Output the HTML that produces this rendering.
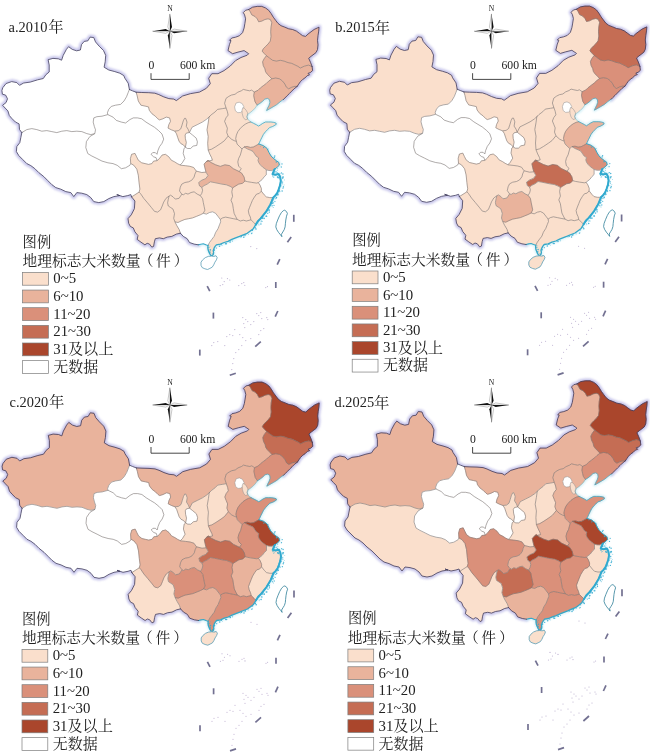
<!DOCTYPE html>
<html><head><meta charset="utf-8"><style>
html,body{margin:0;padding:0;background:#fff}
body{width:650px;height:754px;overflow:hidden}
svg{display:block}
text{font-family:"Liberation Serif","Noto Serif CJK SC",serif}
svg{opacity:0.999}
</style></head><body>
<svg width="650" height="754" viewBox="0 0 650 754">
<rect width="650" height="754" fill="#fff"/>
<defs><filter id="bl" x="-5%" y="-5%" width="110%" height="110%"><feGaussianBlur stdDeviation="0.9"/></filter></defs>
<g transform="translate(-328.2,-374.4)">
<path d="M350.0 507.0L347.7 503.9L347.3 498.3L343.6 496.4L339.9 492.7L337.5 489.9L336.1 485.3L333.4 482.5L330.8 479.7L334.3 476.9L335.7 473.2L333.8 469.5L330.6 468.6L330.1 464.9L331.0 462.1L334.3 457.9L339.9 456.0L345.0 457.0L347.7 459.7L351.9 457.4L358.4 456.5L365.9 454.2L371.5 452.9L374.1 449.1L377.4 446.4L377.4 439.4L376.3 434.1L381.1 432.8L386.5 433.2L389.8 434.6L391.4 429.8L394.6 423.8L396.8 421.1L400.5 423.8L404.8 425.2L408.6 424.4L409.7 419.0L412.4 415.8L416.1 415.2L418.3 411.5L422.0 412.0L423.7 416.3L427.4 420.6L431.7 424.9L433.9 429.8L433.4 436.2L432.3 441.6L437.0 444.4L443.0 446.0L448.0 447.6L452.0 450.0L453.0 452.5L456.4 457.6L457.6 463.9M457.6 463.9L460.6 465.2L464.3 466.6M350.0 507.0L349.0 512.0L348.0 517.0L345.0 521.0L344.6 526.0L347.0 530.0L351.0 534.0L355.0 538.0L359.0 540.0L363.0 543.0L367.0 547.0L372.0 551.0L376.0 555.0L380.0 559.0L384.0 562.0L389.0 563.6L394.0 566.0L399.0 567.0L402.0 571.0L405.0 567.0L410.0 567.6L415.0 569.0L419.0 572.0L422.0 576.0L427.0 577.0L432.0 576.0L437.0 573.0L442.0 571.0L448.0 570.0L445.0 569.0L451.0 571.0L456.0 570.0L459.0 569.0L459.8 571.3M459.8 571.3L463.1 575.4L462.6 583.1L459.5 589.2L456.2 593.1L456.9 597.7L458.5 600.8L461.5 602.3L463.1 606.2L466.2 610.0L465.4 613.8L469.2 616.6L473.1 619.2L475.4 617.7L477.7 618.5L480.0 621.5L481.8 620.8L482.6 616.2L483.5 613.1L487.7 612.3L491.5 613.1L495.4 611.5L500.0 610.8L504.6 608.5L508.6 607.6M508.6 607.6L511.5 610.8L515.4 613.1L517.7 616.9L522.3 618.5L526.5 619.2M611.5 474.0L613.1 472.4L615.4 470.1L617.7 467.8L620.0 465.5L622.3 463.2L625.4 460.8M625.4 460.8L626.9 458.5L628.5 456.2L630.8 453.9L633.1 452.4L635.4 450.1L637.7 449.3L636.2 447.8L638.5 447.0L640.8 445.0L640.3 441.0M576.9 383.9L580.8 381.6L585.4 380.8L590.0 380.8L593.8 382.4L596.9 384.7L599.2 387.8L601.5 391.6L603.8 394.7L606.2 397.8L609.2 400.1L613.1 401.6L616.9 403.2L620.8 403.9L624.6 405.5L627.7 407.8L630.8 410.1L633.8 410.8L636.2 408.5L639.2 406.2L642.3 403.9L645.4 402.4L647.2 401.6L646.9 405.5L646.2 410.1L645.7 414.7L646.2 419.3L645.7 423.9L644.2 427.0L639.3 430.7L636.9 432.7L638.7 436.7L640.3 441.0M464.3 466.6L470.0 466.9L477.0 467.1L483.0 467.6L487.0 469.0L492.0 471.3L497.0 473.0L502.0 473.5L504.5 475.0L507.7 472.7L510.8 470.4L518.5 468.1L527.7 466.5L534.6 462.7L538.5 458.1L536.9 452.7L540.0 448.1L546.2 448.1L552.3 445.0L558.5 440.4L563.8 435.0L569.2 431.9L575.4 429.6L576.9 428.1L572.3 425.0L566.2 426.5L560.8 428.1L556.2 425.0L557.7 418.8L559.2 415.0L557.7 414.7L560.0 412.4L563.8 411.6L567.7 410.1L570.8 407.0L572.3 402.4L573.1 397.8L573.8 393.2L572.8 389.3L571.5 387.0L573.8 384.7L576.9 383.9" fill="none" stroke="#bfbde8" stroke-width="4.6" stroke-linejoin="round" stroke-linecap="round" opacity="0.88" filter="url(#bl)"/>
<path d="M526.5 619.2L529.0 618.6L531.5 618.2L534.0 619.2L536.2 620.0M536.2 620.0L536.0 622.0L536.4 624.5L537.3 626.8L538.2 628.6L539.0 629.8L540.4 630.0L541.5 628.8L541.8 627.0L541.4 625.0L542.2 622.8L543.3 620.8L544.6 619.2L548.5 618.5L552.3 616.9L556.2 615.7L560.0 613.8L563.8 612.3L567.7 610.8L571.5 609.2L575.4 607.7L578.5 605.4L581.5 603.1L584.0 599.0M587.0 518.4L591.7 520.1L595.2 522.8L597.2 527.0L599.3 530.5L602.1 533.2L604.8 535.3L606.9 536.7L607.6 539.5L605.5 541.5L602.8 543.6M602.8 543.6L600.7 548.5L603.5 549.2L606.9 548.5L608.3 551.2L609.0 555.4L608.3 559.5L606.9 563.7L605.5 567.2L603.5 569.9L601.4 572.0M601.4 572.0L600.0 575.5L598.6 578.9L596.5 582.4L594.5 585.8L591.7 589.3L588.9 592.8L586.2 595.5L584.0 599.0M579.2 496.4L581.9 497.8L584.7 499.2L586.8 500.5L588.8 499.2L590.9 497.8L593.7 496.4L596.5 496.4L599.2 496.4L602.0 496.8L604.1 497.4L604.5 498.7L602.3 500.1L600.6 501.0L597.8 501.9L595.8 504.0L593.7 506.1L591.6 508.8L590.2 511.6L588.8 514.4L587.5 517.2L587.0 518.4M585.4 479.5L583.3 482.5L580.5 485.3L577.8 487.4L575.7 488.8L575.0 490.8L575.7 492.9L577.1 495.0L579.2 496.4M585.4 479.5L588.2 477.7L590.9 475.6L593.0 473.5L595.8 472.8L597.8 474.2L598.1 477.0L597.2 479.8L595.8 482.5L594.8 484.9L597.8 483.2L601.3 481.2L604.8 479.1L608.2 476.3L611.0 474.2L611.5 474.0" fill="none" stroke="#bfeaf5" stroke-width="3" stroke-linejoin="round" stroke-linecap="round" opacity="0.7" filter="url(#bl)"/>
<path d="M350.0 507.0L347.7 503.9L347.3 498.3L343.6 496.4L339.9 492.7L337.5 489.9L336.1 485.3L333.4 482.5L330.8 479.7L334.3 476.9L335.7 473.2L333.8 469.5L330.6 468.6L330.1 464.9L331.0 462.1L334.3 457.9L339.9 456.0L345.0 457.0L347.7 459.7L351.9 457.4L358.4 456.5L365.9 454.2L371.5 452.9L374.1 449.1L377.4 446.4L377.4 439.4L376.3 434.1L381.1 432.8L386.5 433.2L389.8 434.6L391.4 429.8L394.6 423.8L396.8 421.1L400.5 423.8L404.8 425.2L408.6 424.4L409.7 419.0L412.4 415.8L416.1 415.2L418.3 411.5L422.0 412.0L423.7 416.3L427.4 420.6L431.7 424.9L433.9 429.8L433.4 436.2L432.3 441.6L437.0 444.4L443.0 446.0L448.0 447.6L452.0 450.0L453.0 452.5L456.4 457.6L457.6 463.9L456.4 466.9L454.7 471.2L452.2 475.4L448.8 478.8L443.7 479.6L439.5 480.8L436.9 483.8L435.6 487.2L436.0 489.0L430.2 490.6L425.1 491.1L422.0 492.3L421.4 496.5L422.5 500.8L423.7 504.2L423.0 508.0L419.0 509.0L415.0 508.0L410.0 506.0L405.0 505.6L400.0 506.0L395.0 505.0L390.0 505.6L385.0 507.0L380.0 506.0L375.0 505.0L370.0 505.6L365.0 504.0L360.0 503.0L355.0 504.0Z" fill="#ffffff" stroke="#ffffff" stroke-width="0.4"/>
<path d="M350.0 507.0L355.0 504.0L360.0 503.0L365.0 504.0L370.0 505.6L375.0 505.0L380.0 506.0L385.0 507.0L390.0 505.6L395.0 505.0L400.0 506.0L405.0 505.6L410.0 506.0L415.0 508.0L419.0 509.0L423.0 508.0L418.0 511.0L414.6 516.0L414.0 522.0L416.0 528.0L420.0 530.4L425.1 532.9L430.2 535.5L436.1 537.2L441.2 538.0L445.4 539.7L449.6 543.1L453.8 542.2L458.1 539.7L458.9 537.9L461.9 539.6L465.0 543.5L466.5 549.6L467.3 557.3L468.1 563.5L467.3 566.5L459.8 571.3L459.0 569.0L456.0 570.0L451.0 571.0L445.0 569.0L448.0 570.0L442.0 571.0L437.0 573.0L432.0 576.0L427.0 577.0L422.0 576.0L419.0 572.0L415.0 569.0L410.0 567.6L405.0 567.0L402.0 571.0L399.0 567.0L394.0 566.0L389.0 563.6L384.0 562.0L380.0 559.0L376.0 555.0L372.0 551.0L367.0 547.0L363.0 543.0L359.0 540.0L355.0 538.0L351.0 534.0L347.0 530.0L344.6 526.0L345.0 521.0L348.0 517.0L349.0 512.0Z" fill="#ffffff" stroke="#ffffff" stroke-width="0.4"/>
<path d="M423.0 508.0L423.7 504.2L422.5 500.8L421.4 496.5L422.0 492.3L425.1 491.1L430.2 490.6L436.0 489.0L441.2 491.5L444.5 494.8L449.6 496.5L453.8 497.4L458.1 494.0L461.5 492.3L465.7 492.3L469.9 493.2L474.2 496.5L478.4 499.1L482.6 501.6L486.8 505.0L490.2 508.4L491.9 513.5L490.2 517.7L487.7 521.1L486.0 525.3L485.2 528.7L483.5 527.0L480.9 527.0L479.2 528.7L481.8 531.2L484.3 532.1L485.2 535.1L481.8 535.5L480.1 538.0L476.7 538.8L473.3 538.0L469.9 537.2L466.5 534.6L464.8 531.2L463.2 527.8L459.8 528.7L458.6 532.9L458.9 537.9L458.1 539.7L453.8 542.2L449.6 543.1L445.4 539.7L441.2 538.0L436.1 537.2L430.2 535.5L425.1 532.9L420.0 530.4L416.0 528.0L414.0 522.0L414.6 516.0L418.0 511.0Z" fill="#ffffff" stroke="#ffffff" stroke-width="0.4"/>
<path d="M436.0 489.0L435.6 487.2L436.9 483.8L439.5 480.8L443.7 479.6L448.8 478.8L452.2 475.4L454.7 471.2L456.4 466.9L457.6 463.9L460.6 465.2L464.3 466.6L465.4 470.3L466.5 475.4L469.1 479.6L473.3 480.5L476.7 481.3L477.5 484.7L480.1 488.1L483.5 490.6L486.0 493.2L487.7 494.3L491.1 493.2L494.5 491.5L497.8 492.3L498.7 495.7L497.0 499.1L496.2 502.5L499.5 504.2L503.0 505.5L504.7 508.2L505.9 511.8L507.2 515.5L509.0 518.0L511.5 519.2L513.6 521.7L512.2 522.8L511.4 527.8L513.1 532.9L510.5 537.2L508.3 539.4L505.5 538.0L502.9 536.3L499.5 534.6L497.0 531.2L493.6 528.7L490.2 529.5L487.7 532.9L485.2 535.1L484.3 532.1L481.8 531.2L479.2 528.7L480.9 527.0L483.5 527.0L485.2 528.7L486.0 525.3L487.7 521.1L490.2 517.7L491.9 513.5L490.2 508.4L486.8 505.0L482.6 501.6L478.4 499.1L474.2 496.5L469.9 493.2L465.7 492.3L461.5 492.3L458.1 494.0L453.8 497.4L449.6 496.5L444.5 494.8L441.2 491.5Z" fill="#ffffff" stroke="#ffffff" stroke-width="0.4"/>
<path d="M517.6 506.9L514.5 507.5L513.3 509.4L513.6 513.1L514.5 516.8L513.6 521.7L515.8 522.9L518.8 522.9L521.3 520.5L525.0 519.8L525.6 516.2L524.4 512.5L520.7 509.4Z" fill="#ffffff" stroke="#ffffff" stroke-width="0.4"/>
<path d="M464.3 466.6L465.4 470.3L466.5 475.4L469.1 479.6L473.3 480.5L476.7 481.3L477.5 484.7L480.1 488.1L483.5 490.6L486.0 493.2L487.7 494.3L491.1 493.2L494.5 491.5L497.8 492.3L498.7 495.7L497.0 499.1L496.2 502.5L499.5 504.2L503.0 505.5L506.5 505.1L509.0 503.2L510.2 499.5L511.5 495.2L512.7 492.8L513.9 492.8L515.2 496.5L514.5 500.8L516.4 503.8L517.6 506.9L520.3 501.6L525.4 499.1L530.5 496.5L534.7 493.7L538.1 490.6L539.3 489.3L543.2 486.4L545.7 483.8L550.8 483.0L554.3 482.4L552.8 477.7L554.2 472.8L557.0 470.8L559.8 469.4L563.2 468.7L566.0 466.6L569.5 465.2L571.5 463.8L574.3 464.5L577.8 465.2L579.8 464.5L582.5 466.4L586.2 464.7L588.5 462.4L591.5 460.1L594.6 457.8L596.9 455.5L600.0 453.2L597.7 450.8L595.4 448.5L593.8 446.2L593.1 443.2L591.5 440.1L590.8 436.2L592.3 433.2L594.6 430.1L592.3 427.8L590.3 425.5L591.5 423.2L593.8 420.8L596.2 418.5L598.5 415.5L599.2 410.8L598.9 406.2L599.2 401.6L600.0 397.0L598.5 393.9L596.2 393.2L593.1 393.9L590.0 395.5L586.9 396.2L585.4 393.2L583.1 390.8L580.0 389.3L578.5 386.2L576.9 383.9L573.8 384.7L571.5 387.0L572.8 389.3L573.8 393.2L573.1 397.8L572.3 402.4L570.8 407.0L567.7 410.1L563.8 411.6L560.0 412.4L557.7 414.7L559.2 415.0L557.7 418.8L556.2 425.0L560.8 428.1L566.2 426.5L572.3 425.0L576.9 428.1L575.4 429.6L569.2 431.9L563.8 435.0L558.5 440.4L552.3 445.0L546.2 448.1L540.0 448.1L536.9 452.7L538.5 458.1L534.6 462.7L527.7 466.5L518.5 468.1L510.8 470.4L507.7 472.7L504.5 475.0L502.0 473.5L497.0 473.0L492.0 471.3L487.0 469.0L483.0 467.6L477.0 467.1L470.0 466.9Z" fill="#FADFCC" stroke="#FADFCC" stroke-width="0.4"/>
<path d="M503.0 505.5L504.7 508.2L505.9 511.8L507.2 515.5L509.0 518.0L511.5 519.2L513.6 521.7L514.5 516.8L513.6 513.1L513.3 509.4L514.5 507.5L517.6 506.9L516.4 503.8L514.5 500.8L515.2 496.5L513.9 492.8L512.7 492.8L511.5 495.2L510.2 499.5L509.0 503.2L506.5 505.1Z" fill="#FADFCC" stroke="#FADFCC" stroke-width="0.4"/>
<path d="M517.6 506.9L520.7 509.4L524.4 512.5L525.6 516.2L525.0 519.8L521.3 520.5L518.8 522.9L515.8 522.9L513.6 521.7L512.2 522.8L511.4 527.8L513.1 532.9L510.5 537.2L508.3 539.4L508.8 539.6L513.5 540.1L518.1 540.7L521.9 541.9L524.5 545.5L530.0 546.9L534.2 546.5L533.1 542.3L532.3 538.5L534.5 536.0L540.6 534.6L539.8 532.1L538.1 528.7L536.4 524.5L535.9 517.7L536.4 510.9L535.2 504.2L536.4 497.4L537.2 491.5L538.1 490.6L534.7 493.7L530.5 496.5L525.4 499.1L520.3 501.6Z" fill="#ffffff" stroke="#ffffff" stroke-width="0.4"/>
<path d="M536.4 524.5L535.9 517.7L536.4 510.9L535.2 504.2L536.4 497.4L537.2 491.5L538.1 490.6L539.3 489.3L543.2 486.4L545.7 483.8L550.8 483.0L554.3 482.4L555.6 486.0L556.3 489.5L554.2 492.2L552.8 495.7L554.2 499.2L555.6 502.6L554.9 506.8L556.3 510.5L552.5 515.2L549.1 517.7L544.0 521.1L539.8 523.6Z" fill="#FADFCC" stroke="#FADFCC" stroke-width="0.4"/>
<path d="M554.3 482.4L555.6 486.0L556.3 489.5L554.2 492.2L552.8 495.7L554.2 499.2L555.6 502.6L554.9 506.8L556.3 510.5L559.8 513.7L562.5 515.1L564.6 515.8L563.9 513.0L564.6 509.5L566.0 506.1L568.1 503.3L570.8 500.5L573.6 498.5L576.4 497.1L579.2 496.4L577.1 495.0L575.7 492.9L575.0 490.8L575.7 488.8L577.8 487.4L580.5 485.3L583.3 482.5L585.4 479.5L584.7 478.4L583.3 476.3L582.6 473.5L581.9 470.1L582.5 466.4L579.8 464.5L577.8 465.2L574.3 464.5L571.5 463.8L569.5 465.2L566.0 466.6L563.2 468.7L559.8 469.4L557.0 470.8L554.2 472.8L552.8 477.7Z" fill="#FADFCC" stroke="#FADFCC" stroke-width="0.4"/>
<path d="M585.4 479.5L588.2 477.7L590.9 475.6L593.0 473.5L595.8 472.8L597.8 474.2L598.1 477.0L597.2 479.8L595.8 482.5L594.8 484.9L597.8 483.2L601.3 481.2L604.8 479.1L608.2 476.3L611.0 474.2L611.5 474.0L613.1 472.4L615.4 470.1L617.7 467.8L620.0 465.5L622.3 463.2L625.4 460.8L623.1 460.8L620.0 461.6L616.9 463.2L614.6 461.6L613.1 458.5L610.8 455.5L607.7 453.2L603.8 452.4L600.0 453.2L596.9 455.5L594.6 457.8L591.5 460.1L588.5 462.4L586.2 464.7L582.5 466.4L581.9 470.1L582.6 473.5L583.3 476.3L584.7 478.4Z" fill="#E9B39C" stroke="#E9B39C" stroke-width="0.4"/>
<path d="M625.4 460.8L626.9 458.5L628.5 456.2L630.8 453.9L633.1 452.4L635.4 450.1L637.7 449.3L636.2 447.8L638.5 447.0L640.8 445.0L640.3 441.0L636.7 439.5L632.7 440.5L628.5 442.4L626.2 440.8L623.1 439.3L620.0 437.8L616.2 437.0L612.3 435.5L608.5 434.7L604.6 435.5L600.8 434.7L597.7 432.4L594.6 430.1L592.3 433.2L590.8 436.2L591.5 440.1L593.1 443.2L593.8 446.2L595.4 448.5L597.7 450.8L600.0 453.2L603.8 452.4L607.7 453.2L610.8 455.5L613.1 458.5L614.6 461.6L616.9 463.2L620.0 461.6L623.1 460.8Z" fill="#E9B39C" stroke="#E9B39C" stroke-width="0.4"/>
<path d="M576.9 383.9L580.8 381.6L585.4 380.8L590.0 380.8L593.8 382.4L596.9 384.7L599.2 387.8L601.5 391.6L603.8 394.7L606.2 397.8L609.2 400.1L613.1 401.6L616.9 403.2L620.8 403.9L624.6 405.5L627.7 407.8L630.8 410.1L633.8 410.8L636.2 408.5L639.2 406.2L642.3 403.9L645.4 402.4L647.2 401.6L646.9 405.5L646.2 410.1L645.7 414.7L646.2 419.3L645.7 423.9L644.2 427.0L639.3 430.7L636.9 432.7L638.7 436.7L640.3 441.0L636.7 439.5L632.7 440.5L628.5 442.4L626.2 440.8L623.1 439.3L620.0 437.8L616.2 437.0L612.3 435.5L608.5 434.7L604.6 435.5L600.8 434.7L597.7 432.4L594.6 430.1L592.3 427.8L590.3 425.5L591.5 423.2L593.8 420.8L596.2 418.5L598.5 415.5L599.2 410.8L598.9 406.2L599.2 401.6L600.0 397.0L598.5 393.9L596.2 393.2L593.1 393.9L590.0 395.5L586.9 396.2L585.4 393.2L583.1 390.8L580.0 389.3L578.5 386.2Z" fill="#E9B39C" stroke="#E9B39C" stroke-width="0.4"/>
<path d="M564.6 515.8L563.9 513.0L564.6 509.5L566.0 506.1L568.1 503.3L570.8 500.5L573.6 498.5L576.4 497.1L579.2 496.4L581.9 497.8L584.7 499.2L586.8 500.5L588.8 499.2L590.9 497.8L593.7 496.4L596.5 496.4L599.2 496.4L602.0 496.8L604.1 497.4L604.5 498.7L602.3 500.1L600.6 501.0L597.8 501.9L595.8 504.0L593.7 506.1L591.6 508.8L590.2 511.6L588.8 514.4L587.5 517.2L587.0 518.4L583.8 520.2L581.5 521.4L578.5 521.8L575.4 520.9L572.2 521.3L570.2 523.4L567.4 520.6L565.3 518.5Z" fill="#FADFCC" stroke="#FADFCC" stroke-width="0.4"/>
<path d="M534.5 536.0L540.6 534.6L539.8 532.1L538.1 528.7L536.4 524.5L539.8 523.6L544.0 521.1L549.1 517.7L552.5 515.2L556.3 510.5L559.8 513.7L562.5 515.1L564.6 515.8L565.3 518.5L567.4 520.6L570.2 523.4L568.5 529.5L566.8 532.9L566.0 536.3L566.8 540.5L569.4 543.1L567.5 546.0L561.5 543.1L557.7 540.0L553.1 539.2L548.5 540.8L543.8 539.2L539.2 536.9L536.2 534.6Z" fill="#FADFCC" stroke="#FADFCC" stroke-width="0.4"/>
<path d="M572.2 521.3L575.4 520.9L578.5 521.8L581.5 521.4L583.8 520.2L587.0 518.4L591.7 520.1L595.2 522.8L597.2 527.0L599.3 530.5L602.1 533.2L604.8 535.3L606.9 536.7L607.6 539.5L605.5 541.5L602.8 543.6L600.0 545.0L597.0 544.9L594.5 544.2L593.1 543.1L590.8 541.5L588.5 539.2L586.9 536.9L586.2 534.6L586.9 532.3L584.6 530.8L582.7 528.1L581.2 525.8L578.5 524.5L575.4 523.2Z" fill="#E9B39C" stroke="#E9B39C" stroke-width="0.4"/>
<path d="M570.2 523.4L572.2 521.3L575.4 523.2L578.5 524.5L581.2 525.8L582.7 528.1L584.6 530.8L586.9 532.3L586.2 534.6L586.9 536.9L588.5 539.2L590.8 541.5L593.1 543.1L594.5 544.2L594.5 549.2L592.4 551.2L590.3 554.0L586.5 557.0L584.8 557.5L579.9 556.8L575.8 556.1L573.1 555.4L572.3 551.5L570.0 547.7L567.5 546.0L569.4 543.1L566.8 540.5L566.0 536.3L566.8 532.9L568.5 529.5Z" fill="#FADFCC" stroke="#FADFCC" stroke-width="0.4"/>
<path d="M589.5 565.5L589.6 563.0L588.2 559.5L586.5 557.0L590.3 554.0L592.4 551.2L594.5 549.2L594.5 544.2L597.0 544.9L600.0 545.0L602.8 543.6L600.7 548.5L603.5 549.2L606.9 548.5L608.3 551.2L609.0 555.4L608.3 559.5L606.9 563.7L605.5 567.2L603.5 569.9L601.4 572.0L597.9 572.0L594.5 571.3L592.4 569.2Z" fill="#ffffff" stroke="#ffffff" stroke-width="0.4"/>
<path d="M579.2 594.2L582.0 597.0L584.0 599.0L586.2 595.5L588.9 592.8L591.7 589.3L594.5 585.8L596.5 582.4L598.6 578.9L600.0 575.5L601.4 572.0L597.9 572.0L594.5 571.3L592.4 569.2L589.5 565.5L587.5 567.8L584.8 568.5L582.7 571.3L580.6 574.8L579.2 578.2L577.8 581.7L576.5 585.2L577.2 588.6L578.5 591.4Z" fill="#FADFCC" stroke="#FADFCC" stroke-width="0.4"/>
<path d="M573.1 555.4L570.8 557.7L566.9 558.5L563.1 560.8L560.8 562.3L560.0 566.2L560.8 570.8L559.2 574.6L560.8 578.5L561.5 583.1L562.3 587.7L563.8 590.8L565.4 593.8L568.5 595.4L571.5 594.6L574.6 595.4L579.2 594.2L578.5 591.4L577.2 588.6L576.5 585.2L577.8 581.7L579.2 578.2L580.6 574.8L582.7 571.3L584.8 568.5L587.5 567.8L589.5 565.5L589.6 563.0L588.2 559.5L586.5 557.0L584.8 557.5L579.9 556.8L575.8 556.1Z" fill="#FADFCC" stroke="#FADFCC" stroke-width="0.4"/>
<path d="M534.2 546.5L536.2 550.0L533.8 553.1L530.0 554.6L526.9 556.9L527.7 560.3L530.0 561.8L532.3 560.0L535.4 558.5L538.5 556.2L542.3 556.9L546.2 557.7L550.0 558.5L554.6 559.2L558.5 560.8L560.8 562.3L563.1 560.8L566.9 558.5L570.8 557.7L573.1 555.4L572.3 551.5L570.0 547.7L567.5 546.0L561.5 543.1L557.7 540.0L553.1 539.2L548.5 540.8L543.8 539.2L539.2 536.9L536.2 534.6L534.5 536.0L532.3 538.5L533.1 542.3Z" fill="#E9B39C" stroke="#E9B39C" stroke-width="0.4"/>
<path d="M528.5 570.0L530.8 573.1L531.5 576.9L532.3 580.8L533.1 584.6L531.5 587.7L534.6 588.5L537.7 586.9L540.8 586.2L543.8 587.7L546.2 590.8L548.5 593.8L550.8 592.3L553.8 591.5L557.7 592.3L561.5 593.1L565.4 593.8L563.8 590.8L562.3 587.7L561.5 583.1L560.8 578.5L559.2 574.6L560.8 570.8L560.0 566.2L560.8 562.3L558.5 560.8L554.6 559.2L550.0 558.5L546.2 557.7L542.3 556.9L538.5 556.2L535.4 558.5L532.3 560.0L530.0 561.8L530.8 564.6L530.0 567.7Z" fill="#FADFCC" stroke="#FADFCC" stroke-width="0.4"/>
<path d="M565.4 593.8L561.5 593.1L557.7 592.3L553.8 591.5L550.8 592.3L548.5 593.8L548.9 596.2L547.7 599.2L546.2 603.1L543.8 606.9L542.3 610.8L540.0 613.8L537.7 616.9L536.2 620.0L536.0 622.0L536.4 624.5L537.3 626.8L538.2 628.6L539.0 629.8L540.4 630.0L541.5 628.8L541.8 627.0L541.4 625.0L542.2 622.8L543.3 620.8L544.6 619.2L548.5 618.5L552.3 616.9L556.2 615.7L560.0 613.8L563.8 612.3L567.7 610.8L571.5 609.2L575.4 607.7L578.5 605.4L581.5 603.1L584.0 599.0L582.0 597.0L579.2 594.2L574.6 595.4L571.5 594.6L568.5 595.4Z" fill="#FADFCC" stroke="#FADFCC" stroke-width="0.4"/>
<path d="M508.6 607.6L511.5 610.8L515.4 613.1L517.7 616.9L522.3 618.5L526.5 619.2L529.0 618.6L531.5 618.2L534.0 619.2L536.2 620.0L537.7 616.9L540.0 613.8L542.3 610.8L543.8 606.9L546.2 603.1L547.7 599.2L548.9 596.2L548.5 593.8L546.2 590.8L543.8 587.7L540.8 586.2L537.7 586.9L534.6 588.5L531.5 587.7L528.5 589.2L524.6 590.8L520.8 592.3L516.9 593.1L513.1 593.8L509.2 595.4L506.2 596.9L503.1 596.2L505.0 600.0L507.4 604.0Z" fill="#ffffff" stroke="#ffffff" stroke-width="0.4"/>
<path d="M510.0 568.6L507.3 572.7L503.5 573.5L501.2 571.2L498.8 569.6L497.3 570.4L496.5 573.5L495.8 577.3L496.5 580.4L498.8 581.9L501.2 583.5L502.7 588.1L501.9 592.7L503.1 596.2L506.2 596.9L509.2 595.4L513.1 593.8L516.9 593.1L520.8 592.3L524.6 590.8L528.5 589.2L531.5 587.7L533.1 584.6L532.3 580.8L531.5 576.9L530.8 573.1L528.5 570.0L525.4 568.5L522.3 566.2L519.2 566.9L516.2 568.5L513.8 567.7L511.5 569.2Z" fill="#FADFCC" stroke="#FADFCC" stroke-width="0.4"/>
<path d="M467.3 566.5L459.8 571.3L463.1 575.4L462.6 583.1L459.5 589.2L456.2 593.1L456.9 597.7L458.5 600.8L461.5 602.3L463.1 606.2L466.2 610.0L465.4 613.8L469.2 616.6L473.1 619.2L475.4 617.7L477.7 618.5L480.0 621.5L481.8 620.8L482.6 616.2L483.5 613.1L487.7 612.3L491.5 613.1L495.4 611.5L500.0 610.8L504.6 608.5L508.6 607.6L507.4 604.0L505.0 600.0L503.1 596.2L501.9 592.7L502.7 588.1L501.2 583.5L498.8 581.9L496.5 580.4L495.8 577.3L496.5 573.5L497.3 570.4L494.2 572.7L491.9 576.5L490.4 580.4L488.8 584.2L485.8 586.5L482.7 585.8L479.6 581.9L475.8 577.3L471.9 572.7L468.8 568.1Z" fill="#FADFCC" stroke="#FADFCC" stroke-width="0.4"/>
<path d="M458.9 537.9L458.6 532.9L459.8 528.7L463.2 527.8L464.8 531.2L466.5 534.6L469.9 537.2L473.3 538.0L476.7 538.8L480.1 538.0L481.8 535.5L485.2 535.1L487.7 532.9L490.2 529.5L493.6 528.7L497.0 531.2L499.5 534.6L502.9 536.3L505.5 538.0L508.3 539.4L508.8 539.6L513.5 540.1L518.1 540.7L521.9 541.9L524.5 545.5L523.1 548.5L522.3 551.5L520.0 554.6L516.9 556.2L513.1 556.9L510.0 558.5L508.5 561.5L507.7 565.4L510.0 568.6L507.3 572.7L503.5 573.5L501.2 571.2L498.8 569.6L497.3 570.4L494.2 572.7L491.9 576.5L490.4 580.4L488.8 584.2L485.8 586.5L482.7 585.8L479.6 581.9L475.8 577.3L471.9 572.7L468.8 568.1L467.3 566.5L468.1 563.5L467.3 557.3L466.5 549.6L465.0 543.5L461.9 539.6Z" fill="#FADFCC" stroke="#FADFCC" stroke-width="0.4"/>
<path d="M524.5 545.5L523.1 548.5L522.3 551.5L520.0 554.6L516.9 556.2L513.1 556.9L510.0 558.5L508.5 561.5L507.7 565.4L510.0 568.6L511.5 569.2L513.8 567.7L516.2 568.5L519.2 566.9L522.3 566.2L525.4 568.5L528.5 570.0L530.0 567.7L530.8 564.6L530.0 561.8L527.7 560.3L526.9 556.9L530.0 554.6L533.8 553.1L536.2 550.0L534.2 546.5L530.0 546.9Z" fill="#FADFCC" stroke="#FADFCC" stroke-width="0.4"/>
<path d="M564.3 477.4L567.4 476.6L570.4 478.0L572.1 481.2L571.3 484.6L569.0 486.8L566.0 487.1L563.6 485.2L562.8 481.3Z" fill="#ffffff" stroke="#8f8f8f" stroke-width="0.5"/>
<path d="M571.0 482.1L572.6 482.7L574.3 484.6L575.7 487.1L576.0 489.5L575.1 491.3L575.8 493.5L573.5 494.2L571.5 491.8L570.4 488.1L570.2 484.6Z" fill="#FADFCC" stroke="#8f8f8f" stroke-width="0.5"/>
<path d="M350.0 507.0L355.0 504.0L360.0 503.0L365.0 504.0L370.0 505.6L375.0 505.0L380.0 506.0L385.0 507.0L390.0 505.6L395.0 505.0L400.0 506.0L405.0 505.6L410.0 506.0L415.0 508.0L419.0 509.0L423.0 508.0M423.0 508.0L423.7 504.2L422.5 500.8L421.4 496.5L422.0 492.3L425.1 491.1L430.2 490.6L436.0 489.0M436.0 489.0L435.6 487.2L436.9 483.8L439.5 480.8L443.7 479.6L448.8 478.8L452.2 475.4L454.7 471.2L456.4 466.9L457.6 463.9M423.0 508.0L418.0 511.0L414.6 516.0L414.0 522.0L416.0 528.0L420.0 530.4L425.1 532.9L430.2 535.5L436.1 537.2L441.2 538.0L445.4 539.7L449.6 543.1L453.8 542.2L458.1 539.7L458.9 537.9M436.0 489.0L441.2 491.5L444.5 494.8L449.6 496.5L453.8 497.4L458.1 494.0L461.5 492.3L465.7 492.3L469.9 493.2L474.2 496.5L478.4 499.1L482.6 501.6L486.8 505.0L490.2 508.4L491.9 513.5L490.2 517.7L487.7 521.1L486.0 525.3L485.2 528.7L483.5 527.0L480.9 527.0L479.2 528.7L481.8 531.2L484.3 532.1L485.2 535.1M458.9 537.9L458.6 532.9L459.8 528.7L463.2 527.8L464.8 531.2L466.5 534.6L469.9 537.2L473.3 538.0L476.7 538.8L480.1 538.0L481.8 535.5L485.2 535.1M458.9 537.9L461.9 539.6L465.0 543.5L466.5 549.6L467.3 557.3L468.1 563.5L467.3 566.5M467.3 566.5L459.8 571.3M464.3 466.6L465.4 470.3L466.5 475.4L469.1 479.6L473.3 480.5L476.7 481.3L477.5 484.7L480.1 488.1L483.5 490.6L486.0 493.2L487.7 494.3L491.1 493.2L494.5 491.5L497.8 492.3L498.7 495.7L497.0 499.1L496.2 502.5L499.5 504.2L503.0 505.5M503.0 505.5L504.7 508.2L505.9 511.8L507.2 515.5L509.0 518.0L511.5 519.2L513.6 521.7M503.0 505.5L506.5 505.1L509.0 503.2L510.2 499.5L511.5 495.2L512.7 492.8L513.9 492.8L515.2 496.5L514.5 500.8L516.4 503.8L517.6 506.9M517.6 506.9L514.5 507.5L513.3 509.4L513.6 513.1L514.5 516.8L513.6 521.7M517.6 506.9L520.7 509.4L524.4 512.5L525.6 516.2L525.0 519.8L521.3 520.5L518.8 522.9L515.8 522.9L513.6 521.7M513.6 521.7L512.2 522.8L511.4 527.8L513.1 532.9L510.5 537.2L508.3 539.4M485.2 535.1L487.7 532.9L490.2 529.5L493.6 528.7L497.0 531.2L499.5 534.6L502.9 536.3L505.5 538.0L508.3 539.4M508.3 539.4L508.8 539.6L513.5 540.1L518.1 540.7L521.9 541.9L524.5 545.5M524.5 545.5L523.1 548.5L522.3 551.5L520.0 554.6L516.9 556.2L513.1 556.9L510.0 558.5L508.5 561.5L507.7 565.4L510.0 568.6M510.0 568.6L507.3 572.7L503.5 573.5L501.2 571.2L498.8 569.6L497.3 570.4M467.3 566.5L468.8 568.1L471.9 572.7L475.8 577.3L479.6 581.9L482.7 585.8L485.8 586.5L488.8 584.2L490.4 580.4L491.9 576.5L494.2 572.7L497.3 570.4M497.3 570.4L496.5 573.5L495.8 577.3L496.5 580.4L498.8 581.9L501.2 583.5L502.7 588.1L501.9 592.7L503.1 596.2M503.1 596.2L505.0 600.0L507.4 604.0L508.6 607.6M503.1 596.2L506.2 596.9L509.2 595.4L513.1 593.8L516.9 593.1L520.8 592.3L524.6 590.8L528.5 589.2L531.5 587.7M528.5 570.0L530.8 573.1L531.5 576.9L532.3 580.8L533.1 584.6L531.5 587.7M510.0 568.6L511.5 569.2L513.8 567.7L516.2 568.5L519.2 566.9L522.3 566.2L525.4 568.5L528.5 570.0M530.0 561.8L530.8 564.6L530.0 567.7L528.5 570.0M534.2 546.5L536.2 550.0L533.8 553.1L530.0 554.6L526.9 556.9L527.7 560.3L530.0 561.8M524.5 545.5L530.0 546.9L534.2 546.5M534.2 546.5L533.1 542.3L532.3 538.5L534.5 536.0M534.5 536.0L540.6 534.6L539.8 532.1L538.1 528.7L536.4 524.5M536.4 524.5L535.9 517.7L536.4 510.9L535.2 504.2L536.4 497.4L537.2 491.5L538.1 490.6M538.1 490.6L534.7 493.7L530.5 496.5L525.4 499.1L520.3 501.6L517.6 506.9M538.1 490.6L539.3 489.3L543.2 486.4L545.7 483.8L550.8 483.0L554.3 482.4M554.3 482.4L555.6 486.0L556.3 489.5L554.2 492.2L552.8 495.7L554.2 499.2L555.6 502.6L554.9 506.8L556.3 510.5M556.3 510.5L552.5 515.2L549.1 517.7L544.0 521.1L539.8 523.6L536.4 524.5M556.3 510.5L559.8 513.7L562.5 515.1L564.6 515.8M564.6 515.8L563.9 513.0L564.6 509.5L566.0 506.1L568.1 503.3L570.8 500.5L573.6 498.5L576.4 497.1L579.2 496.4M564.6 515.8L565.3 518.5L567.4 520.6L570.2 523.4M570.2 523.4L572.2 521.3M572.2 521.3L575.4 520.9L578.5 521.8L581.5 521.4L583.8 520.2L587.0 518.4M570.2 523.4L568.5 529.5L566.8 532.9L566.0 536.3L566.8 540.5L569.4 543.1L567.5 546.0M534.5 536.0L536.2 534.6L539.2 536.9L543.8 539.2L548.5 540.8L553.1 539.2L557.7 540.0L561.5 543.1L567.5 546.0M567.5 546.0L570.0 547.7L572.3 551.5L573.1 555.4M573.1 555.4L570.8 557.7L566.9 558.5L563.1 560.8L560.8 562.3M530.0 561.8L532.3 560.0L535.4 558.5L538.5 556.2L542.3 556.9L546.2 557.7L550.0 558.5L554.6 559.2L558.5 560.8L560.8 562.3M560.8 562.3L560.0 566.2L560.8 570.8L559.2 574.6L560.8 578.5L561.5 583.1L562.3 587.7L563.8 590.8L565.4 593.8M565.4 593.8L561.5 593.1L557.7 592.3L553.8 591.5L550.8 592.3L548.5 593.8M548.5 593.8L546.2 590.8L543.8 587.7L540.8 586.2L537.7 586.9L534.6 588.5L531.5 587.7M548.5 593.8L548.9 596.2L547.7 599.2L546.2 603.1L543.8 606.9L542.3 610.8L540.0 613.8L537.7 616.9L536.2 620.0M565.4 593.8L568.5 595.4L571.5 594.6L574.6 595.4L579.2 594.2M579.2 594.2L582.0 597.0L584.0 599.0M579.2 594.2L578.5 591.4L577.2 588.6L576.5 585.2L577.8 581.7L579.2 578.2L580.6 574.8L582.7 571.3L584.8 568.5L587.5 567.8L589.5 565.5M589.5 565.5L589.6 563.0L588.2 559.5L586.5 557.0M573.1 555.4L575.8 556.1L579.9 556.8L584.8 557.5L586.5 557.0M586.5 557.0L590.3 554.0L592.4 551.2L594.5 549.2L594.5 544.2M572.2 521.3L575.4 523.2L578.5 524.5L581.2 525.8L582.7 528.1L584.6 530.8L586.9 532.3L586.2 534.6L586.9 536.9L588.5 539.2L590.8 541.5L593.1 543.1L594.5 544.2M594.5 544.2L597.0 544.9L600.0 545.0L602.8 543.6M589.5 565.5L592.4 569.2L594.5 571.3L597.9 572.0L601.4 572.0M576.9 383.9L578.5 386.2L580.0 389.3L583.1 390.8L585.4 393.2L586.9 396.2L590.0 395.5L593.1 393.9L596.2 393.2L598.5 393.9L600.0 397.0L599.2 401.6L598.9 406.2L599.2 410.8L598.5 415.5L596.2 418.5L593.8 420.8L591.5 423.2L590.3 425.5L592.3 427.8L594.6 430.1M594.6 430.1L597.7 432.4L600.8 434.7L604.6 435.5L608.5 434.7L612.3 435.5L616.2 437.0L620.0 437.8L623.1 439.3L626.2 440.8L628.5 442.4L632.7 440.5L636.7 439.5L640.3 441.0M594.6 430.1L592.3 433.2L590.8 436.2L591.5 440.1L593.1 443.2L593.8 446.2L595.4 448.5L597.7 450.8L600.0 453.2M600.0 453.2L603.8 452.4L607.7 453.2L610.8 455.5L613.1 458.5L614.6 461.6L616.9 463.2L620.0 461.6L623.1 460.8L625.4 460.8M600.0 453.2L596.9 455.5L594.6 457.8L591.5 460.1L588.5 462.4L586.2 464.7L582.5 466.4M582.5 466.4L581.9 470.1L582.6 473.5L583.3 476.3L584.7 478.4L585.4 479.5M554.3 482.4L552.8 477.7L554.2 472.8L557.0 470.8L559.8 469.4L563.2 468.7L566.0 466.6L569.5 465.2L571.5 463.8L574.3 464.5L577.8 465.2L579.8 464.5L582.5 466.4" fill="none" stroke="#787270" stroke-width="0.6" stroke-linejoin="round"/>
<path d="M526.5 619.2L529.0 618.6L531.5 618.2L534.0 619.2L536.2 620.0" fill="none" stroke="#35a8c8" stroke-width="1.1" opacity="1.00" stroke-linejoin="round" stroke-linecap="round"/>
<path d="M536.2 620.0L536.0 622.0L536.4 624.5L537.3 626.8L538.2 628.6L539.0 629.8L540.4 630.0L541.5 628.8L541.8 627.0L541.4 625.0L542.2 622.8L543.3 620.8L544.6 619.2L548.5 618.5L552.3 616.9L556.2 615.7L560.0 613.8L563.8 612.3L567.7 610.8L571.5 609.2L575.4 607.7L578.5 605.4L581.5 603.1L584.0 599.0" fill="none" stroke="#35a8c8" stroke-width="1.3" opacity="1.00" stroke-linejoin="round" stroke-linecap="round"/>
<path d="M587.0 518.4L591.7 520.1L595.2 522.8L597.2 527.0L599.3 530.5L602.1 533.2L604.8 535.3L606.9 536.7L607.6 539.5L605.5 541.5L602.8 543.6" fill="none" stroke="#35a8c8" stroke-width="1.0" opacity="1.00" stroke-linejoin="round" stroke-linecap="round"/>
<path d="M602.8 543.6L600.7 548.5L603.5 549.2L606.9 548.5L608.3 551.2L609.0 555.4L608.3 559.5L606.9 563.7L605.5 567.2L603.5 569.9L601.4 572.0" fill="none" stroke="#35a8c8" stroke-width="1.4" opacity="1.00" stroke-linejoin="round" stroke-linecap="round"/>
<path d="M601.4 572.0L600.0 575.5L598.6 578.9L596.5 582.4L594.5 585.8L591.7 589.3L588.9 592.8L586.2 595.5L584.0 599.0" fill="none" stroke="#35a8c8" stroke-width="1.4" opacity="1.00" stroke-linejoin="round" stroke-linecap="round"/>
<path d="M579.2 496.4L581.9 497.8L584.7 499.2L586.8 500.5L588.8 499.2L590.9 497.8L593.7 496.4L596.5 496.4L599.2 496.4L602.0 496.8L604.1 497.4L604.5 498.7L602.3 500.1L600.6 501.0L597.8 501.9L595.8 504.0L593.7 506.1L591.6 508.8L590.2 511.6L588.8 514.4L587.5 517.2L587.0 518.4" fill="none" stroke="#35a8c8" stroke-width="0.9" opacity="0.85" stroke-linejoin="round" stroke-linecap="round"/>
<path d="M585.4 479.5L583.3 482.5L580.5 485.3L577.8 487.4L575.7 488.8L575.0 490.8L575.7 492.9L577.1 495.0L579.2 496.4" fill="none" stroke="#35a8c8" stroke-width="0.6" opacity="0.60" stroke-linejoin="round" stroke-linecap="round"/>
<path d="M585.4 479.5L588.2 477.7L590.9 475.6L593.0 473.5L595.8 472.8L597.8 474.2L598.1 477.0L597.2 479.8L595.8 482.5L594.8 484.9L597.8 483.2L601.3 481.2L604.8 479.1L608.2 476.3L611.0 474.2L611.5 474.0" fill="none" stroke="#35a8c8" stroke-width="0.8" opacity="0.80" stroke-linejoin="round" stroke-linecap="round"/>
<path d="M350.0 507.0L347.7 503.9L347.3 498.3L343.6 496.4L339.9 492.7L337.5 489.9L336.1 485.3L333.4 482.5L330.8 479.7L334.3 476.9L335.7 473.2L333.8 469.5L330.6 468.6L330.1 464.9L331.0 462.1L334.3 457.9L339.9 456.0L345.0 457.0L347.7 459.7L351.9 457.4L358.4 456.5L365.9 454.2L371.5 452.9L374.1 449.1L377.4 446.4L377.4 439.4L376.3 434.1L381.1 432.8L386.5 433.2L389.8 434.6L391.4 429.8L394.6 423.8L396.8 421.1L400.5 423.8L404.8 425.2L408.6 424.4L409.7 419.0L412.4 415.8L416.1 415.2L418.3 411.5L422.0 412.0L423.7 416.3L427.4 420.6L431.7 424.9L433.9 429.8L433.4 436.2L432.3 441.6L437.0 444.4L443.0 446.0L448.0 447.6L452.0 450.0L453.0 452.5L456.4 457.6L457.6 463.9M457.6 463.9L460.6 465.2L464.3 466.6M350.0 507.0L349.0 512.0L348.0 517.0L345.0 521.0L344.6 526.0L347.0 530.0L351.0 534.0L355.0 538.0L359.0 540.0L363.0 543.0L367.0 547.0L372.0 551.0L376.0 555.0L380.0 559.0L384.0 562.0L389.0 563.6L394.0 566.0L399.0 567.0L402.0 571.0L405.0 567.0L410.0 567.6L415.0 569.0L419.0 572.0L422.0 576.0L427.0 577.0L432.0 576.0L437.0 573.0L442.0 571.0L448.0 570.0L445.0 569.0L451.0 571.0L456.0 570.0L459.0 569.0L459.8 571.3M459.8 571.3L463.1 575.4L462.6 583.1L459.5 589.2L456.2 593.1L456.9 597.7L458.5 600.8L461.5 602.3L463.1 606.2L466.2 610.0L465.4 613.8L469.2 616.6L473.1 619.2L475.4 617.7L477.7 618.5L480.0 621.5L481.8 620.8L482.6 616.2L483.5 613.1L487.7 612.3L491.5 613.1L495.4 611.5L500.0 610.8L504.6 608.5L508.6 607.6M508.6 607.6L511.5 610.8L515.4 613.1L517.7 616.9L522.3 618.5L526.5 619.2M611.5 474.0L613.1 472.4L615.4 470.1L617.7 467.8L620.0 465.5L622.3 463.2L625.4 460.8M625.4 460.8L626.9 458.5L628.5 456.2L630.8 453.9L633.1 452.4L635.4 450.1L637.7 449.3L636.2 447.8L638.5 447.0L640.8 445.0L640.3 441.0M576.9 383.9L580.8 381.6L585.4 380.8L590.0 380.8L593.8 382.4L596.9 384.7L599.2 387.8L601.5 391.6L603.8 394.7L606.2 397.8L609.2 400.1L613.1 401.6L616.9 403.2L620.8 403.9L624.6 405.5L627.7 407.8L630.8 410.1L633.8 410.8L636.2 408.5L639.2 406.2L642.3 403.9L645.4 402.4L647.2 401.6L646.9 405.5L646.2 410.1L645.7 414.7L646.2 419.3L645.7 423.9L644.2 427.0L639.3 430.7L636.9 432.7L638.7 436.7L640.3 441.0M464.3 466.6L470.0 466.9L477.0 467.1L483.0 467.6L487.0 469.0L492.0 471.3L497.0 473.0L502.0 473.5L504.5 475.0L507.7 472.7L510.8 470.4L518.5 468.1L527.7 466.5L534.6 462.7L538.5 458.1L536.9 452.7L540.0 448.1L546.2 448.1L552.3 445.0L558.5 440.4L563.8 435.0L569.2 431.9L575.4 429.6L576.9 428.1L572.3 425.0L566.2 426.5L560.8 428.1L556.2 425.0L557.7 418.8L559.2 415.0L557.7 414.7L560.0 412.4L563.8 411.6L567.7 410.1L570.8 407.0L572.3 402.4L573.1 397.8L573.8 393.2L572.8 389.3L571.5 387.0L573.8 384.7L576.9 383.9" fill="none" stroke="#3d3a5c" stroke-width="0.8" stroke-linejoin="round" stroke-linecap="round"/>
<path d="M602.8 543.6L600.7 548.5L603.5 549.2L606.9 548.5L608.3 551.2L609.0 555.4L608.3 559.5L606.9 563.7L605.5 567.2L603.5 569.9L601.4 572.0M601.4 572.0L600.0 575.5L598.6 578.9L596.5 582.4L594.5 585.8L591.7 589.3L588.9 592.8L586.2 595.5L584.0 599.0" fill="none" stroke="#2fa9cf" stroke-width="2.0" stroke-linejoin="round" stroke-linecap="round" opacity="0.9"/>
<g fill="#2fa9cf" opacity="0.85"><circle cx="538.2" cy="620.5" r="0.38"/><circle cx="537.8" cy="621.9" r="0.37"/><circle cx="537.0" cy="622.0" r="0.54"/><circle cx="538.5" cy="624.3" r="0.78"/><circle cx="538.1" cy="626.4" r="0.74"/><circle cx="538.4" cy="626.6" r="0.49"/><circle cx="540.4" cy="628.1" r="0.52"/><circle cx="538.9" cy="631.0" r="0.66"/><circle cx="539.2" cy="631.8" r="0.55"/><circle cx="542.9" cy="630.5" r="0.46"/><circle cx="542.4" cy="624.8" r="0.54"/><circle cx="542.6" cy="624.2" r="0.65"/><circle cx="544.7" cy="622.4" r="0.61"/><circle cx="547.7" cy="620.7" r="0.80"/><circle cx="550.7" cy="619.9" r="0.36"/><circle cx="549.3" cy="619.1" r="0.70"/><circle cx="553.7" cy="618.1" r="0.74"/><circle cx="554.6" cy="618.2" r="0.75"/><circle cx="558.4" cy="616.3" r="0.75"/><circle cx="557.4" cy="616.5" r="0.46"/><circle cx="560.6" cy="615.4" r="0.52"/><circle cx="572.0" cy="611.6" r="0.74"/><circle cx="569.6" cy="611.1" r="0.64"/><circle cx="568.4" cy="611.8" r="0.42"/><circle cx="572.0" cy="609.9" r="0.42"/><circle cx="573.3" cy="609.5" r="0.74"/><circle cx="573.1" cy="610.2" r="0.51"/><circle cx="579.7" cy="608.0" r="0.56"/><circle cx="576.6" cy="608.6" r="0.47"/><circle cx="580.2" cy="607.5" r="0.59"/><circle cx="580.6" cy="604.8" r="0.59"/><circle cx="583.4" cy="602.2" r="0.70"/><circle cx="584.2" cy="603.4" r="0.79"/><circle cx="588.9" cy="520.7" r="0.36"/><circle cx="591.8" cy="521.9" r="0.66"/><circle cx="596.7" cy="523.3" r="0.44"/><circle cx="603.0" cy="530.4" r="0.70"/><circle cx="602.5" cy="531.6" r="0.71"/><circle cx="604.5" cy="536.4" r="0.76"/><circle cx="610.2" cy="538.3" r="0.65"/><circle cx="609.5" cy="541.4" r="0.64"/><circle cx="605.7" cy="543.2" r="0.46"/><circle cx="604.2" cy="545.7" r="0.41"/><circle cx="604.1" cy="546.2" r="0.61"/><circle cx="605.3" cy="547.1" r="0.58"/><circle cx="602.5" cy="546.5" r="0.55"/><circle cx="605.9" cy="545.0" r="0.43"/><circle cx="602.1" cy="551.5" r="0.50"/><circle cx="601.4" cy="552.1" r="0.40"/><circle cx="601.0" cy="550.3" r="0.70"/><circle cx="606.0" cy="551.9" r="0.76"/><circle cx="606.1" cy="551.1" r="0.58"/><circle cx="605.5" cy="551.3" r="0.57"/><circle cx="606.6" cy="552.2" r="0.77"/><circle cx="611.1" cy="548.3" r="0.73"/><circle cx="609.1" cy="547.8" r="0.38"/><circle cx="609.7" cy="547.3" r="0.70"/><circle cx="611.5" cy="551.4" r="0.65"/><circle cx="612.8" cy="554.3" r="0.45"/><circle cx="610.9" cy="552.5" r="0.80"/><circle cx="610.6" cy="551.5" r="0.58"/><circle cx="610.7" cy="556.5" r="0.67"/><circle cx="610.8" cy="558.0" r="0.36"/><circle cx="611.0" cy="558.4" r="0.38"/><circle cx="612.3" cy="559.3" r="0.40"/><circle cx="611.4" cy="560.7" r="0.47"/><circle cx="611.2" cy="562.5" r="0.72"/><circle cx="611.7" cy="561.3" r="0.61"/><circle cx="609.1" cy="560.2" r="0.66"/><circle cx="610.4" cy="565.4" r="0.64"/><circle cx="610.1" cy="565.3" r="0.38"/><circle cx="608.0" cy="566.0" r="0.60"/><circle cx="607.7" cy="565.1" r="0.59"/><circle cx="606.4" cy="568.2" r="0.37"/><circle cx="606.3" cy="569.1" r="0.69"/><circle cx="605.6" cy="569.4" r="0.51"/><circle cx="605.7" cy="568.4" r="0.68"/><circle cx="604.7" cy="572.0" r="0.77"/><circle cx="603.3" cy="573.2" r="0.57"/><circle cx="604.4" cy="572.5" r="0.66"/><circle cx="603.1" cy="576.0" r="0.64"/><circle cx="601.8" cy="573.6" r="0.41"/><circle cx="601.9" cy="575.2" r="0.42"/><circle cx="602.2" cy="579.7" r="0.65"/><circle cx="601.3" cy="576.9" r="0.56"/><circle cx="600.9" cy="577.6" r="0.78"/><circle cx="601.4" cy="581.8" r="0.49"/><circle cx="600.3" cy="580.0" r="0.56"/><circle cx="600.3" cy="580.9" r="0.35"/><circle cx="600.2" cy="580.3" r="0.37"/><circle cx="597.2" cy="584.2" r="0.61"/><circle cx="597.5" cy="586.5" r="0.67"/><circle cx="597.3" cy="584.7" r="0.79"/><circle cx="597.5" cy="586.4" r="0.37"/><circle cx="594.2" cy="590.7" r="0.68"/><circle cx="596.0" cy="587.9" r="0.58"/><circle cx="594.9" cy="590.8" r="0.61"/><circle cx="594.9" cy="590.1" r="0.45"/><circle cx="595.6" cy="587.5" r="0.40"/><circle cx="592.3" cy="593.0" r="0.63"/><circle cx="591.0" cy="591.5" r="0.71"/><circle cx="592.3" cy="592.6" r="0.65"/><circle cx="590.9" cy="592.9" r="0.38"/><circle cx="590.8" cy="592.7" r="0.68"/><circle cx="589.5" cy="595.5" r="0.66"/><circle cx="589.2" cy="596.5" r="0.38"/><circle cx="590.5" cy="595.7" r="0.49"/><circle cx="587.0" cy="596.1" r="0.47"/><circle cx="587.2" cy="599.5" r="0.48"/><circle cx="587.1" cy="598.4" r="0.40"/><circle cx="589.1" cy="598.3" r="0.77"/></g>
<path d="M529.2 636.6L530.8 634.3L533.5 632.0L536.5 630.8L539.6 630.5L542.3 630.8L544.2 630.1L545.4 632.0L544.6 634.3L543.1 636.6L541.9 639.3L540.4 641.6L538.1 642.8L535.8 643.9L533.1 643.2L530.4 642.0L529.2 639.7Z" fill="#ffffff" stroke="#5b9db5" stroke-width="0.8"/>
<path d="M612.9 584.6L614.7 586.0L615.6 587.9L614.7 590.6L614.0 594.4L613.6 598.1L613.3 601.3L612.4 604.1L611.0 606.4L609.6 608.7L610.1 611.1L608.7 609.2L606.8 606.9L605.0 604.1L604.0 601.3L604.5 598.1L605.9 594.4L607.7 590.2L609.6 586.9L611.5 585.1Z" fill="#fff" stroke="#2f7f98" stroke-width="0.8"/>
<path d="M622.0 589.2L622.0 596.2" stroke="#5a587e" stroke-width="1.7" opacity="0.85"/>
<path d="M615.6 616.6L619.4 611.5" stroke="#5a587e" stroke-width="1.7" opacity="0.85"/>
<path d="M605.4 639.0L608.0 633.6" stroke="#5a587e" stroke-width="1.7" opacity="0.85"/>
<path d="M604.0 656.4L604.0 662.4" stroke="#5a587e" stroke-width="1.7" opacity="0.85"/>
<path d="M603.4 691.0L606.0 685.4" stroke="#5a587e" stroke-width="1.7" opacity="0.85"/>
<path d="M583.4 721.0L589.0 716.0" stroke="#5a587e" stroke-width="1.7" opacity="0.85"/>
<path d="M558.0 749.6L564.0 747.6" stroke="#5a587e" stroke-width="1.7" opacity="0.85"/>
<path d="M528.0 724.0L528.0 730.0" stroke="#5a587e" stroke-width="1.7" opacity="0.85"/>
<path d="M541.6 687.0L541.6 693.0" stroke="#5a587e" stroke-width="1.7" opacity="0.85"/>
<path d="M535.4 660.6L538.0 665.6" stroke="#5a587e" stroke-width="1.7" opacity="0.85"/>
<g fill="#9a86b8" opacity="0.7"><circle cx="579.0" cy="621.0" r="0.55"/><circle cx="585.0" cy="623.0" r="0.55"/><circle cx="550.0" cy="652.4" r="0.55"/><circle cx="552.4" cy="656.0" r="0.55"/><circle cx="555.6" cy="653.0" r="0.55"/><circle cx="551.0" cy="659.0" r="0.55"/><circle cx="558.0" cy="654.4" r="0.55"/><circle cx="548.4" cy="660.0" r="0.55"/><circle cx="567.0" cy="660.0" r="0.55"/><circle cx="570.0" cy="658.0" r="0.55"/><circle cx="573.0" cy="659.6" r="0.55"/><circle cx="572.0" cy="657.0" r="0.55"/><circle cx="594.0" cy="662.0" r="0.55"/><circle cx="595.6" cy="661.0" r="0.55"/><circle cx="571.0" cy="692.0" r="0.55"/><circle cx="574.0" cy="694.0" r="0.55"/><circle cx="572.0" cy="698.0" r="0.55"/><circle cx="576.0" cy="696.0" r="0.55"/><circle cx="579.0" cy="699.0" r="0.55"/><circle cx="573.0" cy="702.0" r="0.55"/><circle cx="582.0" cy="696.0" r="0.55"/><circle cx="587.0" cy="690.0" r="0.55"/><circle cx="589.0" cy="687.0" r="0.55"/><circle cx="585.0" cy="688.0" r="0.55"/><circle cx="590.0" cy="693.0" r="0.55"/><circle cx="592.0" cy="703.0" r="0.55"/><circle cx="595.0" cy="692.0" r="0.55"/><circle cx="596.0" cy="694.0" r="0.55"/><circle cx="563.0" cy="704.0" r="0.55"/><circle cx="558.0" cy="709.0" r="0.55"/><circle cx="555.0" cy="711.0" r="0.55"/><circle cx="561.0" cy="710.0" r="0.55"/><circle cx="568.0" cy="709.0" r="0.55"/><circle cx="571.0" cy="712.0" r="0.55"/><circle cx="574.0" cy="715.0" r="0.55"/><circle cx="579.0" cy="713.0" r="0.55"/><circle cx="587.0" cy="709.0" r="0.55"/><circle cx="589.0" cy="705.0" r="0.55"/><circle cx="570.0" cy="720.0" r="0.55"/><circle cx="567.0" cy="724.0" r="0.55"/><circle cx="564.0" cy="727.0" r="0.55"/><circle cx="546.0" cy="716.0" r="0.55"/><circle cx="542.0" cy="717.0" r="0.55"/><circle cx="540.0" cy="720.0" r="0.55"/><circle cx="553.0" cy="720.0" r="0.55"/><circle cx="562.0" cy="733.0" r="0.55"/><circle cx="561.0" cy="738.0" r="0.55"/><circle cx="560.0" cy="744.0" r="0.55"/></g>
</g>
<g transform="translate(-0.4,-374.7)">
<path d="M350.0 507.0L347.7 503.9L347.3 498.3L343.6 496.4L339.9 492.7L337.5 489.9L336.1 485.3L333.4 482.5L330.8 479.7L334.3 476.9L335.7 473.2L333.8 469.5L330.6 468.6L330.1 464.9L331.0 462.1L334.3 457.9L339.9 456.0L345.0 457.0L347.7 459.7L351.9 457.4L358.4 456.5L365.9 454.2L371.5 452.9L374.1 449.1L377.4 446.4L377.4 439.4L376.3 434.1L381.1 432.8L386.5 433.2L389.8 434.6L391.4 429.8L394.6 423.8L396.8 421.1L400.5 423.8L404.8 425.2L408.6 424.4L409.7 419.0L412.4 415.8L416.1 415.2L418.3 411.5L422.0 412.0L423.7 416.3L427.4 420.6L431.7 424.9L433.9 429.8L433.4 436.2L432.3 441.6L437.0 444.4L443.0 446.0L448.0 447.6L452.0 450.0L453.0 452.5L456.4 457.6L457.6 463.9M457.6 463.9L460.6 465.2L464.3 466.6M350.0 507.0L349.0 512.0L348.0 517.0L345.0 521.0L344.6 526.0L347.0 530.0L351.0 534.0L355.0 538.0L359.0 540.0L363.0 543.0L367.0 547.0L372.0 551.0L376.0 555.0L380.0 559.0L384.0 562.0L389.0 563.6L394.0 566.0L399.0 567.0L402.0 571.0L405.0 567.0L410.0 567.6L415.0 569.0L419.0 572.0L422.0 576.0L427.0 577.0L432.0 576.0L437.0 573.0L442.0 571.0L448.0 570.0L445.0 569.0L451.0 571.0L456.0 570.0L459.0 569.0L459.8 571.3M459.8 571.3L463.1 575.4L462.6 583.1L459.5 589.2L456.2 593.1L456.9 597.7L458.5 600.8L461.5 602.3L463.1 606.2L466.2 610.0L465.4 613.8L469.2 616.6L473.1 619.2L475.4 617.7L477.7 618.5L480.0 621.5L481.8 620.8L482.6 616.2L483.5 613.1L487.7 612.3L491.5 613.1L495.4 611.5L500.0 610.8L504.6 608.5L508.6 607.6M508.6 607.6L511.5 610.8L515.4 613.1L517.7 616.9L522.3 618.5L526.5 619.2M611.5 474.0L613.1 472.4L615.4 470.1L617.7 467.8L620.0 465.5L622.3 463.2L625.4 460.8M625.4 460.8L626.9 458.5L628.5 456.2L630.8 453.9L633.1 452.4L635.4 450.1L637.7 449.3L636.2 447.8L638.5 447.0L640.8 445.0L640.3 441.0M576.9 383.9L580.8 381.6L585.4 380.8L590.0 380.8L593.8 382.4L596.9 384.7L599.2 387.8L601.5 391.6L603.8 394.7L606.2 397.8L609.2 400.1L613.1 401.6L616.9 403.2L620.8 403.9L624.6 405.5L627.7 407.8L630.8 410.1L633.8 410.8L636.2 408.5L639.2 406.2L642.3 403.9L645.4 402.4L647.2 401.6L646.9 405.5L646.2 410.1L645.7 414.7L646.2 419.3L645.7 423.9L644.2 427.0L639.3 430.7L636.9 432.7L638.7 436.7L640.3 441.0M464.3 466.6L470.0 466.9L477.0 467.1L483.0 467.6L487.0 469.0L492.0 471.3L497.0 473.0L502.0 473.5L504.5 475.0L507.7 472.7L510.8 470.4L518.5 468.1L527.7 466.5L534.6 462.7L538.5 458.1L536.9 452.7L540.0 448.1L546.2 448.1L552.3 445.0L558.5 440.4L563.8 435.0L569.2 431.9L575.4 429.6L576.9 428.1L572.3 425.0L566.2 426.5L560.8 428.1L556.2 425.0L557.7 418.8L559.2 415.0L557.7 414.7L560.0 412.4L563.8 411.6L567.7 410.1L570.8 407.0L572.3 402.4L573.1 397.8L573.8 393.2L572.8 389.3L571.5 387.0L573.8 384.7L576.9 383.9" fill="none" stroke="#bfbde8" stroke-width="4.6" stroke-linejoin="round" stroke-linecap="round" opacity="0.88" filter="url(#bl)"/>
<path d="M526.5 619.2L529.0 618.6L531.5 618.2L534.0 619.2L536.2 620.0M536.2 620.0L536.0 622.0L536.4 624.5L537.3 626.8L538.2 628.6L539.0 629.8L540.4 630.0L541.5 628.8L541.8 627.0L541.4 625.0L542.2 622.8L543.3 620.8L544.6 619.2L548.5 618.5L552.3 616.9L556.2 615.7L560.0 613.8L563.8 612.3L567.7 610.8L571.5 609.2L575.4 607.7L578.5 605.4L581.5 603.1L584.0 599.0M587.0 518.4L591.7 520.1L595.2 522.8L597.2 527.0L599.3 530.5L602.1 533.2L604.8 535.3L606.9 536.7L607.6 539.5L605.5 541.5L602.8 543.6M602.8 543.6L600.7 548.5L603.5 549.2L606.9 548.5L608.3 551.2L609.0 555.4L608.3 559.5L606.9 563.7L605.5 567.2L603.5 569.9L601.4 572.0M601.4 572.0L600.0 575.5L598.6 578.9L596.5 582.4L594.5 585.8L591.7 589.3L588.9 592.8L586.2 595.5L584.0 599.0M579.2 496.4L581.9 497.8L584.7 499.2L586.8 500.5L588.8 499.2L590.9 497.8L593.7 496.4L596.5 496.4L599.2 496.4L602.0 496.8L604.1 497.4L604.5 498.7L602.3 500.1L600.6 501.0L597.8 501.9L595.8 504.0L593.7 506.1L591.6 508.8L590.2 511.6L588.8 514.4L587.5 517.2L587.0 518.4M585.4 479.5L583.3 482.5L580.5 485.3L577.8 487.4L575.7 488.8L575.0 490.8L575.7 492.9L577.1 495.0L579.2 496.4M585.4 479.5L588.2 477.7L590.9 475.6L593.0 473.5L595.8 472.8L597.8 474.2L598.1 477.0L597.2 479.8L595.8 482.5L594.8 484.9L597.8 483.2L601.3 481.2L604.8 479.1L608.2 476.3L611.0 474.2L611.5 474.0" fill="none" stroke="#bfeaf5" stroke-width="3" stroke-linejoin="round" stroke-linecap="round" opacity="0.7" filter="url(#bl)"/>
<path d="M350.0 507.0L347.7 503.9L347.3 498.3L343.6 496.4L339.9 492.7L337.5 489.9L336.1 485.3L333.4 482.5L330.8 479.7L334.3 476.9L335.7 473.2L333.8 469.5L330.6 468.6L330.1 464.9L331.0 462.1L334.3 457.9L339.9 456.0L345.0 457.0L347.7 459.7L351.9 457.4L358.4 456.5L365.9 454.2L371.5 452.9L374.1 449.1L377.4 446.4L377.4 439.4L376.3 434.1L381.1 432.8L386.5 433.2L389.8 434.6L391.4 429.8L394.6 423.8L396.8 421.1L400.5 423.8L404.8 425.2L408.6 424.4L409.7 419.0L412.4 415.8L416.1 415.2L418.3 411.5L422.0 412.0L423.7 416.3L427.4 420.6L431.7 424.9L433.9 429.8L433.4 436.2L432.3 441.6L437.0 444.4L443.0 446.0L448.0 447.6L452.0 450.0L453.0 452.5L456.4 457.6L457.6 463.9L456.4 466.9L454.7 471.2L452.2 475.4L448.8 478.8L443.7 479.6L439.5 480.8L436.9 483.8L435.6 487.2L436.0 489.0L430.2 490.6L425.1 491.1L422.0 492.3L421.4 496.5L422.5 500.8L423.7 504.2L423.0 508.0L419.0 509.0L415.0 508.0L410.0 506.0L405.0 505.6L400.0 506.0L395.0 505.0L390.0 505.6L385.0 507.0L380.0 506.0L375.0 505.0L370.0 505.6L365.0 504.0L360.0 503.0L355.0 504.0Z" fill="#FADFCC" stroke="#FADFCC" stroke-width="0.4"/>
<path d="M350.0 507.0L355.0 504.0L360.0 503.0L365.0 504.0L370.0 505.6L375.0 505.0L380.0 506.0L385.0 507.0L390.0 505.6L395.0 505.0L400.0 506.0L405.0 505.6L410.0 506.0L415.0 508.0L419.0 509.0L423.0 508.0L418.0 511.0L414.6 516.0L414.0 522.0L416.0 528.0L420.0 530.4L425.1 532.9L430.2 535.5L436.1 537.2L441.2 538.0L445.4 539.7L449.6 543.1L453.8 542.2L458.1 539.7L458.9 537.9L461.9 539.6L465.0 543.5L466.5 549.6L467.3 557.3L468.1 563.5L467.3 566.5L459.8 571.3L459.0 569.0L456.0 570.0L451.0 571.0L445.0 569.0L448.0 570.0L442.0 571.0L437.0 573.0L432.0 576.0L427.0 577.0L422.0 576.0L419.0 572.0L415.0 569.0L410.0 567.6L405.0 567.0L402.0 571.0L399.0 567.0L394.0 566.0L389.0 563.6L384.0 562.0L380.0 559.0L376.0 555.0L372.0 551.0L367.0 547.0L363.0 543.0L359.0 540.0L355.0 538.0L351.0 534.0L347.0 530.0L344.6 526.0L345.0 521.0L348.0 517.0L349.0 512.0Z" fill="#ffffff" stroke="#ffffff" stroke-width="0.4"/>
<path d="M423.0 508.0L423.7 504.2L422.5 500.8L421.4 496.5L422.0 492.3L425.1 491.1L430.2 490.6L436.0 489.0L441.2 491.5L444.5 494.8L449.6 496.5L453.8 497.4L458.1 494.0L461.5 492.3L465.7 492.3L469.9 493.2L474.2 496.5L478.4 499.1L482.6 501.6L486.8 505.0L490.2 508.4L491.9 513.5L490.2 517.7L487.7 521.1L486.0 525.3L485.2 528.7L483.5 527.0L480.9 527.0L479.2 528.7L481.8 531.2L484.3 532.1L485.2 535.1L481.8 535.5L480.1 538.0L476.7 538.8L473.3 538.0L469.9 537.2L466.5 534.6L464.8 531.2L463.2 527.8L459.8 528.7L458.6 532.9L458.9 537.9L458.1 539.7L453.8 542.2L449.6 543.1L445.4 539.7L441.2 538.0L436.1 537.2L430.2 535.5L425.1 532.9L420.0 530.4L416.0 528.0L414.0 522.0L414.6 516.0L418.0 511.0Z" fill="#ffffff" stroke="#ffffff" stroke-width="0.4"/>
<path d="M436.0 489.0L435.6 487.2L436.9 483.8L439.5 480.8L443.7 479.6L448.8 478.8L452.2 475.4L454.7 471.2L456.4 466.9L457.6 463.9L460.6 465.2L464.3 466.6L465.4 470.3L466.5 475.4L469.1 479.6L473.3 480.5L476.7 481.3L477.5 484.7L480.1 488.1L483.5 490.6L486.0 493.2L487.7 494.3L491.1 493.2L494.5 491.5L497.8 492.3L498.7 495.7L497.0 499.1L496.2 502.5L499.5 504.2L503.0 505.5L504.7 508.2L505.9 511.8L507.2 515.5L509.0 518.0L511.5 519.2L513.6 521.7L512.2 522.8L511.4 527.8L513.1 532.9L510.5 537.2L508.3 539.4L505.5 538.0L502.9 536.3L499.5 534.6L497.0 531.2L493.6 528.7L490.2 529.5L487.7 532.9L485.2 535.1L484.3 532.1L481.8 531.2L479.2 528.7L480.9 527.0L483.5 527.0L485.2 528.7L486.0 525.3L487.7 521.1L490.2 517.7L491.9 513.5L490.2 508.4L486.8 505.0L482.6 501.6L478.4 499.1L474.2 496.5L469.9 493.2L465.7 492.3L461.5 492.3L458.1 494.0L453.8 497.4L449.6 496.5L444.5 494.8L441.2 491.5Z" fill="#ffffff" stroke="#ffffff" stroke-width="0.4"/>
<path d="M517.6 506.9L514.5 507.5L513.3 509.4L513.6 513.1L514.5 516.8L513.6 521.7L515.8 522.9L518.8 522.9L521.3 520.5L525.0 519.8L525.6 516.2L524.4 512.5L520.7 509.4Z" fill="#ffffff" stroke="#ffffff" stroke-width="0.4"/>
<path d="M464.3 466.6L465.4 470.3L466.5 475.4L469.1 479.6L473.3 480.5L476.7 481.3L477.5 484.7L480.1 488.1L483.5 490.6L486.0 493.2L487.7 494.3L491.1 493.2L494.5 491.5L497.8 492.3L498.7 495.7L497.0 499.1L496.2 502.5L499.5 504.2L503.0 505.5L506.5 505.1L509.0 503.2L510.2 499.5L511.5 495.2L512.7 492.8L513.9 492.8L515.2 496.5L514.5 500.8L516.4 503.8L517.6 506.9L520.3 501.6L525.4 499.1L530.5 496.5L534.7 493.7L538.1 490.6L539.3 489.3L543.2 486.4L545.7 483.8L550.8 483.0L554.3 482.4L552.8 477.7L554.2 472.8L557.0 470.8L559.8 469.4L563.2 468.7L566.0 466.6L569.5 465.2L571.5 463.8L574.3 464.5L577.8 465.2L579.8 464.5L582.5 466.4L586.2 464.7L588.5 462.4L591.5 460.1L594.6 457.8L596.9 455.5L600.0 453.2L597.7 450.8L595.4 448.5L593.8 446.2L593.1 443.2L591.5 440.1L590.8 436.2L592.3 433.2L594.6 430.1L592.3 427.8L590.3 425.5L591.5 423.2L593.8 420.8L596.2 418.5L598.5 415.5L599.2 410.8L598.9 406.2L599.2 401.6L600.0 397.0L598.5 393.9L596.2 393.2L593.1 393.9L590.0 395.5L586.9 396.2L585.4 393.2L583.1 390.8L580.0 389.3L578.5 386.2L576.9 383.9L573.8 384.7L571.5 387.0L572.8 389.3L573.8 393.2L573.1 397.8L572.3 402.4L570.8 407.0L567.7 410.1L563.8 411.6L560.0 412.4L557.7 414.7L559.2 415.0L557.7 418.8L556.2 425.0L560.8 428.1L566.2 426.5L572.3 425.0L576.9 428.1L575.4 429.6L569.2 431.9L563.8 435.0L558.5 440.4L552.3 445.0L546.2 448.1L540.0 448.1L536.9 452.7L538.5 458.1L534.6 462.7L527.7 466.5L518.5 468.1L510.8 470.4L507.7 472.7L504.5 475.0L502.0 473.5L497.0 473.0L492.0 471.3L487.0 469.0L483.0 467.6L477.0 467.1L470.0 466.9Z" fill="#FADFCC" stroke="#FADFCC" stroke-width="0.4"/>
<path d="M503.0 505.5L504.7 508.2L505.9 511.8L507.2 515.5L509.0 518.0L511.5 519.2L513.6 521.7L514.5 516.8L513.6 513.1L513.3 509.4L514.5 507.5L517.6 506.9L516.4 503.8L514.5 500.8L515.2 496.5L513.9 492.8L512.7 492.8L511.5 495.2L510.2 499.5L509.0 503.2L506.5 505.1Z" fill="#FADFCC" stroke="#FADFCC" stroke-width="0.4"/>
<path d="M517.6 506.9L520.7 509.4L524.4 512.5L525.6 516.2L525.0 519.8L521.3 520.5L518.8 522.9L515.8 522.9L513.6 521.7L512.2 522.8L511.4 527.8L513.1 532.9L510.5 537.2L508.3 539.4L508.8 539.6L513.5 540.1L518.1 540.7L521.9 541.9L524.5 545.5L530.0 546.9L534.2 546.5L533.1 542.3L532.3 538.5L534.5 536.0L540.6 534.6L539.8 532.1L538.1 528.7L536.4 524.5L535.9 517.7L536.4 510.9L535.2 504.2L536.4 497.4L537.2 491.5L538.1 490.6L534.7 493.7L530.5 496.5L525.4 499.1L520.3 501.6Z" fill="#FADFCC" stroke="#FADFCC" stroke-width="0.4"/>
<path d="M536.4 524.5L535.9 517.7L536.4 510.9L535.2 504.2L536.4 497.4L537.2 491.5L538.1 490.6L539.3 489.3L543.2 486.4L545.7 483.8L550.8 483.0L554.3 482.4L555.6 486.0L556.3 489.5L554.2 492.2L552.8 495.7L554.2 499.2L555.6 502.6L554.9 506.8L556.3 510.5L552.5 515.2L549.1 517.7L544.0 521.1L539.8 523.6Z" fill="#FADFCC" stroke="#FADFCC" stroke-width="0.4"/>
<path d="M554.3 482.4L555.6 486.0L556.3 489.5L554.2 492.2L552.8 495.7L554.2 499.2L555.6 502.6L554.9 506.8L556.3 510.5L559.8 513.7L562.5 515.1L564.6 515.8L563.9 513.0L564.6 509.5L566.0 506.1L568.1 503.3L570.8 500.5L573.6 498.5L576.4 497.1L579.2 496.4L577.1 495.0L575.7 492.9L575.0 490.8L575.7 488.8L577.8 487.4L580.5 485.3L583.3 482.5L585.4 479.5L584.7 478.4L583.3 476.3L582.6 473.5L581.9 470.1L582.5 466.4L579.8 464.5L577.8 465.2L574.3 464.5L571.5 463.8L569.5 465.2L566.0 466.6L563.2 468.7L559.8 469.4L557.0 470.8L554.2 472.8L552.8 477.7Z" fill="#FADFCC" stroke="#FADFCC" stroke-width="0.4"/>
<path d="M585.4 479.5L588.2 477.7L590.9 475.6L593.0 473.5L595.8 472.8L597.8 474.2L598.1 477.0L597.2 479.8L595.8 482.5L594.8 484.9L597.8 483.2L601.3 481.2L604.8 479.1L608.2 476.3L611.0 474.2L611.5 474.0L613.1 472.4L615.4 470.1L617.7 467.8L620.0 465.5L622.3 463.2L625.4 460.8L623.1 460.8L620.0 461.6L616.9 463.2L614.6 461.6L613.1 458.5L610.8 455.5L607.7 453.2L603.8 452.4L600.0 453.2L596.9 455.5L594.6 457.8L591.5 460.1L588.5 462.4L586.2 464.7L582.5 466.4L581.9 470.1L582.6 473.5L583.3 476.3L584.7 478.4Z" fill="#DA907A" stroke="#DA907A" stroke-width="0.4"/>
<path d="M625.4 460.8L626.9 458.5L628.5 456.2L630.8 453.9L633.1 452.4L635.4 450.1L637.7 449.3L636.2 447.8L638.5 447.0L640.8 445.0L640.3 441.0L636.7 439.5L632.7 440.5L628.5 442.4L626.2 440.8L623.1 439.3L620.0 437.8L616.2 437.0L612.3 435.5L608.5 434.7L604.6 435.5L600.8 434.7L597.7 432.4L594.6 430.1L592.3 433.2L590.8 436.2L591.5 440.1L593.1 443.2L593.8 446.2L595.4 448.5L597.7 450.8L600.0 453.2L603.8 452.4L607.7 453.2L610.8 455.5L613.1 458.5L614.6 461.6L616.9 463.2L620.0 461.6L623.1 460.8Z" fill="#DA907A" stroke="#DA907A" stroke-width="0.4"/>
<path d="M576.9 383.9L580.8 381.6L585.4 380.8L590.0 380.8L593.8 382.4L596.9 384.7L599.2 387.8L601.5 391.6L603.8 394.7L606.2 397.8L609.2 400.1L613.1 401.6L616.9 403.2L620.8 403.9L624.6 405.5L627.7 407.8L630.8 410.1L633.8 410.8L636.2 408.5L639.2 406.2L642.3 403.9L645.4 402.4L647.2 401.6L646.9 405.5L646.2 410.1L645.7 414.7L646.2 419.3L645.7 423.9L644.2 427.0L639.3 430.7L636.9 432.7L638.7 436.7L640.3 441.0L636.7 439.5L632.7 440.5L628.5 442.4L626.2 440.8L623.1 439.3L620.0 437.8L616.2 437.0L612.3 435.5L608.5 434.7L604.6 435.5L600.8 434.7L597.7 432.4L594.6 430.1L592.3 427.8L590.3 425.5L591.5 423.2L593.8 420.8L596.2 418.5L598.5 415.5L599.2 410.8L598.9 406.2L599.2 401.6L600.0 397.0L598.5 393.9L596.2 393.2L593.1 393.9L590.0 395.5L586.9 396.2L585.4 393.2L583.1 390.8L580.0 389.3L578.5 386.2Z" fill="#C56D54" stroke="#C56D54" stroke-width="0.4"/>
<path d="M564.6 515.8L563.9 513.0L564.6 509.5L566.0 506.1L568.1 503.3L570.8 500.5L573.6 498.5L576.4 497.1L579.2 496.4L581.9 497.8L584.7 499.2L586.8 500.5L588.8 499.2L590.9 497.8L593.7 496.4L596.5 496.4L599.2 496.4L602.0 496.8L604.1 497.4L604.5 498.7L602.3 500.1L600.6 501.0L597.8 501.9L595.8 504.0L593.7 506.1L591.6 508.8L590.2 511.6L588.8 514.4L587.5 517.2L587.0 518.4L583.8 520.2L581.5 521.4L578.5 521.8L575.4 520.9L572.2 521.3L570.2 523.4L567.4 520.6L565.3 518.5Z" fill="#E9B39C" stroke="#E9B39C" stroke-width="0.4"/>
<path d="M534.5 536.0L540.6 534.6L539.8 532.1L538.1 528.7L536.4 524.5L539.8 523.6L544.0 521.1L549.1 517.7L552.5 515.2L556.3 510.5L559.8 513.7L562.5 515.1L564.6 515.8L565.3 518.5L567.4 520.6L570.2 523.4L568.5 529.5L566.8 532.9L566.0 536.3L566.8 540.5L569.4 543.1L567.5 546.0L561.5 543.1L557.7 540.0L553.1 539.2L548.5 540.8L543.8 539.2L539.2 536.9L536.2 534.6Z" fill="#FADFCC" stroke="#FADFCC" stroke-width="0.4"/>
<path d="M572.2 521.3L575.4 520.9L578.5 521.8L581.5 521.4L583.8 520.2L587.0 518.4L591.7 520.1L595.2 522.8L597.2 527.0L599.3 530.5L602.1 533.2L604.8 535.3L606.9 536.7L607.6 539.5L605.5 541.5L602.8 543.6L600.0 545.0L597.0 544.9L594.5 544.2L593.1 543.1L590.8 541.5L588.5 539.2L586.9 536.9L586.2 534.6L586.9 532.3L584.6 530.8L582.7 528.1L581.2 525.8L578.5 524.5L575.4 523.2Z" fill="#DA907A" stroke="#DA907A" stroke-width="0.4"/>
<path d="M570.2 523.4L572.2 521.3L575.4 523.2L578.5 524.5L581.2 525.8L582.7 528.1L584.6 530.8L586.9 532.3L586.2 534.6L586.9 536.9L588.5 539.2L590.8 541.5L593.1 543.1L594.5 544.2L594.5 549.2L592.4 551.2L590.3 554.0L586.5 557.0L584.8 557.5L579.9 556.8L575.8 556.1L573.1 555.4L572.3 551.5L570.0 547.7L567.5 546.0L569.4 543.1L566.8 540.5L566.0 536.3L566.8 532.9L568.5 529.5Z" fill="#FADFCC" stroke="#FADFCC" stroke-width="0.4"/>
<path d="M589.5 565.5L589.6 563.0L588.2 559.5L586.5 557.0L590.3 554.0L592.4 551.2L594.5 549.2L594.5 544.2L597.0 544.9L600.0 545.0L602.8 543.6L600.7 548.5L603.5 549.2L606.9 548.5L608.3 551.2L609.0 555.4L608.3 559.5L606.9 563.7L605.5 567.2L603.5 569.9L601.4 572.0L597.9 572.0L594.5 571.3L592.4 569.2Z" fill="#ffffff" stroke="#ffffff" stroke-width="0.4"/>
<path d="M579.2 594.2L582.0 597.0L584.0 599.0L586.2 595.5L588.9 592.8L591.7 589.3L594.5 585.8L596.5 582.4L598.6 578.9L600.0 575.5L601.4 572.0L597.9 572.0L594.5 571.3L592.4 569.2L589.5 565.5L587.5 567.8L584.8 568.5L582.7 571.3L580.6 574.8L579.2 578.2L577.8 581.7L576.5 585.2L577.2 588.6L578.5 591.4Z" fill="#FADFCC" stroke="#FADFCC" stroke-width="0.4"/>
<path d="M573.1 555.4L570.8 557.7L566.9 558.5L563.1 560.8L560.8 562.3L560.0 566.2L560.8 570.8L559.2 574.6L560.8 578.5L561.5 583.1L562.3 587.7L563.8 590.8L565.4 593.8L568.5 595.4L571.5 594.6L574.6 595.4L579.2 594.2L578.5 591.4L577.2 588.6L576.5 585.2L577.8 581.7L579.2 578.2L580.6 574.8L582.7 571.3L584.8 568.5L587.5 567.8L589.5 565.5L589.6 563.0L588.2 559.5L586.5 557.0L584.8 557.5L579.9 556.8L575.8 556.1Z" fill="#FADFCC" stroke="#FADFCC" stroke-width="0.4"/>
<path d="M534.2 546.5L536.2 550.0L533.8 553.1L530.0 554.6L526.9 556.9L527.7 560.3L530.0 561.8L532.3 560.0L535.4 558.5L538.5 556.2L542.3 556.9L546.2 557.7L550.0 558.5L554.6 559.2L558.5 560.8L560.8 562.3L563.1 560.8L566.9 558.5L570.8 557.7L573.1 555.4L572.3 551.5L570.0 547.7L567.5 546.0L561.5 543.1L557.7 540.0L553.1 539.2L548.5 540.8L543.8 539.2L539.2 536.9L536.2 534.6L534.5 536.0L532.3 538.5L533.1 542.3Z" fill="#C56D54" stroke="#C56D54" stroke-width="0.4"/>
<path d="M528.5 570.0L530.8 573.1L531.5 576.9L532.3 580.8L533.1 584.6L531.5 587.7L534.6 588.5L537.7 586.9L540.8 586.2L543.8 587.7L546.2 590.8L548.5 593.8L550.8 592.3L553.8 591.5L557.7 592.3L561.5 593.1L565.4 593.8L563.8 590.8L562.3 587.7L561.5 583.1L560.8 578.5L559.2 574.6L560.8 570.8L560.0 566.2L560.8 562.3L558.5 560.8L554.6 559.2L550.0 558.5L546.2 557.7L542.3 556.9L538.5 556.2L535.4 558.5L532.3 560.0L530.0 561.8L530.8 564.6L530.0 567.7Z" fill="#FADFCC" stroke="#FADFCC" stroke-width="0.4"/>
<path d="M565.4 593.8L561.5 593.1L557.7 592.3L553.8 591.5L550.8 592.3L548.5 593.8L548.9 596.2L547.7 599.2L546.2 603.1L543.8 606.9L542.3 610.8L540.0 613.8L537.7 616.9L536.2 620.0L536.0 622.0L536.4 624.5L537.3 626.8L538.2 628.6L539.0 629.8L540.4 630.0L541.5 628.8L541.8 627.0L541.4 625.0L542.2 622.8L543.3 620.8L544.6 619.2L548.5 618.5L552.3 616.9L556.2 615.7L560.0 613.8L563.8 612.3L567.7 610.8L571.5 609.2L575.4 607.7L578.5 605.4L581.5 603.1L584.0 599.0L582.0 597.0L579.2 594.2L574.6 595.4L571.5 594.6L568.5 595.4Z" fill="#FADFCC" stroke="#FADFCC" stroke-width="0.4"/>
<path d="M508.6 607.6L511.5 610.8L515.4 613.1L517.7 616.9L522.3 618.5L526.5 619.2L529.0 618.6L531.5 618.2L534.0 619.2L536.2 620.0L537.7 616.9L540.0 613.8L542.3 610.8L543.8 606.9L546.2 603.1L547.7 599.2L548.9 596.2L548.5 593.8L546.2 590.8L543.8 587.7L540.8 586.2L537.7 586.9L534.6 588.5L531.5 587.7L528.5 589.2L524.6 590.8L520.8 592.3L516.9 593.1L513.1 593.8L509.2 595.4L506.2 596.9L503.1 596.2L505.0 600.0L507.4 604.0Z" fill="#FADFCC" stroke="#FADFCC" stroke-width="0.4"/>
<path d="M510.0 568.6L507.3 572.7L503.5 573.5L501.2 571.2L498.8 569.6L497.3 570.4L496.5 573.5L495.8 577.3L496.5 580.4L498.8 581.9L501.2 583.5L502.7 588.1L501.9 592.7L503.1 596.2L506.2 596.9L509.2 595.4L513.1 593.8L516.9 593.1L520.8 592.3L524.6 590.8L528.5 589.2L531.5 587.7L533.1 584.6L532.3 580.8L531.5 576.9L530.8 573.1L528.5 570.0L525.4 568.5L522.3 566.2L519.2 566.9L516.2 568.5L513.8 567.7L511.5 569.2Z" fill="#E9B39C" stroke="#E9B39C" stroke-width="0.4"/>
<path d="M467.3 566.5L459.8 571.3L463.1 575.4L462.6 583.1L459.5 589.2L456.2 593.1L456.9 597.7L458.5 600.8L461.5 602.3L463.1 606.2L466.2 610.0L465.4 613.8L469.2 616.6L473.1 619.2L475.4 617.7L477.7 618.5L480.0 621.5L481.8 620.8L482.6 616.2L483.5 613.1L487.7 612.3L491.5 613.1L495.4 611.5L500.0 610.8L504.6 608.5L508.6 607.6L507.4 604.0L505.0 600.0L503.1 596.2L501.9 592.7L502.7 588.1L501.2 583.5L498.8 581.9L496.5 580.4L495.8 577.3L496.5 573.5L497.3 570.4L494.2 572.7L491.9 576.5L490.4 580.4L488.8 584.2L485.8 586.5L482.7 585.8L479.6 581.9L475.8 577.3L471.9 572.7L468.8 568.1Z" fill="#FADFCC" stroke="#FADFCC" stroke-width="0.4"/>
<path d="M458.9 537.9L458.6 532.9L459.8 528.7L463.2 527.8L464.8 531.2L466.5 534.6L469.9 537.2L473.3 538.0L476.7 538.8L480.1 538.0L481.8 535.5L485.2 535.1L487.7 532.9L490.2 529.5L493.6 528.7L497.0 531.2L499.5 534.6L502.9 536.3L505.5 538.0L508.3 539.4L508.8 539.6L513.5 540.1L518.1 540.7L521.9 541.9L524.5 545.5L523.1 548.5L522.3 551.5L520.0 554.6L516.9 556.2L513.1 556.9L510.0 558.5L508.5 561.5L507.7 565.4L510.0 568.6L507.3 572.7L503.5 573.5L501.2 571.2L498.8 569.6L497.3 570.4L494.2 572.7L491.9 576.5L490.4 580.4L488.8 584.2L485.8 586.5L482.7 585.8L479.6 581.9L475.8 577.3L471.9 572.7L468.8 568.1L467.3 566.5L468.1 563.5L467.3 557.3L466.5 549.6L465.0 543.5L461.9 539.6Z" fill="#FADFCC" stroke="#FADFCC" stroke-width="0.4"/>
<path d="M524.5 545.5L523.1 548.5L522.3 551.5L520.0 554.6L516.9 556.2L513.1 556.9L510.0 558.5L508.5 561.5L507.7 565.4L510.0 568.6L511.5 569.2L513.8 567.7L516.2 568.5L519.2 566.9L522.3 566.2L525.4 568.5L528.5 570.0L530.0 567.7L530.8 564.6L530.0 561.8L527.7 560.3L526.9 556.9L530.0 554.6L533.8 553.1L536.2 550.0L534.2 546.5L530.0 546.9Z" fill="#FADFCC" stroke="#FADFCC" stroke-width="0.4"/>
<path d="M564.3 477.4L567.4 476.6L570.4 478.0L572.1 481.2L571.3 484.6L569.0 486.8L566.0 487.1L563.6 485.2L562.8 481.3Z" fill="#ffffff" stroke="#8f8f8f" stroke-width="0.5"/>
<path d="M571.0 482.1L572.6 482.7L574.3 484.6L575.7 487.1L576.0 489.5L575.1 491.3L575.8 493.5L573.5 494.2L571.5 491.8L570.4 488.1L570.2 484.6Z" fill="#FADFCC" stroke="#8f8f8f" stroke-width="0.5"/>
<path d="M350.0 507.0L355.0 504.0L360.0 503.0L365.0 504.0L370.0 505.6L375.0 505.0L380.0 506.0L385.0 507.0L390.0 505.6L395.0 505.0L400.0 506.0L405.0 505.6L410.0 506.0L415.0 508.0L419.0 509.0L423.0 508.0M423.0 508.0L423.7 504.2L422.5 500.8L421.4 496.5L422.0 492.3L425.1 491.1L430.2 490.6L436.0 489.0M436.0 489.0L435.6 487.2L436.9 483.8L439.5 480.8L443.7 479.6L448.8 478.8L452.2 475.4L454.7 471.2L456.4 466.9L457.6 463.9M423.0 508.0L418.0 511.0L414.6 516.0L414.0 522.0L416.0 528.0L420.0 530.4L425.1 532.9L430.2 535.5L436.1 537.2L441.2 538.0L445.4 539.7L449.6 543.1L453.8 542.2L458.1 539.7L458.9 537.9M436.0 489.0L441.2 491.5L444.5 494.8L449.6 496.5L453.8 497.4L458.1 494.0L461.5 492.3L465.7 492.3L469.9 493.2L474.2 496.5L478.4 499.1L482.6 501.6L486.8 505.0L490.2 508.4L491.9 513.5L490.2 517.7L487.7 521.1L486.0 525.3L485.2 528.7L483.5 527.0L480.9 527.0L479.2 528.7L481.8 531.2L484.3 532.1L485.2 535.1M458.9 537.9L458.6 532.9L459.8 528.7L463.2 527.8L464.8 531.2L466.5 534.6L469.9 537.2L473.3 538.0L476.7 538.8L480.1 538.0L481.8 535.5L485.2 535.1M458.9 537.9L461.9 539.6L465.0 543.5L466.5 549.6L467.3 557.3L468.1 563.5L467.3 566.5M467.3 566.5L459.8 571.3M464.3 466.6L465.4 470.3L466.5 475.4L469.1 479.6L473.3 480.5L476.7 481.3L477.5 484.7L480.1 488.1L483.5 490.6L486.0 493.2L487.7 494.3L491.1 493.2L494.5 491.5L497.8 492.3L498.7 495.7L497.0 499.1L496.2 502.5L499.5 504.2L503.0 505.5M503.0 505.5L504.7 508.2L505.9 511.8L507.2 515.5L509.0 518.0L511.5 519.2L513.6 521.7M503.0 505.5L506.5 505.1L509.0 503.2L510.2 499.5L511.5 495.2L512.7 492.8L513.9 492.8L515.2 496.5L514.5 500.8L516.4 503.8L517.6 506.9M517.6 506.9L514.5 507.5L513.3 509.4L513.6 513.1L514.5 516.8L513.6 521.7M517.6 506.9L520.7 509.4L524.4 512.5L525.6 516.2L525.0 519.8L521.3 520.5L518.8 522.9L515.8 522.9L513.6 521.7M513.6 521.7L512.2 522.8L511.4 527.8L513.1 532.9L510.5 537.2L508.3 539.4M485.2 535.1L487.7 532.9L490.2 529.5L493.6 528.7L497.0 531.2L499.5 534.6L502.9 536.3L505.5 538.0L508.3 539.4M508.3 539.4L508.8 539.6L513.5 540.1L518.1 540.7L521.9 541.9L524.5 545.5M524.5 545.5L523.1 548.5L522.3 551.5L520.0 554.6L516.9 556.2L513.1 556.9L510.0 558.5L508.5 561.5L507.7 565.4L510.0 568.6M510.0 568.6L507.3 572.7L503.5 573.5L501.2 571.2L498.8 569.6L497.3 570.4M467.3 566.5L468.8 568.1L471.9 572.7L475.8 577.3L479.6 581.9L482.7 585.8L485.8 586.5L488.8 584.2L490.4 580.4L491.9 576.5L494.2 572.7L497.3 570.4M497.3 570.4L496.5 573.5L495.8 577.3L496.5 580.4L498.8 581.9L501.2 583.5L502.7 588.1L501.9 592.7L503.1 596.2M503.1 596.2L505.0 600.0L507.4 604.0L508.6 607.6M503.1 596.2L506.2 596.9L509.2 595.4L513.1 593.8L516.9 593.1L520.8 592.3L524.6 590.8L528.5 589.2L531.5 587.7M528.5 570.0L530.8 573.1L531.5 576.9L532.3 580.8L533.1 584.6L531.5 587.7M510.0 568.6L511.5 569.2L513.8 567.7L516.2 568.5L519.2 566.9L522.3 566.2L525.4 568.5L528.5 570.0M530.0 561.8L530.8 564.6L530.0 567.7L528.5 570.0M534.2 546.5L536.2 550.0L533.8 553.1L530.0 554.6L526.9 556.9L527.7 560.3L530.0 561.8M524.5 545.5L530.0 546.9L534.2 546.5M534.2 546.5L533.1 542.3L532.3 538.5L534.5 536.0M534.5 536.0L540.6 534.6L539.8 532.1L538.1 528.7L536.4 524.5M536.4 524.5L535.9 517.7L536.4 510.9L535.2 504.2L536.4 497.4L537.2 491.5L538.1 490.6M538.1 490.6L534.7 493.7L530.5 496.5L525.4 499.1L520.3 501.6L517.6 506.9M538.1 490.6L539.3 489.3L543.2 486.4L545.7 483.8L550.8 483.0L554.3 482.4M554.3 482.4L555.6 486.0L556.3 489.5L554.2 492.2L552.8 495.7L554.2 499.2L555.6 502.6L554.9 506.8L556.3 510.5M556.3 510.5L552.5 515.2L549.1 517.7L544.0 521.1L539.8 523.6L536.4 524.5M556.3 510.5L559.8 513.7L562.5 515.1L564.6 515.8M564.6 515.8L563.9 513.0L564.6 509.5L566.0 506.1L568.1 503.3L570.8 500.5L573.6 498.5L576.4 497.1L579.2 496.4M564.6 515.8L565.3 518.5L567.4 520.6L570.2 523.4M570.2 523.4L572.2 521.3M572.2 521.3L575.4 520.9L578.5 521.8L581.5 521.4L583.8 520.2L587.0 518.4M570.2 523.4L568.5 529.5L566.8 532.9L566.0 536.3L566.8 540.5L569.4 543.1L567.5 546.0M534.5 536.0L536.2 534.6L539.2 536.9L543.8 539.2L548.5 540.8L553.1 539.2L557.7 540.0L561.5 543.1L567.5 546.0M567.5 546.0L570.0 547.7L572.3 551.5L573.1 555.4M573.1 555.4L570.8 557.7L566.9 558.5L563.1 560.8L560.8 562.3M530.0 561.8L532.3 560.0L535.4 558.5L538.5 556.2L542.3 556.9L546.2 557.7L550.0 558.5L554.6 559.2L558.5 560.8L560.8 562.3M560.8 562.3L560.0 566.2L560.8 570.8L559.2 574.6L560.8 578.5L561.5 583.1L562.3 587.7L563.8 590.8L565.4 593.8M565.4 593.8L561.5 593.1L557.7 592.3L553.8 591.5L550.8 592.3L548.5 593.8M548.5 593.8L546.2 590.8L543.8 587.7L540.8 586.2L537.7 586.9L534.6 588.5L531.5 587.7M548.5 593.8L548.9 596.2L547.7 599.2L546.2 603.1L543.8 606.9L542.3 610.8L540.0 613.8L537.7 616.9L536.2 620.0M565.4 593.8L568.5 595.4L571.5 594.6L574.6 595.4L579.2 594.2M579.2 594.2L582.0 597.0L584.0 599.0M579.2 594.2L578.5 591.4L577.2 588.6L576.5 585.2L577.8 581.7L579.2 578.2L580.6 574.8L582.7 571.3L584.8 568.5L587.5 567.8L589.5 565.5M589.5 565.5L589.6 563.0L588.2 559.5L586.5 557.0M573.1 555.4L575.8 556.1L579.9 556.8L584.8 557.5L586.5 557.0M586.5 557.0L590.3 554.0L592.4 551.2L594.5 549.2L594.5 544.2M572.2 521.3L575.4 523.2L578.5 524.5L581.2 525.8L582.7 528.1L584.6 530.8L586.9 532.3L586.2 534.6L586.9 536.9L588.5 539.2L590.8 541.5L593.1 543.1L594.5 544.2M594.5 544.2L597.0 544.9L600.0 545.0L602.8 543.6M589.5 565.5L592.4 569.2L594.5 571.3L597.9 572.0L601.4 572.0M576.9 383.9L578.5 386.2L580.0 389.3L583.1 390.8L585.4 393.2L586.9 396.2L590.0 395.5L593.1 393.9L596.2 393.2L598.5 393.9L600.0 397.0L599.2 401.6L598.9 406.2L599.2 410.8L598.5 415.5L596.2 418.5L593.8 420.8L591.5 423.2L590.3 425.5L592.3 427.8L594.6 430.1M594.6 430.1L597.7 432.4L600.8 434.7L604.6 435.5L608.5 434.7L612.3 435.5L616.2 437.0L620.0 437.8L623.1 439.3L626.2 440.8L628.5 442.4L632.7 440.5L636.7 439.5L640.3 441.0M594.6 430.1L592.3 433.2L590.8 436.2L591.5 440.1L593.1 443.2L593.8 446.2L595.4 448.5L597.7 450.8L600.0 453.2M600.0 453.2L603.8 452.4L607.7 453.2L610.8 455.5L613.1 458.5L614.6 461.6L616.9 463.2L620.0 461.6L623.1 460.8L625.4 460.8M600.0 453.2L596.9 455.5L594.6 457.8L591.5 460.1L588.5 462.4L586.2 464.7L582.5 466.4M582.5 466.4L581.9 470.1L582.6 473.5L583.3 476.3L584.7 478.4L585.4 479.5M554.3 482.4L552.8 477.7L554.2 472.8L557.0 470.8L559.8 469.4L563.2 468.7L566.0 466.6L569.5 465.2L571.5 463.8L574.3 464.5L577.8 465.2L579.8 464.5L582.5 466.4" fill="none" stroke="#787270" stroke-width="0.6" stroke-linejoin="round"/>
<path d="M526.5 619.2L529.0 618.6L531.5 618.2L534.0 619.2L536.2 620.0" fill="none" stroke="#35a8c8" stroke-width="1.1" opacity="1.00" stroke-linejoin="round" stroke-linecap="round"/>
<path d="M536.2 620.0L536.0 622.0L536.4 624.5L537.3 626.8L538.2 628.6L539.0 629.8L540.4 630.0L541.5 628.8L541.8 627.0L541.4 625.0L542.2 622.8L543.3 620.8L544.6 619.2L548.5 618.5L552.3 616.9L556.2 615.7L560.0 613.8L563.8 612.3L567.7 610.8L571.5 609.2L575.4 607.7L578.5 605.4L581.5 603.1L584.0 599.0" fill="none" stroke="#35a8c8" stroke-width="1.3" opacity="1.00" stroke-linejoin="round" stroke-linecap="round"/>
<path d="M587.0 518.4L591.7 520.1L595.2 522.8L597.2 527.0L599.3 530.5L602.1 533.2L604.8 535.3L606.9 536.7L607.6 539.5L605.5 541.5L602.8 543.6" fill="none" stroke="#35a8c8" stroke-width="1.0" opacity="1.00" stroke-linejoin="round" stroke-linecap="round"/>
<path d="M602.8 543.6L600.7 548.5L603.5 549.2L606.9 548.5L608.3 551.2L609.0 555.4L608.3 559.5L606.9 563.7L605.5 567.2L603.5 569.9L601.4 572.0" fill="none" stroke="#35a8c8" stroke-width="1.4" opacity="1.00" stroke-linejoin="round" stroke-linecap="round"/>
<path d="M601.4 572.0L600.0 575.5L598.6 578.9L596.5 582.4L594.5 585.8L591.7 589.3L588.9 592.8L586.2 595.5L584.0 599.0" fill="none" stroke="#35a8c8" stroke-width="1.4" opacity="1.00" stroke-linejoin="round" stroke-linecap="round"/>
<path d="M579.2 496.4L581.9 497.8L584.7 499.2L586.8 500.5L588.8 499.2L590.9 497.8L593.7 496.4L596.5 496.4L599.2 496.4L602.0 496.8L604.1 497.4L604.5 498.7L602.3 500.1L600.6 501.0L597.8 501.9L595.8 504.0L593.7 506.1L591.6 508.8L590.2 511.6L588.8 514.4L587.5 517.2L587.0 518.4" fill="none" stroke="#35a8c8" stroke-width="0.9" opacity="0.85" stroke-linejoin="round" stroke-linecap="round"/>
<path d="M585.4 479.5L583.3 482.5L580.5 485.3L577.8 487.4L575.7 488.8L575.0 490.8L575.7 492.9L577.1 495.0L579.2 496.4" fill="none" stroke="#35a8c8" stroke-width="0.6" opacity="0.60" stroke-linejoin="round" stroke-linecap="round"/>
<path d="M585.4 479.5L588.2 477.7L590.9 475.6L593.0 473.5L595.8 472.8L597.8 474.2L598.1 477.0L597.2 479.8L595.8 482.5L594.8 484.9L597.8 483.2L601.3 481.2L604.8 479.1L608.2 476.3L611.0 474.2L611.5 474.0" fill="none" stroke="#35a8c8" stroke-width="0.8" opacity="0.80" stroke-linejoin="round" stroke-linecap="round"/>
<path d="M350.0 507.0L347.7 503.9L347.3 498.3L343.6 496.4L339.9 492.7L337.5 489.9L336.1 485.3L333.4 482.5L330.8 479.7L334.3 476.9L335.7 473.2L333.8 469.5L330.6 468.6L330.1 464.9L331.0 462.1L334.3 457.9L339.9 456.0L345.0 457.0L347.7 459.7L351.9 457.4L358.4 456.5L365.9 454.2L371.5 452.9L374.1 449.1L377.4 446.4L377.4 439.4L376.3 434.1L381.1 432.8L386.5 433.2L389.8 434.6L391.4 429.8L394.6 423.8L396.8 421.1L400.5 423.8L404.8 425.2L408.6 424.4L409.7 419.0L412.4 415.8L416.1 415.2L418.3 411.5L422.0 412.0L423.7 416.3L427.4 420.6L431.7 424.9L433.9 429.8L433.4 436.2L432.3 441.6L437.0 444.4L443.0 446.0L448.0 447.6L452.0 450.0L453.0 452.5L456.4 457.6L457.6 463.9M457.6 463.9L460.6 465.2L464.3 466.6M350.0 507.0L349.0 512.0L348.0 517.0L345.0 521.0L344.6 526.0L347.0 530.0L351.0 534.0L355.0 538.0L359.0 540.0L363.0 543.0L367.0 547.0L372.0 551.0L376.0 555.0L380.0 559.0L384.0 562.0L389.0 563.6L394.0 566.0L399.0 567.0L402.0 571.0L405.0 567.0L410.0 567.6L415.0 569.0L419.0 572.0L422.0 576.0L427.0 577.0L432.0 576.0L437.0 573.0L442.0 571.0L448.0 570.0L445.0 569.0L451.0 571.0L456.0 570.0L459.0 569.0L459.8 571.3M459.8 571.3L463.1 575.4L462.6 583.1L459.5 589.2L456.2 593.1L456.9 597.7L458.5 600.8L461.5 602.3L463.1 606.2L466.2 610.0L465.4 613.8L469.2 616.6L473.1 619.2L475.4 617.7L477.7 618.5L480.0 621.5L481.8 620.8L482.6 616.2L483.5 613.1L487.7 612.3L491.5 613.1L495.4 611.5L500.0 610.8L504.6 608.5L508.6 607.6M508.6 607.6L511.5 610.8L515.4 613.1L517.7 616.9L522.3 618.5L526.5 619.2M611.5 474.0L613.1 472.4L615.4 470.1L617.7 467.8L620.0 465.5L622.3 463.2L625.4 460.8M625.4 460.8L626.9 458.5L628.5 456.2L630.8 453.9L633.1 452.4L635.4 450.1L637.7 449.3L636.2 447.8L638.5 447.0L640.8 445.0L640.3 441.0M576.9 383.9L580.8 381.6L585.4 380.8L590.0 380.8L593.8 382.4L596.9 384.7L599.2 387.8L601.5 391.6L603.8 394.7L606.2 397.8L609.2 400.1L613.1 401.6L616.9 403.2L620.8 403.9L624.6 405.5L627.7 407.8L630.8 410.1L633.8 410.8L636.2 408.5L639.2 406.2L642.3 403.9L645.4 402.4L647.2 401.6L646.9 405.5L646.2 410.1L645.7 414.7L646.2 419.3L645.7 423.9L644.2 427.0L639.3 430.7L636.9 432.7L638.7 436.7L640.3 441.0M464.3 466.6L470.0 466.9L477.0 467.1L483.0 467.6L487.0 469.0L492.0 471.3L497.0 473.0L502.0 473.5L504.5 475.0L507.7 472.7L510.8 470.4L518.5 468.1L527.7 466.5L534.6 462.7L538.5 458.1L536.9 452.7L540.0 448.1L546.2 448.1L552.3 445.0L558.5 440.4L563.8 435.0L569.2 431.9L575.4 429.6L576.9 428.1L572.3 425.0L566.2 426.5L560.8 428.1L556.2 425.0L557.7 418.8L559.2 415.0L557.7 414.7L560.0 412.4L563.8 411.6L567.7 410.1L570.8 407.0L572.3 402.4L573.1 397.8L573.8 393.2L572.8 389.3L571.5 387.0L573.8 384.7L576.9 383.9" fill="none" stroke="#3d3a5c" stroke-width="0.8" stroke-linejoin="round" stroke-linecap="round"/>
<path d="M602.8 543.6L600.7 548.5L603.5 549.2L606.9 548.5L608.3 551.2L609.0 555.4L608.3 559.5L606.9 563.7L605.5 567.2L603.5 569.9L601.4 572.0M601.4 572.0L600.0 575.5L598.6 578.9L596.5 582.4L594.5 585.8L591.7 589.3L588.9 592.8L586.2 595.5L584.0 599.0" fill="none" stroke="#2fa9cf" stroke-width="2.0" stroke-linejoin="round" stroke-linecap="round" opacity="0.9"/>
<g fill="#2fa9cf" opacity="0.85"><circle cx="538.2" cy="620.5" r="0.38"/><circle cx="537.8" cy="621.9" r="0.37"/><circle cx="537.0" cy="622.0" r="0.54"/><circle cx="538.5" cy="624.3" r="0.78"/><circle cx="538.1" cy="626.4" r="0.74"/><circle cx="538.4" cy="626.6" r="0.49"/><circle cx="540.4" cy="628.1" r="0.52"/><circle cx="538.9" cy="631.0" r="0.66"/><circle cx="539.2" cy="631.8" r="0.55"/><circle cx="542.9" cy="630.5" r="0.46"/><circle cx="542.4" cy="624.8" r="0.54"/><circle cx="542.6" cy="624.2" r="0.65"/><circle cx="544.7" cy="622.4" r="0.61"/><circle cx="547.7" cy="620.7" r="0.80"/><circle cx="550.7" cy="619.9" r="0.36"/><circle cx="549.3" cy="619.1" r="0.70"/><circle cx="553.7" cy="618.1" r="0.74"/><circle cx="554.6" cy="618.2" r="0.75"/><circle cx="558.4" cy="616.3" r="0.75"/><circle cx="557.4" cy="616.5" r="0.46"/><circle cx="560.6" cy="615.4" r="0.52"/><circle cx="572.0" cy="611.6" r="0.74"/><circle cx="569.6" cy="611.1" r="0.64"/><circle cx="568.4" cy="611.8" r="0.42"/><circle cx="572.0" cy="609.9" r="0.42"/><circle cx="573.3" cy="609.5" r="0.74"/><circle cx="573.1" cy="610.2" r="0.51"/><circle cx="579.7" cy="608.0" r="0.56"/><circle cx="576.6" cy="608.6" r="0.47"/><circle cx="580.2" cy="607.5" r="0.59"/><circle cx="580.6" cy="604.8" r="0.59"/><circle cx="583.4" cy="602.2" r="0.70"/><circle cx="584.2" cy="603.4" r="0.79"/><circle cx="588.9" cy="520.7" r="0.36"/><circle cx="591.8" cy="521.9" r="0.66"/><circle cx="596.7" cy="523.3" r="0.44"/><circle cx="603.0" cy="530.4" r="0.70"/><circle cx="602.5" cy="531.6" r="0.71"/><circle cx="604.5" cy="536.4" r="0.76"/><circle cx="610.2" cy="538.3" r="0.65"/><circle cx="609.5" cy="541.4" r="0.64"/><circle cx="605.7" cy="543.2" r="0.46"/><circle cx="604.2" cy="545.7" r="0.41"/><circle cx="604.1" cy="546.2" r="0.61"/><circle cx="605.3" cy="547.1" r="0.58"/><circle cx="602.5" cy="546.5" r="0.55"/><circle cx="605.9" cy="545.0" r="0.43"/><circle cx="602.1" cy="551.5" r="0.50"/><circle cx="601.4" cy="552.1" r="0.40"/><circle cx="601.0" cy="550.3" r="0.70"/><circle cx="606.0" cy="551.9" r="0.76"/><circle cx="606.1" cy="551.1" r="0.58"/><circle cx="605.5" cy="551.3" r="0.57"/><circle cx="606.6" cy="552.2" r="0.77"/><circle cx="611.1" cy="548.3" r="0.73"/><circle cx="609.1" cy="547.8" r="0.38"/><circle cx="609.7" cy="547.3" r="0.70"/><circle cx="611.5" cy="551.4" r="0.65"/><circle cx="612.8" cy="554.3" r="0.45"/><circle cx="610.9" cy="552.5" r="0.80"/><circle cx="610.6" cy="551.5" r="0.58"/><circle cx="610.7" cy="556.5" r="0.67"/><circle cx="610.8" cy="558.0" r="0.36"/><circle cx="611.0" cy="558.4" r="0.38"/><circle cx="612.3" cy="559.3" r="0.40"/><circle cx="611.4" cy="560.7" r="0.47"/><circle cx="611.2" cy="562.5" r="0.72"/><circle cx="611.7" cy="561.3" r="0.61"/><circle cx="609.1" cy="560.2" r="0.66"/><circle cx="610.4" cy="565.4" r="0.64"/><circle cx="610.1" cy="565.3" r="0.38"/><circle cx="608.0" cy="566.0" r="0.60"/><circle cx="607.7" cy="565.1" r="0.59"/><circle cx="606.4" cy="568.2" r="0.37"/><circle cx="606.3" cy="569.1" r="0.69"/><circle cx="605.6" cy="569.4" r="0.51"/><circle cx="605.7" cy="568.4" r="0.68"/><circle cx="604.7" cy="572.0" r="0.77"/><circle cx="603.3" cy="573.2" r="0.57"/><circle cx="604.4" cy="572.5" r="0.66"/><circle cx="603.1" cy="576.0" r="0.64"/><circle cx="601.8" cy="573.6" r="0.41"/><circle cx="601.9" cy="575.2" r="0.42"/><circle cx="602.2" cy="579.7" r="0.65"/><circle cx="601.3" cy="576.9" r="0.56"/><circle cx="600.9" cy="577.6" r="0.78"/><circle cx="601.4" cy="581.8" r="0.49"/><circle cx="600.3" cy="580.0" r="0.56"/><circle cx="600.3" cy="580.9" r="0.35"/><circle cx="600.2" cy="580.3" r="0.37"/><circle cx="597.2" cy="584.2" r="0.61"/><circle cx="597.5" cy="586.5" r="0.67"/><circle cx="597.3" cy="584.7" r="0.79"/><circle cx="597.5" cy="586.4" r="0.37"/><circle cx="594.2" cy="590.7" r="0.68"/><circle cx="596.0" cy="587.9" r="0.58"/><circle cx="594.9" cy="590.8" r="0.61"/><circle cx="594.9" cy="590.1" r="0.45"/><circle cx="595.6" cy="587.5" r="0.40"/><circle cx="592.3" cy="593.0" r="0.63"/><circle cx="591.0" cy="591.5" r="0.71"/><circle cx="592.3" cy="592.6" r="0.65"/><circle cx="590.9" cy="592.9" r="0.38"/><circle cx="590.8" cy="592.7" r="0.68"/><circle cx="589.5" cy="595.5" r="0.66"/><circle cx="589.2" cy="596.5" r="0.38"/><circle cx="590.5" cy="595.7" r="0.49"/><circle cx="587.0" cy="596.1" r="0.47"/><circle cx="587.2" cy="599.5" r="0.48"/><circle cx="587.1" cy="598.4" r="0.40"/><circle cx="589.1" cy="598.3" r="0.77"/></g>
<path d="M529.2 636.6L530.8 634.3L533.5 632.0L536.5 630.8L539.6 630.5L542.3 630.8L544.2 630.1L545.4 632.0L544.6 634.3L543.1 636.6L541.9 639.3L540.4 641.6L538.1 642.8L535.8 643.9L533.1 643.2L530.4 642.0L529.2 639.7Z" fill="#FADFCC" stroke="#5b9db5" stroke-width="0.8"/>
<path d="M612.9 584.6L614.7 586.0L615.6 587.9L614.7 590.6L614.0 594.4L613.6 598.1L613.3 601.3L612.4 604.1L611.0 606.4L609.6 608.7L610.1 611.1L608.7 609.2L606.8 606.9L605.0 604.1L604.0 601.3L604.5 598.1L605.9 594.4L607.7 590.2L609.6 586.9L611.5 585.1Z" fill="#fff" stroke="#2f7f98" stroke-width="0.8"/>
<path d="M622.0 589.2L622.0 596.2" stroke="#5a587e" stroke-width="1.7" opacity="0.85"/>
<path d="M615.6 616.6L619.4 611.5" stroke="#5a587e" stroke-width="1.7" opacity="0.85"/>
<path d="M605.4 639.0L608.0 633.6" stroke="#5a587e" stroke-width="1.7" opacity="0.85"/>
<path d="M604.0 656.4L604.0 662.4" stroke="#5a587e" stroke-width="1.7" opacity="0.85"/>
<path d="M603.4 691.0L606.0 685.4" stroke="#5a587e" stroke-width="1.7" opacity="0.85"/>
<path d="M583.4 721.0L589.0 716.0" stroke="#5a587e" stroke-width="1.7" opacity="0.85"/>
<path d="M558.0 749.6L564.0 747.6" stroke="#5a587e" stroke-width="1.7" opacity="0.85"/>
<path d="M528.0 724.0L528.0 730.0" stroke="#5a587e" stroke-width="1.7" opacity="0.85"/>
<path d="M541.6 687.0L541.6 693.0" stroke="#5a587e" stroke-width="1.7" opacity="0.85"/>
<path d="M535.4 660.6L538.0 665.6" stroke="#5a587e" stroke-width="1.7" opacity="0.85"/>
<g fill="#9a86b8" opacity="0.7"><circle cx="579.0" cy="621.0" r="0.55"/><circle cx="585.0" cy="623.0" r="0.55"/><circle cx="550.0" cy="652.4" r="0.55"/><circle cx="552.4" cy="656.0" r="0.55"/><circle cx="555.6" cy="653.0" r="0.55"/><circle cx="551.0" cy="659.0" r="0.55"/><circle cx="558.0" cy="654.4" r="0.55"/><circle cx="548.4" cy="660.0" r="0.55"/><circle cx="567.0" cy="660.0" r="0.55"/><circle cx="570.0" cy="658.0" r="0.55"/><circle cx="573.0" cy="659.6" r="0.55"/><circle cx="572.0" cy="657.0" r="0.55"/><circle cx="594.0" cy="662.0" r="0.55"/><circle cx="595.6" cy="661.0" r="0.55"/><circle cx="571.0" cy="692.0" r="0.55"/><circle cx="574.0" cy="694.0" r="0.55"/><circle cx="572.0" cy="698.0" r="0.55"/><circle cx="576.0" cy="696.0" r="0.55"/><circle cx="579.0" cy="699.0" r="0.55"/><circle cx="573.0" cy="702.0" r="0.55"/><circle cx="582.0" cy="696.0" r="0.55"/><circle cx="587.0" cy="690.0" r="0.55"/><circle cx="589.0" cy="687.0" r="0.55"/><circle cx="585.0" cy="688.0" r="0.55"/><circle cx="590.0" cy="693.0" r="0.55"/><circle cx="592.0" cy="703.0" r="0.55"/><circle cx="595.0" cy="692.0" r="0.55"/><circle cx="596.0" cy="694.0" r="0.55"/><circle cx="563.0" cy="704.0" r="0.55"/><circle cx="558.0" cy="709.0" r="0.55"/><circle cx="555.0" cy="711.0" r="0.55"/><circle cx="561.0" cy="710.0" r="0.55"/><circle cx="568.0" cy="709.0" r="0.55"/><circle cx="571.0" cy="712.0" r="0.55"/><circle cx="574.0" cy="715.0" r="0.55"/><circle cx="579.0" cy="713.0" r="0.55"/><circle cx="587.0" cy="709.0" r="0.55"/><circle cx="589.0" cy="705.0" r="0.55"/><circle cx="570.0" cy="720.0" r="0.55"/><circle cx="567.0" cy="724.0" r="0.55"/><circle cx="564.0" cy="727.0" r="0.55"/><circle cx="546.0" cy="716.0" r="0.55"/><circle cx="542.0" cy="717.0" r="0.55"/><circle cx="540.0" cy="720.0" r="0.55"/><circle cx="553.0" cy="720.0" r="0.55"/><circle cx="562.0" cy="733.0" r="0.55"/><circle cx="561.0" cy="738.0" r="0.55"/><circle cx="560.0" cy="744.0" r="0.55"/></g>
</g>
<g transform="translate(-328.0,1.3)">
<path d="M350.0 507.0L347.7 503.9L347.3 498.3L343.6 496.4L339.9 492.7L337.5 489.9L336.1 485.3L333.4 482.5L330.8 479.7L334.3 476.9L335.7 473.2L333.8 469.5L330.6 468.6L330.1 464.9L331.0 462.1L334.3 457.9L339.9 456.0L345.0 457.0L347.7 459.7L351.9 457.4L358.4 456.5L365.9 454.2L371.5 452.9L374.1 449.1L377.4 446.4L377.4 439.4L376.3 434.1L381.1 432.8L386.5 433.2L389.8 434.6L391.4 429.8L394.6 423.8L396.8 421.1L400.5 423.8L404.8 425.2L408.6 424.4L409.7 419.0L412.4 415.8L416.1 415.2L418.3 411.5L422.0 412.0L423.7 416.3L427.4 420.6L431.7 424.9L433.9 429.8L433.4 436.2L432.3 441.6L437.0 444.4L443.0 446.0L448.0 447.6L452.0 450.0L453.0 452.5L456.4 457.6L457.6 463.9M457.6 463.9L460.6 465.2L464.3 466.6M350.0 507.0L349.0 512.0L348.0 517.0L345.0 521.0L344.6 526.0L347.0 530.0L351.0 534.0L355.0 538.0L359.0 540.0L363.0 543.0L367.0 547.0L372.0 551.0L376.0 555.0L380.0 559.0L384.0 562.0L389.0 563.6L394.0 566.0L399.0 567.0L402.0 571.0L405.0 567.0L410.0 567.6L415.0 569.0L419.0 572.0L422.0 576.0L427.0 577.0L432.0 576.0L437.0 573.0L442.0 571.0L448.0 570.0L445.0 569.0L451.0 571.0L456.0 570.0L459.0 569.0L459.8 571.3M459.8 571.3L463.1 575.4L462.6 583.1L459.5 589.2L456.2 593.1L456.9 597.7L458.5 600.8L461.5 602.3L463.1 606.2L466.2 610.0L465.4 613.8L469.2 616.6L473.1 619.2L475.4 617.7L477.7 618.5L480.0 621.5L481.8 620.8L482.6 616.2L483.5 613.1L487.7 612.3L491.5 613.1L495.4 611.5L500.0 610.8L504.6 608.5L508.6 607.6M508.6 607.6L511.5 610.8L515.4 613.1L517.7 616.9L522.3 618.5L526.5 619.2M611.5 474.0L613.1 472.4L615.4 470.1L617.7 467.8L620.0 465.5L622.3 463.2L625.4 460.8M625.4 460.8L626.9 458.5L628.5 456.2L630.8 453.9L633.1 452.4L635.4 450.1L637.7 449.3L636.2 447.8L638.5 447.0L640.8 445.0L640.3 441.0M576.9 383.9L580.8 381.6L585.4 380.8L590.0 380.8L593.8 382.4L596.9 384.7L599.2 387.8L601.5 391.6L603.8 394.7L606.2 397.8L609.2 400.1L613.1 401.6L616.9 403.2L620.8 403.9L624.6 405.5L627.7 407.8L630.8 410.1L633.8 410.8L636.2 408.5L639.2 406.2L642.3 403.9L645.4 402.4L647.2 401.6L646.9 405.5L646.2 410.1L645.7 414.7L646.2 419.3L645.7 423.9L644.2 427.0L639.3 430.7L636.9 432.7L638.7 436.7L640.3 441.0M464.3 466.6L470.0 466.9L477.0 467.1L483.0 467.6L487.0 469.0L492.0 471.3L497.0 473.0L502.0 473.5L504.5 475.0L507.7 472.7L510.8 470.4L518.5 468.1L527.7 466.5L534.6 462.7L538.5 458.1L536.9 452.7L540.0 448.1L546.2 448.1L552.3 445.0L558.5 440.4L563.8 435.0L569.2 431.9L575.4 429.6L576.9 428.1L572.3 425.0L566.2 426.5L560.8 428.1L556.2 425.0L557.7 418.8L559.2 415.0L557.7 414.7L560.0 412.4L563.8 411.6L567.7 410.1L570.8 407.0L572.3 402.4L573.1 397.8L573.8 393.2L572.8 389.3L571.5 387.0L573.8 384.7L576.9 383.9" fill="none" stroke="#bfbde8" stroke-width="4.6" stroke-linejoin="round" stroke-linecap="round" opacity="0.88" filter="url(#bl)"/>
<path d="M526.5 619.2L529.0 618.6L531.5 618.2L534.0 619.2L536.2 620.0M536.2 620.0L536.0 622.0L536.4 624.5L537.3 626.8L538.2 628.6L539.0 629.8L540.4 630.0L541.5 628.8L541.8 627.0L541.4 625.0L542.2 622.8L543.3 620.8L544.6 619.2L548.5 618.5L552.3 616.9L556.2 615.7L560.0 613.8L563.8 612.3L567.7 610.8L571.5 609.2L575.4 607.7L578.5 605.4L581.5 603.1L584.0 599.0M587.0 518.4L591.7 520.1L595.2 522.8L597.2 527.0L599.3 530.5L602.1 533.2L604.8 535.3L606.9 536.7L607.6 539.5L605.5 541.5L602.8 543.6M602.8 543.6L600.7 548.5L603.5 549.2L606.9 548.5L608.3 551.2L609.0 555.4L608.3 559.5L606.9 563.7L605.5 567.2L603.5 569.9L601.4 572.0M601.4 572.0L600.0 575.5L598.6 578.9L596.5 582.4L594.5 585.8L591.7 589.3L588.9 592.8L586.2 595.5L584.0 599.0M579.2 496.4L581.9 497.8L584.7 499.2L586.8 500.5L588.8 499.2L590.9 497.8L593.7 496.4L596.5 496.4L599.2 496.4L602.0 496.8L604.1 497.4L604.5 498.7L602.3 500.1L600.6 501.0L597.8 501.9L595.8 504.0L593.7 506.1L591.6 508.8L590.2 511.6L588.8 514.4L587.5 517.2L587.0 518.4M585.4 479.5L583.3 482.5L580.5 485.3L577.8 487.4L575.7 488.8L575.0 490.8L575.7 492.9L577.1 495.0L579.2 496.4M585.4 479.5L588.2 477.7L590.9 475.6L593.0 473.5L595.8 472.8L597.8 474.2L598.1 477.0L597.2 479.8L595.8 482.5L594.8 484.9L597.8 483.2L601.3 481.2L604.8 479.1L608.2 476.3L611.0 474.2L611.5 474.0" fill="none" stroke="#bfeaf5" stroke-width="3" stroke-linejoin="round" stroke-linecap="round" opacity="0.7" filter="url(#bl)"/>
<path d="M350.0 507.0L347.7 503.9L347.3 498.3L343.6 496.4L339.9 492.7L337.5 489.9L336.1 485.3L333.4 482.5L330.8 479.7L334.3 476.9L335.7 473.2L333.8 469.5L330.6 468.6L330.1 464.9L331.0 462.1L334.3 457.9L339.9 456.0L345.0 457.0L347.7 459.7L351.9 457.4L358.4 456.5L365.9 454.2L371.5 452.9L374.1 449.1L377.4 446.4L377.4 439.4L376.3 434.1L381.1 432.8L386.5 433.2L389.8 434.6L391.4 429.8L394.6 423.8L396.8 421.1L400.5 423.8L404.8 425.2L408.6 424.4L409.7 419.0L412.4 415.8L416.1 415.2L418.3 411.5L422.0 412.0L423.7 416.3L427.4 420.6L431.7 424.9L433.9 429.8L433.4 436.2L432.3 441.6L437.0 444.4L443.0 446.0L448.0 447.6L452.0 450.0L453.0 452.5L456.4 457.6L457.6 463.9L456.4 466.9L454.7 471.2L452.2 475.4L448.8 478.8L443.7 479.6L439.5 480.8L436.9 483.8L435.6 487.2L436.0 489.0L430.2 490.6L425.1 491.1L422.0 492.3L421.4 496.5L422.5 500.8L423.7 504.2L423.0 508.0L419.0 509.0L415.0 508.0L410.0 506.0L405.0 505.6L400.0 506.0L395.0 505.0L390.0 505.6L385.0 507.0L380.0 506.0L375.0 505.0L370.0 505.6L365.0 504.0L360.0 503.0L355.0 504.0Z" fill="#E9B39C" stroke="#E9B39C" stroke-width="0.4"/>
<path d="M350.0 507.0L355.0 504.0L360.0 503.0L365.0 504.0L370.0 505.6L375.0 505.0L380.0 506.0L385.0 507.0L390.0 505.6L395.0 505.0L400.0 506.0L405.0 505.6L410.0 506.0L415.0 508.0L419.0 509.0L423.0 508.0L418.0 511.0L414.6 516.0L414.0 522.0L416.0 528.0L420.0 530.4L425.1 532.9L430.2 535.5L436.1 537.2L441.2 538.0L445.4 539.7L449.6 543.1L453.8 542.2L458.1 539.7L458.9 537.9L461.9 539.6L465.0 543.5L466.5 549.6L467.3 557.3L468.1 563.5L467.3 566.5L459.8 571.3L459.0 569.0L456.0 570.0L451.0 571.0L445.0 569.0L448.0 570.0L442.0 571.0L437.0 573.0L432.0 576.0L427.0 577.0L422.0 576.0L419.0 572.0L415.0 569.0L410.0 567.6L405.0 567.0L402.0 571.0L399.0 567.0L394.0 566.0L389.0 563.6L384.0 562.0L380.0 559.0L376.0 555.0L372.0 551.0L367.0 547.0L363.0 543.0L359.0 540.0L355.0 538.0L351.0 534.0L347.0 530.0L344.6 526.0L345.0 521.0L348.0 517.0L349.0 512.0Z" fill="#ffffff" stroke="#ffffff" stroke-width="0.4"/>
<path d="M423.0 508.0L423.7 504.2L422.5 500.8L421.4 496.5L422.0 492.3L425.1 491.1L430.2 490.6L436.0 489.0L441.2 491.5L444.5 494.8L449.6 496.5L453.8 497.4L458.1 494.0L461.5 492.3L465.7 492.3L469.9 493.2L474.2 496.5L478.4 499.1L482.6 501.6L486.8 505.0L490.2 508.4L491.9 513.5L490.2 517.7L487.7 521.1L486.0 525.3L485.2 528.7L483.5 527.0L480.9 527.0L479.2 528.7L481.8 531.2L484.3 532.1L485.2 535.1L481.8 535.5L480.1 538.0L476.7 538.8L473.3 538.0L469.9 537.2L466.5 534.6L464.8 531.2L463.2 527.8L459.8 528.7L458.6 532.9L458.9 537.9L458.1 539.7L453.8 542.2L449.6 543.1L445.4 539.7L441.2 538.0L436.1 537.2L430.2 535.5L425.1 532.9L420.0 530.4L416.0 528.0L414.0 522.0L414.6 516.0L418.0 511.0Z" fill="#ffffff" stroke="#ffffff" stroke-width="0.4"/>
<path d="M436.0 489.0L435.6 487.2L436.9 483.8L439.5 480.8L443.7 479.6L448.8 478.8L452.2 475.4L454.7 471.2L456.4 466.9L457.6 463.9L460.6 465.2L464.3 466.6L465.4 470.3L466.5 475.4L469.1 479.6L473.3 480.5L476.7 481.3L477.5 484.7L480.1 488.1L483.5 490.6L486.0 493.2L487.7 494.3L491.1 493.2L494.5 491.5L497.8 492.3L498.7 495.7L497.0 499.1L496.2 502.5L499.5 504.2L503.0 505.5L504.7 508.2L505.9 511.8L507.2 515.5L509.0 518.0L511.5 519.2L513.6 521.7L512.2 522.8L511.4 527.8L513.1 532.9L510.5 537.2L508.3 539.4L505.5 538.0L502.9 536.3L499.5 534.6L497.0 531.2L493.6 528.7L490.2 529.5L487.7 532.9L485.2 535.1L484.3 532.1L481.8 531.2L479.2 528.7L480.9 527.0L483.5 527.0L485.2 528.7L486.0 525.3L487.7 521.1L490.2 517.7L491.9 513.5L490.2 508.4L486.8 505.0L482.6 501.6L478.4 499.1L474.2 496.5L469.9 493.2L465.7 492.3L461.5 492.3L458.1 494.0L453.8 497.4L449.6 496.5L444.5 494.8L441.2 491.5Z" fill="#ffffff" stroke="#ffffff" stroke-width="0.4"/>
<path d="M517.6 506.9L514.5 507.5L513.3 509.4L513.6 513.1L514.5 516.8L513.6 521.7L515.8 522.9L518.8 522.9L521.3 520.5L525.0 519.8L525.6 516.2L524.4 512.5L520.7 509.4Z" fill="#ffffff" stroke="#ffffff" stroke-width="0.4"/>
<path d="M464.3 466.6L465.4 470.3L466.5 475.4L469.1 479.6L473.3 480.5L476.7 481.3L477.5 484.7L480.1 488.1L483.5 490.6L486.0 493.2L487.7 494.3L491.1 493.2L494.5 491.5L497.8 492.3L498.7 495.7L497.0 499.1L496.2 502.5L499.5 504.2L503.0 505.5L506.5 505.1L509.0 503.2L510.2 499.5L511.5 495.2L512.7 492.8L513.9 492.8L515.2 496.5L514.5 500.8L516.4 503.8L517.6 506.9L520.3 501.6L525.4 499.1L530.5 496.5L534.7 493.7L538.1 490.6L539.3 489.3L543.2 486.4L545.7 483.8L550.8 483.0L554.3 482.4L552.8 477.7L554.2 472.8L557.0 470.8L559.8 469.4L563.2 468.7L566.0 466.6L569.5 465.2L571.5 463.8L574.3 464.5L577.8 465.2L579.8 464.5L582.5 466.4L586.2 464.7L588.5 462.4L591.5 460.1L594.6 457.8L596.9 455.5L600.0 453.2L597.7 450.8L595.4 448.5L593.8 446.2L593.1 443.2L591.5 440.1L590.8 436.2L592.3 433.2L594.6 430.1L592.3 427.8L590.3 425.5L591.5 423.2L593.8 420.8L596.2 418.5L598.5 415.5L599.2 410.8L598.9 406.2L599.2 401.6L600.0 397.0L598.5 393.9L596.2 393.2L593.1 393.9L590.0 395.5L586.9 396.2L585.4 393.2L583.1 390.8L580.0 389.3L578.5 386.2L576.9 383.9L573.8 384.7L571.5 387.0L572.8 389.3L573.8 393.2L573.1 397.8L572.3 402.4L570.8 407.0L567.7 410.1L563.8 411.6L560.0 412.4L557.7 414.7L559.2 415.0L557.7 418.8L556.2 425.0L560.8 428.1L566.2 426.5L572.3 425.0L576.9 428.1L575.4 429.6L569.2 431.9L563.8 435.0L558.5 440.4L552.3 445.0L546.2 448.1L540.0 448.1L536.9 452.7L538.5 458.1L534.6 462.7L527.7 466.5L518.5 468.1L510.8 470.4L507.7 472.7L504.5 475.0L502.0 473.5L497.0 473.0L492.0 471.3L487.0 469.0L483.0 467.6L477.0 467.1L470.0 466.9Z" fill="#E9B39C" stroke="#E9B39C" stroke-width="0.4"/>
<path d="M503.0 505.5L504.7 508.2L505.9 511.8L507.2 515.5L509.0 518.0L511.5 519.2L513.6 521.7L514.5 516.8L513.6 513.1L513.3 509.4L514.5 507.5L517.6 506.9L516.4 503.8L514.5 500.8L515.2 496.5L513.9 492.8L512.7 492.8L511.5 495.2L510.2 499.5L509.0 503.2L506.5 505.1Z" fill="#FADFCC" stroke="#FADFCC" stroke-width="0.4"/>
<path d="M517.6 506.9L520.7 509.4L524.4 512.5L525.6 516.2L525.0 519.8L521.3 520.5L518.8 522.9L515.8 522.9L513.6 521.7L512.2 522.8L511.4 527.8L513.1 532.9L510.5 537.2L508.3 539.4L508.8 539.6L513.5 540.1L518.1 540.7L521.9 541.9L524.5 545.5L530.0 546.9L534.2 546.5L533.1 542.3L532.3 538.5L534.5 536.0L540.6 534.6L539.8 532.1L538.1 528.7L536.4 524.5L535.9 517.7L536.4 510.9L535.2 504.2L536.4 497.4L537.2 491.5L538.1 490.6L534.7 493.7L530.5 496.5L525.4 499.1L520.3 501.6Z" fill="#FADFCC" stroke="#FADFCC" stroke-width="0.4"/>
<path d="M536.4 524.5L535.9 517.7L536.4 510.9L535.2 504.2L536.4 497.4L537.2 491.5L538.1 490.6L539.3 489.3L543.2 486.4L545.7 483.8L550.8 483.0L554.3 482.4L555.6 486.0L556.3 489.5L554.2 492.2L552.8 495.7L554.2 499.2L555.6 502.6L554.9 506.8L556.3 510.5L552.5 515.2L549.1 517.7L544.0 521.1L539.8 523.6Z" fill="#FADFCC" stroke="#FADFCC" stroke-width="0.4"/>
<path d="M554.3 482.4L555.6 486.0L556.3 489.5L554.2 492.2L552.8 495.7L554.2 499.2L555.6 502.6L554.9 506.8L556.3 510.5L559.8 513.7L562.5 515.1L564.6 515.8L563.9 513.0L564.6 509.5L566.0 506.1L568.1 503.3L570.8 500.5L573.6 498.5L576.4 497.1L579.2 496.4L577.1 495.0L575.7 492.9L575.0 490.8L575.7 488.8L577.8 487.4L580.5 485.3L583.3 482.5L585.4 479.5L584.7 478.4L583.3 476.3L582.6 473.5L581.9 470.1L582.5 466.4L579.8 464.5L577.8 465.2L574.3 464.5L571.5 463.8L569.5 465.2L566.0 466.6L563.2 468.7L559.8 469.4L557.0 470.8L554.2 472.8L552.8 477.7Z" fill="#E9B39C" stroke="#E9B39C" stroke-width="0.4"/>
<path d="M585.4 479.5L588.2 477.7L590.9 475.6L593.0 473.5L595.8 472.8L597.8 474.2L598.1 477.0L597.2 479.8L595.8 482.5L594.8 484.9L597.8 483.2L601.3 481.2L604.8 479.1L608.2 476.3L611.0 474.2L611.5 474.0L613.1 472.4L615.4 470.1L617.7 467.8L620.0 465.5L622.3 463.2L625.4 460.8L623.1 460.8L620.0 461.6L616.9 463.2L614.6 461.6L613.1 458.5L610.8 455.5L607.7 453.2L603.8 452.4L600.0 453.2L596.9 455.5L594.6 457.8L591.5 460.1L588.5 462.4L586.2 464.7L582.5 466.4L581.9 470.1L582.6 473.5L583.3 476.3L584.7 478.4Z" fill="#DA907A" stroke="#DA907A" stroke-width="0.4"/>
<path d="M625.4 460.8L626.9 458.5L628.5 456.2L630.8 453.9L633.1 452.4L635.4 450.1L637.7 449.3L636.2 447.8L638.5 447.0L640.8 445.0L640.3 441.0L636.7 439.5L632.7 440.5L628.5 442.4L626.2 440.8L623.1 439.3L620.0 437.8L616.2 437.0L612.3 435.5L608.5 434.7L604.6 435.5L600.8 434.7L597.7 432.4L594.6 430.1L592.3 433.2L590.8 436.2L591.5 440.1L593.1 443.2L593.8 446.2L595.4 448.5L597.7 450.8L600.0 453.2L603.8 452.4L607.7 453.2L610.8 455.5L613.1 458.5L614.6 461.6L616.9 463.2L620.0 461.6L623.1 460.8Z" fill="#C56D54" stroke="#C56D54" stroke-width="0.4"/>
<path d="M576.9 383.9L580.8 381.6L585.4 380.8L590.0 380.8L593.8 382.4L596.9 384.7L599.2 387.8L601.5 391.6L603.8 394.7L606.2 397.8L609.2 400.1L613.1 401.6L616.9 403.2L620.8 403.9L624.6 405.5L627.7 407.8L630.8 410.1L633.8 410.8L636.2 408.5L639.2 406.2L642.3 403.9L645.4 402.4L647.2 401.6L646.9 405.5L646.2 410.1L645.7 414.7L646.2 419.3L645.7 423.9L644.2 427.0L639.3 430.7L636.9 432.7L638.7 436.7L640.3 441.0L636.7 439.5L632.7 440.5L628.5 442.4L626.2 440.8L623.1 439.3L620.0 437.8L616.2 437.0L612.3 435.5L608.5 434.7L604.6 435.5L600.8 434.7L597.7 432.4L594.6 430.1L592.3 427.8L590.3 425.5L591.5 423.2L593.8 420.8L596.2 418.5L598.5 415.5L599.2 410.8L598.9 406.2L599.2 401.6L600.0 397.0L598.5 393.9L596.2 393.2L593.1 393.9L590.0 395.5L586.9 396.2L585.4 393.2L583.1 390.8L580.0 389.3L578.5 386.2Z" fill="#AA462C" stroke="#AA462C" stroke-width="0.4"/>
<path d="M564.6 515.8L563.9 513.0L564.6 509.5L566.0 506.1L568.1 503.3L570.8 500.5L573.6 498.5L576.4 497.1L579.2 496.4L581.9 497.8L584.7 499.2L586.8 500.5L588.8 499.2L590.9 497.8L593.7 496.4L596.5 496.4L599.2 496.4L602.0 496.8L604.1 497.4L604.5 498.7L602.3 500.1L600.6 501.0L597.8 501.9L595.8 504.0L593.7 506.1L591.6 508.8L590.2 511.6L588.8 514.4L587.5 517.2L587.0 518.4L583.8 520.2L581.5 521.4L578.5 521.8L575.4 520.9L572.2 521.3L570.2 523.4L567.4 520.6L565.3 518.5Z" fill="#DA907A" stroke="#DA907A" stroke-width="0.4"/>
<path d="M534.5 536.0L540.6 534.6L539.8 532.1L538.1 528.7L536.4 524.5L539.8 523.6L544.0 521.1L549.1 517.7L552.5 515.2L556.3 510.5L559.8 513.7L562.5 515.1L564.6 515.8L565.3 518.5L567.4 520.6L570.2 523.4L568.5 529.5L566.8 532.9L566.0 536.3L566.8 540.5L569.4 543.1L567.5 546.0L561.5 543.1L557.7 540.0L553.1 539.2L548.5 540.8L543.8 539.2L539.2 536.9L536.2 534.6Z" fill="#E9B39C" stroke="#E9B39C" stroke-width="0.4"/>
<path d="M572.2 521.3L575.4 520.9L578.5 521.8L581.5 521.4L583.8 520.2L587.0 518.4L591.7 520.1L595.2 522.8L597.2 527.0L599.3 530.5L602.1 533.2L604.8 535.3L606.9 536.7L607.6 539.5L605.5 541.5L602.8 543.6L600.0 545.0L597.0 544.9L594.5 544.2L593.1 543.1L590.8 541.5L588.5 539.2L586.9 536.9L586.2 534.6L586.9 532.3L584.6 530.8L582.7 528.1L581.2 525.8L578.5 524.5L575.4 523.2Z" fill="#AA462C" stroke="#AA462C" stroke-width="0.4"/>
<path d="M570.2 523.4L572.2 521.3L575.4 523.2L578.5 524.5L581.2 525.8L582.7 528.1L584.6 530.8L586.9 532.3L586.2 534.6L586.9 536.9L588.5 539.2L590.8 541.5L593.1 543.1L594.5 544.2L594.5 549.2L592.4 551.2L590.3 554.0L586.5 557.0L584.8 557.5L579.9 556.8L575.8 556.1L573.1 555.4L572.3 551.5L570.0 547.7L567.5 546.0L569.4 543.1L566.8 540.5L566.0 536.3L566.8 532.9L568.5 529.5Z" fill="#DA907A" stroke="#DA907A" stroke-width="0.4"/>
<path d="M589.5 565.5L589.6 563.0L588.2 559.5L586.5 557.0L590.3 554.0L592.4 551.2L594.5 549.2L594.5 544.2L597.0 544.9L600.0 545.0L602.8 543.6L600.7 548.5L603.5 549.2L606.9 548.5L608.3 551.2L609.0 555.4L608.3 559.5L606.9 563.7L605.5 567.2L603.5 569.9L601.4 572.0L597.9 572.0L594.5 571.3L592.4 569.2Z" fill="#FADFCC" stroke="#FADFCC" stroke-width="0.4"/>
<path d="M579.2 594.2L582.0 597.0L584.0 599.0L586.2 595.5L588.9 592.8L591.7 589.3L594.5 585.8L596.5 582.4L598.6 578.9L600.0 575.5L601.4 572.0L597.9 572.0L594.5 571.3L592.4 569.2L589.5 565.5L587.5 567.8L584.8 568.5L582.7 571.3L580.6 574.8L579.2 578.2L577.8 581.7L576.5 585.2L577.2 588.6L578.5 591.4Z" fill="#FADFCC" stroke="#FADFCC" stroke-width="0.4"/>
<path d="M573.1 555.4L570.8 557.7L566.9 558.5L563.1 560.8L560.8 562.3L560.0 566.2L560.8 570.8L559.2 574.6L560.8 578.5L561.5 583.1L562.3 587.7L563.8 590.8L565.4 593.8L568.5 595.4L571.5 594.6L574.6 595.4L579.2 594.2L578.5 591.4L577.2 588.6L576.5 585.2L577.8 581.7L579.2 578.2L580.6 574.8L582.7 571.3L584.8 568.5L587.5 567.8L589.5 565.5L589.6 563.0L588.2 559.5L586.5 557.0L584.8 557.5L579.9 556.8L575.8 556.1Z" fill="#E9B39C" stroke="#E9B39C" stroke-width="0.4"/>
<path d="M534.2 546.5L536.2 550.0L533.8 553.1L530.0 554.6L526.9 556.9L527.7 560.3L530.0 561.8L532.3 560.0L535.4 558.5L538.5 556.2L542.3 556.9L546.2 557.7L550.0 558.5L554.6 559.2L558.5 560.8L560.8 562.3L563.1 560.8L566.9 558.5L570.8 557.7L573.1 555.4L572.3 551.5L570.0 547.7L567.5 546.0L561.5 543.1L557.7 540.0L553.1 539.2L548.5 540.8L543.8 539.2L539.2 536.9L536.2 534.6L534.5 536.0L532.3 538.5L533.1 542.3Z" fill="#C56D54" stroke="#C56D54" stroke-width="0.4"/>
<path d="M528.5 570.0L530.8 573.1L531.5 576.9L532.3 580.8L533.1 584.6L531.5 587.7L534.6 588.5L537.7 586.9L540.8 586.2L543.8 587.7L546.2 590.8L548.5 593.8L550.8 592.3L553.8 591.5L557.7 592.3L561.5 593.1L565.4 593.8L563.8 590.8L562.3 587.7L561.5 583.1L560.8 578.5L559.2 574.6L560.8 570.8L560.0 566.2L560.8 562.3L558.5 560.8L554.6 559.2L550.0 558.5L546.2 557.7L542.3 556.9L538.5 556.2L535.4 558.5L532.3 560.0L530.0 561.8L530.8 564.6L530.0 567.7Z" fill="#DA907A" stroke="#DA907A" stroke-width="0.4"/>
<path d="M565.4 593.8L561.5 593.1L557.7 592.3L553.8 591.5L550.8 592.3L548.5 593.8L548.9 596.2L547.7 599.2L546.2 603.1L543.8 606.9L542.3 610.8L540.0 613.8L537.7 616.9L536.2 620.0L536.0 622.0L536.4 624.5L537.3 626.8L538.2 628.6L539.0 629.8L540.4 630.0L541.5 628.8L541.8 627.0L541.4 625.0L542.2 622.8L543.3 620.8L544.6 619.2L548.5 618.5L552.3 616.9L556.2 615.7L560.0 613.8L563.8 612.3L567.7 610.8L571.5 609.2L575.4 607.7L578.5 605.4L581.5 603.1L584.0 599.0L582.0 597.0L579.2 594.2L574.6 595.4L571.5 594.6L568.5 595.4Z" fill="#DA907A" stroke="#DA907A" stroke-width="0.4"/>
<path d="M508.6 607.6L511.5 610.8L515.4 613.1L517.7 616.9L522.3 618.5L526.5 619.2L529.0 618.6L531.5 618.2L534.0 619.2L536.2 620.0L537.7 616.9L540.0 613.8L542.3 610.8L543.8 606.9L546.2 603.1L547.7 599.2L548.9 596.2L548.5 593.8L546.2 590.8L543.8 587.7L540.8 586.2L537.7 586.9L534.6 588.5L531.5 587.7L528.5 589.2L524.6 590.8L520.8 592.3L516.9 593.1L513.1 593.8L509.2 595.4L506.2 596.9L503.1 596.2L505.0 600.0L507.4 604.0Z" fill="#E9B39C" stroke="#E9B39C" stroke-width="0.4"/>
<path d="M510.0 568.6L507.3 572.7L503.5 573.5L501.2 571.2L498.8 569.6L497.3 570.4L496.5 573.5L495.8 577.3L496.5 580.4L498.8 581.9L501.2 583.5L502.7 588.1L501.9 592.7L503.1 596.2L506.2 596.9L509.2 595.4L513.1 593.8L516.9 593.1L520.8 592.3L524.6 590.8L528.5 589.2L531.5 587.7L533.1 584.6L532.3 580.8L531.5 576.9L530.8 573.1L528.5 570.0L525.4 568.5L522.3 566.2L519.2 566.9L516.2 568.5L513.8 567.7L511.5 569.2Z" fill="#DA907A" stroke="#DA907A" stroke-width="0.4"/>
<path d="M467.3 566.5L459.8 571.3L463.1 575.4L462.6 583.1L459.5 589.2L456.2 593.1L456.9 597.7L458.5 600.8L461.5 602.3L463.1 606.2L466.2 610.0L465.4 613.8L469.2 616.6L473.1 619.2L475.4 617.7L477.7 618.5L480.0 621.5L481.8 620.8L482.6 616.2L483.5 613.1L487.7 612.3L491.5 613.1L495.4 611.5L500.0 610.8L504.6 608.5L508.6 607.6L507.4 604.0L505.0 600.0L503.1 596.2L501.9 592.7L502.7 588.1L501.2 583.5L498.8 581.9L496.5 580.4L495.8 577.3L496.5 573.5L497.3 570.4L494.2 572.7L491.9 576.5L490.4 580.4L488.8 584.2L485.8 586.5L482.7 585.8L479.6 581.9L475.8 577.3L471.9 572.7L468.8 568.1Z" fill="#FADFCC" stroke="#FADFCC" stroke-width="0.4"/>
<path d="M458.9 537.9L458.6 532.9L459.8 528.7L463.2 527.8L464.8 531.2L466.5 534.6L469.9 537.2L473.3 538.0L476.7 538.8L480.1 538.0L481.8 535.5L485.2 535.1L487.7 532.9L490.2 529.5L493.6 528.7L497.0 531.2L499.5 534.6L502.9 536.3L505.5 538.0L508.3 539.4L508.8 539.6L513.5 540.1L518.1 540.7L521.9 541.9L524.5 545.5L523.1 548.5L522.3 551.5L520.0 554.6L516.9 556.2L513.1 556.9L510.0 558.5L508.5 561.5L507.7 565.4L510.0 568.6L507.3 572.7L503.5 573.5L501.2 571.2L498.8 569.6L497.3 570.4L494.2 572.7L491.9 576.5L490.4 580.4L488.8 584.2L485.8 586.5L482.7 585.8L479.6 581.9L475.8 577.3L471.9 572.7L468.8 568.1L467.3 566.5L468.1 563.5L467.3 557.3L466.5 549.6L465.0 543.5L461.9 539.6Z" fill="#E9B39C" stroke="#E9B39C" stroke-width="0.4"/>
<path d="M524.5 545.5L523.1 548.5L522.3 551.5L520.0 554.6L516.9 556.2L513.1 556.9L510.0 558.5L508.5 561.5L507.7 565.4L510.0 568.6L511.5 569.2L513.8 567.7L516.2 568.5L519.2 566.9L522.3 566.2L525.4 568.5L528.5 570.0L530.0 567.7L530.8 564.6L530.0 561.8L527.7 560.3L526.9 556.9L530.0 554.6L533.8 553.1L536.2 550.0L534.2 546.5L530.0 546.9Z" fill="#E9B39C" stroke="#E9B39C" stroke-width="0.4"/>
<path d="M564.3 477.4L567.4 476.6L570.4 478.0L572.1 481.2L571.3 484.6L569.0 486.8L566.0 487.1L563.6 485.2L562.8 481.3Z" fill="#ffffff" stroke="#8f8f8f" stroke-width="0.5"/>
<path d="M571.0 482.1L572.6 482.7L574.3 484.6L575.7 487.1L576.0 489.5L575.1 491.3L575.8 493.5L573.5 494.2L571.5 491.8L570.4 488.1L570.2 484.6Z" fill="#FADFCC" stroke="#8f8f8f" stroke-width="0.5"/>
<path d="M350.0 507.0L355.0 504.0L360.0 503.0L365.0 504.0L370.0 505.6L375.0 505.0L380.0 506.0L385.0 507.0L390.0 505.6L395.0 505.0L400.0 506.0L405.0 505.6L410.0 506.0L415.0 508.0L419.0 509.0L423.0 508.0M423.0 508.0L423.7 504.2L422.5 500.8L421.4 496.5L422.0 492.3L425.1 491.1L430.2 490.6L436.0 489.0M436.0 489.0L435.6 487.2L436.9 483.8L439.5 480.8L443.7 479.6L448.8 478.8L452.2 475.4L454.7 471.2L456.4 466.9L457.6 463.9M423.0 508.0L418.0 511.0L414.6 516.0L414.0 522.0L416.0 528.0L420.0 530.4L425.1 532.9L430.2 535.5L436.1 537.2L441.2 538.0L445.4 539.7L449.6 543.1L453.8 542.2L458.1 539.7L458.9 537.9M436.0 489.0L441.2 491.5L444.5 494.8L449.6 496.5L453.8 497.4L458.1 494.0L461.5 492.3L465.7 492.3L469.9 493.2L474.2 496.5L478.4 499.1L482.6 501.6L486.8 505.0L490.2 508.4L491.9 513.5L490.2 517.7L487.7 521.1L486.0 525.3L485.2 528.7L483.5 527.0L480.9 527.0L479.2 528.7L481.8 531.2L484.3 532.1L485.2 535.1M458.9 537.9L458.6 532.9L459.8 528.7L463.2 527.8L464.8 531.2L466.5 534.6L469.9 537.2L473.3 538.0L476.7 538.8L480.1 538.0L481.8 535.5L485.2 535.1M458.9 537.9L461.9 539.6L465.0 543.5L466.5 549.6L467.3 557.3L468.1 563.5L467.3 566.5M467.3 566.5L459.8 571.3M464.3 466.6L465.4 470.3L466.5 475.4L469.1 479.6L473.3 480.5L476.7 481.3L477.5 484.7L480.1 488.1L483.5 490.6L486.0 493.2L487.7 494.3L491.1 493.2L494.5 491.5L497.8 492.3L498.7 495.7L497.0 499.1L496.2 502.5L499.5 504.2L503.0 505.5M503.0 505.5L504.7 508.2L505.9 511.8L507.2 515.5L509.0 518.0L511.5 519.2L513.6 521.7M503.0 505.5L506.5 505.1L509.0 503.2L510.2 499.5L511.5 495.2L512.7 492.8L513.9 492.8L515.2 496.5L514.5 500.8L516.4 503.8L517.6 506.9M517.6 506.9L514.5 507.5L513.3 509.4L513.6 513.1L514.5 516.8L513.6 521.7M517.6 506.9L520.7 509.4L524.4 512.5L525.6 516.2L525.0 519.8L521.3 520.5L518.8 522.9L515.8 522.9L513.6 521.7M513.6 521.7L512.2 522.8L511.4 527.8L513.1 532.9L510.5 537.2L508.3 539.4M485.2 535.1L487.7 532.9L490.2 529.5L493.6 528.7L497.0 531.2L499.5 534.6L502.9 536.3L505.5 538.0L508.3 539.4M508.3 539.4L508.8 539.6L513.5 540.1L518.1 540.7L521.9 541.9L524.5 545.5M524.5 545.5L523.1 548.5L522.3 551.5L520.0 554.6L516.9 556.2L513.1 556.9L510.0 558.5L508.5 561.5L507.7 565.4L510.0 568.6M510.0 568.6L507.3 572.7L503.5 573.5L501.2 571.2L498.8 569.6L497.3 570.4M467.3 566.5L468.8 568.1L471.9 572.7L475.8 577.3L479.6 581.9L482.7 585.8L485.8 586.5L488.8 584.2L490.4 580.4L491.9 576.5L494.2 572.7L497.3 570.4M497.3 570.4L496.5 573.5L495.8 577.3L496.5 580.4L498.8 581.9L501.2 583.5L502.7 588.1L501.9 592.7L503.1 596.2M503.1 596.2L505.0 600.0L507.4 604.0L508.6 607.6M503.1 596.2L506.2 596.9L509.2 595.4L513.1 593.8L516.9 593.1L520.8 592.3L524.6 590.8L528.5 589.2L531.5 587.7M528.5 570.0L530.8 573.1L531.5 576.9L532.3 580.8L533.1 584.6L531.5 587.7M510.0 568.6L511.5 569.2L513.8 567.7L516.2 568.5L519.2 566.9L522.3 566.2L525.4 568.5L528.5 570.0M530.0 561.8L530.8 564.6L530.0 567.7L528.5 570.0M534.2 546.5L536.2 550.0L533.8 553.1L530.0 554.6L526.9 556.9L527.7 560.3L530.0 561.8M524.5 545.5L530.0 546.9L534.2 546.5M534.2 546.5L533.1 542.3L532.3 538.5L534.5 536.0M534.5 536.0L540.6 534.6L539.8 532.1L538.1 528.7L536.4 524.5M536.4 524.5L535.9 517.7L536.4 510.9L535.2 504.2L536.4 497.4L537.2 491.5L538.1 490.6M538.1 490.6L534.7 493.7L530.5 496.5L525.4 499.1L520.3 501.6L517.6 506.9M538.1 490.6L539.3 489.3L543.2 486.4L545.7 483.8L550.8 483.0L554.3 482.4M554.3 482.4L555.6 486.0L556.3 489.5L554.2 492.2L552.8 495.7L554.2 499.2L555.6 502.6L554.9 506.8L556.3 510.5M556.3 510.5L552.5 515.2L549.1 517.7L544.0 521.1L539.8 523.6L536.4 524.5M556.3 510.5L559.8 513.7L562.5 515.1L564.6 515.8M564.6 515.8L563.9 513.0L564.6 509.5L566.0 506.1L568.1 503.3L570.8 500.5L573.6 498.5L576.4 497.1L579.2 496.4M564.6 515.8L565.3 518.5L567.4 520.6L570.2 523.4M570.2 523.4L572.2 521.3M572.2 521.3L575.4 520.9L578.5 521.8L581.5 521.4L583.8 520.2L587.0 518.4M570.2 523.4L568.5 529.5L566.8 532.9L566.0 536.3L566.8 540.5L569.4 543.1L567.5 546.0M534.5 536.0L536.2 534.6L539.2 536.9L543.8 539.2L548.5 540.8L553.1 539.2L557.7 540.0L561.5 543.1L567.5 546.0M567.5 546.0L570.0 547.7L572.3 551.5L573.1 555.4M573.1 555.4L570.8 557.7L566.9 558.5L563.1 560.8L560.8 562.3M530.0 561.8L532.3 560.0L535.4 558.5L538.5 556.2L542.3 556.9L546.2 557.7L550.0 558.5L554.6 559.2L558.5 560.8L560.8 562.3M560.8 562.3L560.0 566.2L560.8 570.8L559.2 574.6L560.8 578.5L561.5 583.1L562.3 587.7L563.8 590.8L565.4 593.8M565.4 593.8L561.5 593.1L557.7 592.3L553.8 591.5L550.8 592.3L548.5 593.8M548.5 593.8L546.2 590.8L543.8 587.7L540.8 586.2L537.7 586.9L534.6 588.5L531.5 587.7M548.5 593.8L548.9 596.2L547.7 599.2L546.2 603.1L543.8 606.9L542.3 610.8L540.0 613.8L537.7 616.9L536.2 620.0M565.4 593.8L568.5 595.4L571.5 594.6L574.6 595.4L579.2 594.2M579.2 594.2L582.0 597.0L584.0 599.0M579.2 594.2L578.5 591.4L577.2 588.6L576.5 585.2L577.8 581.7L579.2 578.2L580.6 574.8L582.7 571.3L584.8 568.5L587.5 567.8L589.5 565.5M589.5 565.5L589.6 563.0L588.2 559.5L586.5 557.0M573.1 555.4L575.8 556.1L579.9 556.8L584.8 557.5L586.5 557.0M586.5 557.0L590.3 554.0L592.4 551.2L594.5 549.2L594.5 544.2M572.2 521.3L575.4 523.2L578.5 524.5L581.2 525.8L582.7 528.1L584.6 530.8L586.9 532.3L586.2 534.6L586.9 536.9L588.5 539.2L590.8 541.5L593.1 543.1L594.5 544.2M594.5 544.2L597.0 544.9L600.0 545.0L602.8 543.6M589.5 565.5L592.4 569.2L594.5 571.3L597.9 572.0L601.4 572.0M576.9 383.9L578.5 386.2L580.0 389.3L583.1 390.8L585.4 393.2L586.9 396.2L590.0 395.5L593.1 393.9L596.2 393.2L598.5 393.9L600.0 397.0L599.2 401.6L598.9 406.2L599.2 410.8L598.5 415.5L596.2 418.5L593.8 420.8L591.5 423.2L590.3 425.5L592.3 427.8L594.6 430.1M594.6 430.1L597.7 432.4L600.8 434.7L604.6 435.5L608.5 434.7L612.3 435.5L616.2 437.0L620.0 437.8L623.1 439.3L626.2 440.8L628.5 442.4L632.7 440.5L636.7 439.5L640.3 441.0M594.6 430.1L592.3 433.2L590.8 436.2L591.5 440.1L593.1 443.2L593.8 446.2L595.4 448.5L597.7 450.8L600.0 453.2M600.0 453.2L603.8 452.4L607.7 453.2L610.8 455.5L613.1 458.5L614.6 461.6L616.9 463.2L620.0 461.6L623.1 460.8L625.4 460.8M600.0 453.2L596.9 455.5L594.6 457.8L591.5 460.1L588.5 462.4L586.2 464.7L582.5 466.4M582.5 466.4L581.9 470.1L582.6 473.5L583.3 476.3L584.7 478.4L585.4 479.5M554.3 482.4L552.8 477.7L554.2 472.8L557.0 470.8L559.8 469.4L563.2 468.7L566.0 466.6L569.5 465.2L571.5 463.8L574.3 464.5L577.8 465.2L579.8 464.5L582.5 466.4" fill="none" stroke="#787270" stroke-width="0.6" stroke-linejoin="round"/>
<path d="M526.5 619.2L529.0 618.6L531.5 618.2L534.0 619.2L536.2 620.0" fill="none" stroke="#35a8c8" stroke-width="1.1" opacity="1.00" stroke-linejoin="round" stroke-linecap="round"/>
<path d="M536.2 620.0L536.0 622.0L536.4 624.5L537.3 626.8L538.2 628.6L539.0 629.8L540.4 630.0L541.5 628.8L541.8 627.0L541.4 625.0L542.2 622.8L543.3 620.8L544.6 619.2L548.5 618.5L552.3 616.9L556.2 615.7L560.0 613.8L563.8 612.3L567.7 610.8L571.5 609.2L575.4 607.7L578.5 605.4L581.5 603.1L584.0 599.0" fill="none" stroke="#35a8c8" stroke-width="1.3" opacity="1.00" stroke-linejoin="round" stroke-linecap="round"/>
<path d="M587.0 518.4L591.7 520.1L595.2 522.8L597.2 527.0L599.3 530.5L602.1 533.2L604.8 535.3L606.9 536.7L607.6 539.5L605.5 541.5L602.8 543.6" fill="none" stroke="#35a8c8" stroke-width="1.0" opacity="1.00" stroke-linejoin="round" stroke-linecap="round"/>
<path d="M602.8 543.6L600.7 548.5L603.5 549.2L606.9 548.5L608.3 551.2L609.0 555.4L608.3 559.5L606.9 563.7L605.5 567.2L603.5 569.9L601.4 572.0" fill="none" stroke="#35a8c8" stroke-width="1.4" opacity="1.00" stroke-linejoin="round" stroke-linecap="round"/>
<path d="M601.4 572.0L600.0 575.5L598.6 578.9L596.5 582.4L594.5 585.8L591.7 589.3L588.9 592.8L586.2 595.5L584.0 599.0" fill="none" stroke="#35a8c8" stroke-width="1.4" opacity="1.00" stroke-linejoin="round" stroke-linecap="round"/>
<path d="M579.2 496.4L581.9 497.8L584.7 499.2L586.8 500.5L588.8 499.2L590.9 497.8L593.7 496.4L596.5 496.4L599.2 496.4L602.0 496.8L604.1 497.4L604.5 498.7L602.3 500.1L600.6 501.0L597.8 501.9L595.8 504.0L593.7 506.1L591.6 508.8L590.2 511.6L588.8 514.4L587.5 517.2L587.0 518.4" fill="none" stroke="#35a8c8" stroke-width="0.9" opacity="0.85" stroke-linejoin="round" stroke-linecap="round"/>
<path d="M585.4 479.5L583.3 482.5L580.5 485.3L577.8 487.4L575.7 488.8L575.0 490.8L575.7 492.9L577.1 495.0L579.2 496.4" fill="none" stroke="#35a8c8" stroke-width="0.6" opacity="0.60" stroke-linejoin="round" stroke-linecap="round"/>
<path d="M585.4 479.5L588.2 477.7L590.9 475.6L593.0 473.5L595.8 472.8L597.8 474.2L598.1 477.0L597.2 479.8L595.8 482.5L594.8 484.9L597.8 483.2L601.3 481.2L604.8 479.1L608.2 476.3L611.0 474.2L611.5 474.0" fill="none" stroke="#35a8c8" stroke-width="0.8" opacity="0.80" stroke-linejoin="round" stroke-linecap="round"/>
<path d="M350.0 507.0L347.7 503.9L347.3 498.3L343.6 496.4L339.9 492.7L337.5 489.9L336.1 485.3L333.4 482.5L330.8 479.7L334.3 476.9L335.7 473.2L333.8 469.5L330.6 468.6L330.1 464.9L331.0 462.1L334.3 457.9L339.9 456.0L345.0 457.0L347.7 459.7L351.9 457.4L358.4 456.5L365.9 454.2L371.5 452.9L374.1 449.1L377.4 446.4L377.4 439.4L376.3 434.1L381.1 432.8L386.5 433.2L389.8 434.6L391.4 429.8L394.6 423.8L396.8 421.1L400.5 423.8L404.8 425.2L408.6 424.4L409.7 419.0L412.4 415.8L416.1 415.2L418.3 411.5L422.0 412.0L423.7 416.3L427.4 420.6L431.7 424.9L433.9 429.8L433.4 436.2L432.3 441.6L437.0 444.4L443.0 446.0L448.0 447.6L452.0 450.0L453.0 452.5L456.4 457.6L457.6 463.9M457.6 463.9L460.6 465.2L464.3 466.6M350.0 507.0L349.0 512.0L348.0 517.0L345.0 521.0L344.6 526.0L347.0 530.0L351.0 534.0L355.0 538.0L359.0 540.0L363.0 543.0L367.0 547.0L372.0 551.0L376.0 555.0L380.0 559.0L384.0 562.0L389.0 563.6L394.0 566.0L399.0 567.0L402.0 571.0L405.0 567.0L410.0 567.6L415.0 569.0L419.0 572.0L422.0 576.0L427.0 577.0L432.0 576.0L437.0 573.0L442.0 571.0L448.0 570.0L445.0 569.0L451.0 571.0L456.0 570.0L459.0 569.0L459.8 571.3M459.8 571.3L463.1 575.4L462.6 583.1L459.5 589.2L456.2 593.1L456.9 597.7L458.5 600.8L461.5 602.3L463.1 606.2L466.2 610.0L465.4 613.8L469.2 616.6L473.1 619.2L475.4 617.7L477.7 618.5L480.0 621.5L481.8 620.8L482.6 616.2L483.5 613.1L487.7 612.3L491.5 613.1L495.4 611.5L500.0 610.8L504.6 608.5L508.6 607.6M508.6 607.6L511.5 610.8L515.4 613.1L517.7 616.9L522.3 618.5L526.5 619.2M611.5 474.0L613.1 472.4L615.4 470.1L617.7 467.8L620.0 465.5L622.3 463.2L625.4 460.8M625.4 460.8L626.9 458.5L628.5 456.2L630.8 453.9L633.1 452.4L635.4 450.1L637.7 449.3L636.2 447.8L638.5 447.0L640.8 445.0L640.3 441.0M576.9 383.9L580.8 381.6L585.4 380.8L590.0 380.8L593.8 382.4L596.9 384.7L599.2 387.8L601.5 391.6L603.8 394.7L606.2 397.8L609.2 400.1L613.1 401.6L616.9 403.2L620.8 403.9L624.6 405.5L627.7 407.8L630.8 410.1L633.8 410.8L636.2 408.5L639.2 406.2L642.3 403.9L645.4 402.4L647.2 401.6L646.9 405.5L646.2 410.1L645.7 414.7L646.2 419.3L645.7 423.9L644.2 427.0L639.3 430.7L636.9 432.7L638.7 436.7L640.3 441.0M464.3 466.6L470.0 466.9L477.0 467.1L483.0 467.6L487.0 469.0L492.0 471.3L497.0 473.0L502.0 473.5L504.5 475.0L507.7 472.7L510.8 470.4L518.5 468.1L527.7 466.5L534.6 462.7L538.5 458.1L536.9 452.7L540.0 448.1L546.2 448.1L552.3 445.0L558.5 440.4L563.8 435.0L569.2 431.9L575.4 429.6L576.9 428.1L572.3 425.0L566.2 426.5L560.8 428.1L556.2 425.0L557.7 418.8L559.2 415.0L557.7 414.7L560.0 412.4L563.8 411.6L567.7 410.1L570.8 407.0L572.3 402.4L573.1 397.8L573.8 393.2L572.8 389.3L571.5 387.0L573.8 384.7L576.9 383.9" fill="none" stroke="#3d3a5c" stroke-width="0.8" stroke-linejoin="round" stroke-linecap="round"/>
<path d="M602.8 543.6L600.7 548.5L603.5 549.2L606.9 548.5L608.3 551.2L609.0 555.4L608.3 559.5L606.9 563.7L605.5 567.2L603.5 569.9L601.4 572.0M601.4 572.0L600.0 575.5L598.6 578.9L596.5 582.4L594.5 585.8L591.7 589.3L588.9 592.8L586.2 595.5L584.0 599.0" fill="none" stroke="#2fa9cf" stroke-width="2.0" stroke-linejoin="round" stroke-linecap="round" opacity="0.9"/>
<g fill="#2fa9cf" opacity="0.85"><circle cx="538.2" cy="620.5" r="0.38"/><circle cx="537.8" cy="621.9" r="0.37"/><circle cx="537.0" cy="622.0" r="0.54"/><circle cx="538.5" cy="624.3" r="0.78"/><circle cx="538.1" cy="626.4" r="0.74"/><circle cx="538.4" cy="626.6" r="0.49"/><circle cx="540.4" cy="628.1" r="0.52"/><circle cx="538.9" cy="631.0" r="0.66"/><circle cx="539.2" cy="631.8" r="0.55"/><circle cx="542.9" cy="630.5" r="0.46"/><circle cx="542.4" cy="624.8" r="0.54"/><circle cx="542.6" cy="624.2" r="0.65"/><circle cx="544.7" cy="622.4" r="0.61"/><circle cx="547.7" cy="620.7" r="0.80"/><circle cx="550.7" cy="619.9" r="0.36"/><circle cx="549.3" cy="619.1" r="0.70"/><circle cx="553.7" cy="618.1" r="0.74"/><circle cx="554.6" cy="618.2" r="0.75"/><circle cx="558.4" cy="616.3" r="0.75"/><circle cx="557.4" cy="616.5" r="0.46"/><circle cx="560.6" cy="615.4" r="0.52"/><circle cx="572.0" cy="611.6" r="0.74"/><circle cx="569.6" cy="611.1" r="0.64"/><circle cx="568.4" cy="611.8" r="0.42"/><circle cx="572.0" cy="609.9" r="0.42"/><circle cx="573.3" cy="609.5" r="0.74"/><circle cx="573.1" cy="610.2" r="0.51"/><circle cx="579.7" cy="608.0" r="0.56"/><circle cx="576.6" cy="608.6" r="0.47"/><circle cx="580.2" cy="607.5" r="0.59"/><circle cx="580.6" cy="604.8" r="0.59"/><circle cx="583.4" cy="602.2" r="0.70"/><circle cx="584.2" cy="603.4" r="0.79"/><circle cx="588.9" cy="520.7" r="0.36"/><circle cx="591.8" cy="521.9" r="0.66"/><circle cx="596.7" cy="523.3" r="0.44"/><circle cx="603.0" cy="530.4" r="0.70"/><circle cx="602.5" cy="531.6" r="0.71"/><circle cx="604.5" cy="536.4" r="0.76"/><circle cx="610.2" cy="538.3" r="0.65"/><circle cx="609.5" cy="541.4" r="0.64"/><circle cx="605.7" cy="543.2" r="0.46"/><circle cx="604.2" cy="545.7" r="0.41"/><circle cx="604.1" cy="546.2" r="0.61"/><circle cx="605.3" cy="547.1" r="0.58"/><circle cx="602.5" cy="546.5" r="0.55"/><circle cx="605.9" cy="545.0" r="0.43"/><circle cx="602.1" cy="551.5" r="0.50"/><circle cx="601.4" cy="552.1" r="0.40"/><circle cx="601.0" cy="550.3" r="0.70"/><circle cx="606.0" cy="551.9" r="0.76"/><circle cx="606.1" cy="551.1" r="0.58"/><circle cx="605.5" cy="551.3" r="0.57"/><circle cx="606.6" cy="552.2" r="0.77"/><circle cx="611.1" cy="548.3" r="0.73"/><circle cx="609.1" cy="547.8" r="0.38"/><circle cx="609.7" cy="547.3" r="0.70"/><circle cx="611.5" cy="551.4" r="0.65"/><circle cx="612.8" cy="554.3" r="0.45"/><circle cx="610.9" cy="552.5" r="0.80"/><circle cx="610.6" cy="551.5" r="0.58"/><circle cx="610.7" cy="556.5" r="0.67"/><circle cx="610.8" cy="558.0" r="0.36"/><circle cx="611.0" cy="558.4" r="0.38"/><circle cx="612.3" cy="559.3" r="0.40"/><circle cx="611.4" cy="560.7" r="0.47"/><circle cx="611.2" cy="562.5" r="0.72"/><circle cx="611.7" cy="561.3" r="0.61"/><circle cx="609.1" cy="560.2" r="0.66"/><circle cx="610.4" cy="565.4" r="0.64"/><circle cx="610.1" cy="565.3" r="0.38"/><circle cx="608.0" cy="566.0" r="0.60"/><circle cx="607.7" cy="565.1" r="0.59"/><circle cx="606.4" cy="568.2" r="0.37"/><circle cx="606.3" cy="569.1" r="0.69"/><circle cx="605.6" cy="569.4" r="0.51"/><circle cx="605.7" cy="568.4" r="0.68"/><circle cx="604.7" cy="572.0" r="0.77"/><circle cx="603.3" cy="573.2" r="0.57"/><circle cx="604.4" cy="572.5" r="0.66"/><circle cx="603.1" cy="576.0" r="0.64"/><circle cx="601.8" cy="573.6" r="0.41"/><circle cx="601.9" cy="575.2" r="0.42"/><circle cx="602.2" cy="579.7" r="0.65"/><circle cx="601.3" cy="576.9" r="0.56"/><circle cx="600.9" cy="577.6" r="0.78"/><circle cx="601.4" cy="581.8" r="0.49"/><circle cx="600.3" cy="580.0" r="0.56"/><circle cx="600.3" cy="580.9" r="0.35"/><circle cx="600.2" cy="580.3" r="0.37"/><circle cx="597.2" cy="584.2" r="0.61"/><circle cx="597.5" cy="586.5" r="0.67"/><circle cx="597.3" cy="584.7" r="0.79"/><circle cx="597.5" cy="586.4" r="0.37"/><circle cx="594.2" cy="590.7" r="0.68"/><circle cx="596.0" cy="587.9" r="0.58"/><circle cx="594.9" cy="590.8" r="0.61"/><circle cx="594.9" cy="590.1" r="0.45"/><circle cx="595.6" cy="587.5" r="0.40"/><circle cx="592.3" cy="593.0" r="0.63"/><circle cx="591.0" cy="591.5" r="0.71"/><circle cx="592.3" cy="592.6" r="0.65"/><circle cx="590.9" cy="592.9" r="0.38"/><circle cx="590.8" cy="592.7" r="0.68"/><circle cx="589.5" cy="595.5" r="0.66"/><circle cx="589.2" cy="596.5" r="0.38"/><circle cx="590.5" cy="595.7" r="0.49"/><circle cx="587.0" cy="596.1" r="0.47"/><circle cx="587.2" cy="599.5" r="0.48"/><circle cx="587.1" cy="598.4" r="0.40"/><circle cx="589.1" cy="598.3" r="0.77"/></g>
<path d="M529.2 636.6L530.8 634.3L533.5 632.0L536.5 630.8L539.6 630.5L542.3 630.8L544.2 630.1L545.4 632.0L544.6 634.3L543.1 636.6L541.9 639.3L540.4 641.6L538.1 642.8L535.8 643.9L533.1 643.2L530.4 642.0L529.2 639.7Z" fill="#FADFCC" stroke="#5b9db5" stroke-width="0.8"/>
<path d="M612.9 584.6L614.7 586.0L615.6 587.9L614.7 590.6L614.0 594.4L613.6 598.1L613.3 601.3L612.4 604.1L611.0 606.4L609.6 608.7L610.1 611.1L608.7 609.2L606.8 606.9L605.0 604.1L604.0 601.3L604.5 598.1L605.9 594.4L607.7 590.2L609.6 586.9L611.5 585.1Z" fill="#fff" stroke="#2f7f98" stroke-width="0.8"/>
<path d="M622.0 589.2L622.0 596.2" stroke="#5a587e" stroke-width="1.7" opacity="0.85"/>
<path d="M615.6 616.6L619.4 611.5" stroke="#5a587e" stroke-width="1.7" opacity="0.85"/>
<path d="M605.4 639.0L608.0 633.6" stroke="#5a587e" stroke-width="1.7" opacity="0.85"/>
<path d="M604.0 656.4L604.0 662.4" stroke="#5a587e" stroke-width="1.7" opacity="0.85"/>
<path d="M603.4 691.0L606.0 685.4" stroke="#5a587e" stroke-width="1.7" opacity="0.85"/>
<path d="M583.4 721.0L589.0 716.0" stroke="#5a587e" stroke-width="1.7" opacity="0.85"/>
<path d="M558.0 749.6L564.0 747.6" stroke="#5a587e" stroke-width="1.7" opacity="0.85"/>
<path d="M528.0 724.0L528.0 730.0" stroke="#5a587e" stroke-width="1.7" opacity="0.85"/>
<path d="M541.6 687.0L541.6 693.0" stroke="#5a587e" stroke-width="1.7" opacity="0.85"/>
<path d="M535.4 660.6L538.0 665.6" stroke="#5a587e" stroke-width="1.7" opacity="0.85"/>
<g fill="#9a86b8" opacity="0.7"><circle cx="579.0" cy="621.0" r="0.55"/><circle cx="585.0" cy="623.0" r="0.55"/><circle cx="550.0" cy="652.4" r="0.55"/><circle cx="552.4" cy="656.0" r="0.55"/><circle cx="555.6" cy="653.0" r="0.55"/><circle cx="551.0" cy="659.0" r="0.55"/><circle cx="558.0" cy="654.4" r="0.55"/><circle cx="548.4" cy="660.0" r="0.55"/><circle cx="567.0" cy="660.0" r="0.55"/><circle cx="570.0" cy="658.0" r="0.55"/><circle cx="573.0" cy="659.6" r="0.55"/><circle cx="572.0" cy="657.0" r="0.55"/><circle cx="594.0" cy="662.0" r="0.55"/><circle cx="595.6" cy="661.0" r="0.55"/><circle cx="571.0" cy="692.0" r="0.55"/><circle cx="574.0" cy="694.0" r="0.55"/><circle cx="572.0" cy="698.0" r="0.55"/><circle cx="576.0" cy="696.0" r="0.55"/><circle cx="579.0" cy="699.0" r="0.55"/><circle cx="573.0" cy="702.0" r="0.55"/><circle cx="582.0" cy="696.0" r="0.55"/><circle cx="587.0" cy="690.0" r="0.55"/><circle cx="589.0" cy="687.0" r="0.55"/><circle cx="585.0" cy="688.0" r="0.55"/><circle cx="590.0" cy="693.0" r="0.55"/><circle cx="592.0" cy="703.0" r="0.55"/><circle cx="595.0" cy="692.0" r="0.55"/><circle cx="596.0" cy="694.0" r="0.55"/><circle cx="563.0" cy="704.0" r="0.55"/><circle cx="558.0" cy="709.0" r="0.55"/><circle cx="555.0" cy="711.0" r="0.55"/><circle cx="561.0" cy="710.0" r="0.55"/><circle cx="568.0" cy="709.0" r="0.55"/><circle cx="571.0" cy="712.0" r="0.55"/><circle cx="574.0" cy="715.0" r="0.55"/><circle cx="579.0" cy="713.0" r="0.55"/><circle cx="587.0" cy="709.0" r="0.55"/><circle cx="589.0" cy="705.0" r="0.55"/><circle cx="570.0" cy="720.0" r="0.55"/><circle cx="567.0" cy="724.0" r="0.55"/><circle cx="564.0" cy="727.0" r="0.55"/><circle cx="546.0" cy="716.0" r="0.55"/><circle cx="542.0" cy="717.0" r="0.55"/><circle cx="540.0" cy="720.0" r="0.55"/><circle cx="553.0" cy="720.0" r="0.55"/><circle cx="562.0" cy="733.0" r="0.55"/><circle cx="561.0" cy="738.0" r="0.55"/><circle cx="560.0" cy="744.0" r="0.55"/></g>
</g>
<g transform="translate(0.0,0.0)">
<path d="M350.0 507.0L347.7 503.9L347.3 498.3L343.6 496.4L339.9 492.7L337.5 489.9L336.1 485.3L333.4 482.5L330.8 479.7L334.3 476.9L335.7 473.2L333.8 469.5L330.6 468.6L330.1 464.9L331.0 462.1L334.3 457.9L339.9 456.0L345.0 457.0L347.7 459.7L351.9 457.4L358.4 456.5L365.9 454.2L371.5 452.9L374.1 449.1L377.4 446.4L377.4 439.4L376.3 434.1L381.1 432.8L386.5 433.2L389.8 434.6L391.4 429.8L394.6 423.8L396.8 421.1L400.5 423.8L404.8 425.2L408.6 424.4L409.7 419.0L412.4 415.8L416.1 415.2L418.3 411.5L422.0 412.0L423.7 416.3L427.4 420.6L431.7 424.9L433.9 429.8L433.4 436.2L432.3 441.6L437.0 444.4L443.0 446.0L448.0 447.6L452.0 450.0L453.0 452.5L456.4 457.6L457.6 463.9M457.6 463.9L460.6 465.2L464.3 466.6M350.0 507.0L349.0 512.0L348.0 517.0L345.0 521.0L344.6 526.0L347.0 530.0L351.0 534.0L355.0 538.0L359.0 540.0L363.0 543.0L367.0 547.0L372.0 551.0L376.0 555.0L380.0 559.0L384.0 562.0L389.0 563.6L394.0 566.0L399.0 567.0L402.0 571.0L405.0 567.0L410.0 567.6L415.0 569.0L419.0 572.0L422.0 576.0L427.0 577.0L432.0 576.0L437.0 573.0L442.0 571.0L448.0 570.0L445.0 569.0L451.0 571.0L456.0 570.0L459.0 569.0L459.8 571.3M459.8 571.3L463.1 575.4L462.6 583.1L459.5 589.2L456.2 593.1L456.9 597.7L458.5 600.8L461.5 602.3L463.1 606.2L466.2 610.0L465.4 613.8L469.2 616.6L473.1 619.2L475.4 617.7L477.7 618.5L480.0 621.5L481.8 620.8L482.6 616.2L483.5 613.1L487.7 612.3L491.5 613.1L495.4 611.5L500.0 610.8L504.6 608.5L508.6 607.6M508.6 607.6L511.5 610.8L515.4 613.1L517.7 616.9L522.3 618.5L526.5 619.2M611.5 474.0L613.1 472.4L615.4 470.1L617.7 467.8L620.0 465.5L622.3 463.2L625.4 460.8M625.4 460.8L626.9 458.5L628.5 456.2L630.8 453.9L633.1 452.4L635.4 450.1L637.7 449.3L636.2 447.8L638.5 447.0L640.8 445.0L640.3 441.0M576.9 383.9L580.8 381.6L585.4 380.8L590.0 380.8L593.8 382.4L596.9 384.7L599.2 387.8L601.5 391.6L603.8 394.7L606.2 397.8L609.2 400.1L613.1 401.6L616.9 403.2L620.8 403.9L624.6 405.5L627.7 407.8L630.8 410.1L633.8 410.8L636.2 408.5L639.2 406.2L642.3 403.9L645.4 402.4L647.2 401.6L646.9 405.5L646.2 410.1L645.7 414.7L646.2 419.3L645.7 423.9L644.2 427.0L639.3 430.7L636.9 432.7L638.7 436.7L640.3 441.0M464.3 466.6L470.0 466.9L477.0 467.1L483.0 467.6L487.0 469.0L492.0 471.3L497.0 473.0L502.0 473.5L504.5 475.0L507.7 472.7L510.8 470.4L518.5 468.1L527.7 466.5L534.6 462.7L538.5 458.1L536.9 452.7L540.0 448.1L546.2 448.1L552.3 445.0L558.5 440.4L563.8 435.0L569.2 431.9L575.4 429.6L576.9 428.1L572.3 425.0L566.2 426.5L560.8 428.1L556.2 425.0L557.7 418.8L559.2 415.0L557.7 414.7L560.0 412.4L563.8 411.6L567.7 410.1L570.8 407.0L572.3 402.4L573.1 397.8L573.8 393.2L572.8 389.3L571.5 387.0L573.8 384.7L576.9 383.9" fill="none" stroke="#bfbde8" stroke-width="4.6" stroke-linejoin="round" stroke-linecap="round" opacity="0.88" filter="url(#bl)"/>
<path d="M526.5 619.2L529.0 618.6L531.5 618.2L534.0 619.2L536.2 620.0M536.2 620.0L536.0 622.0L536.4 624.5L537.3 626.8L538.2 628.6L539.0 629.8L540.4 630.0L541.5 628.8L541.8 627.0L541.4 625.0L542.2 622.8L543.3 620.8L544.6 619.2L548.5 618.5L552.3 616.9L556.2 615.7L560.0 613.8L563.8 612.3L567.7 610.8L571.5 609.2L575.4 607.7L578.5 605.4L581.5 603.1L584.0 599.0M587.0 518.4L591.7 520.1L595.2 522.8L597.2 527.0L599.3 530.5L602.1 533.2L604.8 535.3L606.9 536.7L607.6 539.5L605.5 541.5L602.8 543.6M602.8 543.6L600.7 548.5L603.5 549.2L606.9 548.5L608.3 551.2L609.0 555.4L608.3 559.5L606.9 563.7L605.5 567.2L603.5 569.9L601.4 572.0M601.4 572.0L600.0 575.5L598.6 578.9L596.5 582.4L594.5 585.8L591.7 589.3L588.9 592.8L586.2 595.5L584.0 599.0M579.2 496.4L581.9 497.8L584.7 499.2L586.8 500.5L588.8 499.2L590.9 497.8L593.7 496.4L596.5 496.4L599.2 496.4L602.0 496.8L604.1 497.4L604.5 498.7L602.3 500.1L600.6 501.0L597.8 501.9L595.8 504.0L593.7 506.1L591.6 508.8L590.2 511.6L588.8 514.4L587.5 517.2L587.0 518.4M585.4 479.5L583.3 482.5L580.5 485.3L577.8 487.4L575.7 488.8L575.0 490.8L575.7 492.9L577.1 495.0L579.2 496.4M585.4 479.5L588.2 477.7L590.9 475.6L593.0 473.5L595.8 472.8L597.8 474.2L598.1 477.0L597.2 479.8L595.8 482.5L594.8 484.9L597.8 483.2L601.3 481.2L604.8 479.1L608.2 476.3L611.0 474.2L611.5 474.0" fill="none" stroke="#bfeaf5" stroke-width="3" stroke-linejoin="round" stroke-linecap="round" opacity="0.7" filter="url(#bl)"/>
<path d="M350.0 507.0L347.7 503.9L347.3 498.3L343.6 496.4L339.9 492.7L337.5 489.9L336.1 485.3L333.4 482.5L330.8 479.7L334.3 476.9L335.7 473.2L333.8 469.5L330.6 468.6L330.1 464.9L331.0 462.1L334.3 457.9L339.9 456.0L345.0 457.0L347.7 459.7L351.9 457.4L358.4 456.5L365.9 454.2L371.5 452.9L374.1 449.1L377.4 446.4L377.4 439.4L376.3 434.1L381.1 432.8L386.5 433.2L389.8 434.6L391.4 429.8L394.6 423.8L396.8 421.1L400.5 423.8L404.8 425.2L408.6 424.4L409.7 419.0L412.4 415.8L416.1 415.2L418.3 411.5L422.0 412.0L423.7 416.3L427.4 420.6L431.7 424.9L433.9 429.8L433.4 436.2L432.3 441.6L437.0 444.4L443.0 446.0L448.0 447.6L452.0 450.0L453.0 452.5L456.4 457.6L457.6 463.9L456.4 466.9L454.7 471.2L452.2 475.4L448.8 478.8L443.7 479.6L439.5 480.8L436.9 483.8L435.6 487.2L436.0 489.0L430.2 490.6L425.1 491.1L422.0 492.3L421.4 496.5L422.5 500.8L423.7 504.2L423.0 508.0L419.0 509.0L415.0 508.0L410.0 506.0L405.0 505.6L400.0 506.0L395.0 505.0L390.0 505.6L385.0 507.0L380.0 506.0L375.0 505.0L370.0 505.6L365.0 504.0L360.0 503.0L355.0 504.0Z" fill="#E9B39C" stroke="#E9B39C" stroke-width="0.4"/>
<path d="M350.0 507.0L355.0 504.0L360.0 503.0L365.0 504.0L370.0 505.6L375.0 505.0L380.0 506.0L385.0 507.0L390.0 505.6L395.0 505.0L400.0 506.0L405.0 505.6L410.0 506.0L415.0 508.0L419.0 509.0L423.0 508.0L418.0 511.0L414.6 516.0L414.0 522.0L416.0 528.0L420.0 530.4L425.1 532.9L430.2 535.5L436.1 537.2L441.2 538.0L445.4 539.7L449.6 543.1L453.8 542.2L458.1 539.7L458.9 537.9L461.9 539.6L465.0 543.5L466.5 549.6L467.3 557.3L468.1 563.5L467.3 566.5L459.8 571.3L459.0 569.0L456.0 570.0L451.0 571.0L445.0 569.0L448.0 570.0L442.0 571.0L437.0 573.0L432.0 576.0L427.0 577.0L422.0 576.0L419.0 572.0L415.0 569.0L410.0 567.6L405.0 567.0L402.0 571.0L399.0 567.0L394.0 566.0L389.0 563.6L384.0 562.0L380.0 559.0L376.0 555.0L372.0 551.0L367.0 547.0L363.0 543.0L359.0 540.0L355.0 538.0L351.0 534.0L347.0 530.0L344.6 526.0L345.0 521.0L348.0 517.0L349.0 512.0Z" fill="#FADFCC" stroke="#FADFCC" stroke-width="0.4"/>
<path d="M423.0 508.0L423.7 504.2L422.5 500.8L421.4 496.5L422.0 492.3L425.1 491.1L430.2 490.6L436.0 489.0L441.2 491.5L444.5 494.8L449.6 496.5L453.8 497.4L458.1 494.0L461.5 492.3L465.7 492.3L469.9 493.2L474.2 496.5L478.4 499.1L482.6 501.6L486.8 505.0L490.2 508.4L491.9 513.5L490.2 517.7L487.7 521.1L486.0 525.3L485.2 528.7L483.5 527.0L480.9 527.0L479.2 528.7L481.8 531.2L484.3 532.1L485.2 535.1L481.8 535.5L480.1 538.0L476.7 538.8L473.3 538.0L469.9 537.2L466.5 534.6L464.8 531.2L463.2 527.8L459.8 528.7L458.6 532.9L458.9 537.9L458.1 539.7L453.8 542.2L449.6 543.1L445.4 539.7L441.2 538.0L436.1 537.2L430.2 535.5L425.1 532.9L420.0 530.4L416.0 528.0L414.0 522.0L414.6 516.0L418.0 511.0Z" fill="#ffffff" stroke="#ffffff" stroke-width="0.4"/>
<path d="M436.0 489.0L435.6 487.2L436.9 483.8L439.5 480.8L443.7 479.6L448.8 478.8L452.2 475.4L454.7 471.2L456.4 466.9L457.6 463.9L460.6 465.2L464.3 466.6L465.4 470.3L466.5 475.4L469.1 479.6L473.3 480.5L476.7 481.3L477.5 484.7L480.1 488.1L483.5 490.6L486.0 493.2L487.7 494.3L491.1 493.2L494.5 491.5L497.8 492.3L498.7 495.7L497.0 499.1L496.2 502.5L499.5 504.2L503.0 505.5L504.7 508.2L505.9 511.8L507.2 515.5L509.0 518.0L511.5 519.2L513.6 521.7L512.2 522.8L511.4 527.8L513.1 532.9L510.5 537.2L508.3 539.4L505.5 538.0L502.9 536.3L499.5 534.6L497.0 531.2L493.6 528.7L490.2 529.5L487.7 532.9L485.2 535.1L484.3 532.1L481.8 531.2L479.2 528.7L480.9 527.0L483.5 527.0L485.2 528.7L486.0 525.3L487.7 521.1L490.2 517.7L491.9 513.5L490.2 508.4L486.8 505.0L482.6 501.6L478.4 499.1L474.2 496.5L469.9 493.2L465.7 492.3L461.5 492.3L458.1 494.0L453.8 497.4L449.6 496.5L444.5 494.8L441.2 491.5Z" fill="#ffffff" stroke="#ffffff" stroke-width="0.4"/>
<path d="M517.6 506.9L514.5 507.5L513.3 509.4L513.6 513.1L514.5 516.8L513.6 521.7L515.8 522.9L518.8 522.9L521.3 520.5L525.0 519.8L525.6 516.2L524.4 512.5L520.7 509.4Z" fill="#ffffff" stroke="#ffffff" stroke-width="0.4"/>
<path d="M464.3 466.6L465.4 470.3L466.5 475.4L469.1 479.6L473.3 480.5L476.7 481.3L477.5 484.7L480.1 488.1L483.5 490.6L486.0 493.2L487.7 494.3L491.1 493.2L494.5 491.5L497.8 492.3L498.7 495.7L497.0 499.1L496.2 502.5L499.5 504.2L503.0 505.5L506.5 505.1L509.0 503.2L510.2 499.5L511.5 495.2L512.7 492.8L513.9 492.8L515.2 496.5L514.5 500.8L516.4 503.8L517.6 506.9L520.3 501.6L525.4 499.1L530.5 496.5L534.7 493.7L538.1 490.6L539.3 489.3L543.2 486.4L545.7 483.8L550.8 483.0L554.3 482.4L552.8 477.7L554.2 472.8L557.0 470.8L559.8 469.4L563.2 468.7L566.0 466.6L569.5 465.2L571.5 463.8L574.3 464.5L577.8 465.2L579.8 464.5L582.5 466.4L586.2 464.7L588.5 462.4L591.5 460.1L594.6 457.8L596.9 455.5L600.0 453.2L597.7 450.8L595.4 448.5L593.8 446.2L593.1 443.2L591.5 440.1L590.8 436.2L592.3 433.2L594.6 430.1L592.3 427.8L590.3 425.5L591.5 423.2L593.8 420.8L596.2 418.5L598.5 415.5L599.2 410.8L598.9 406.2L599.2 401.6L600.0 397.0L598.5 393.9L596.2 393.2L593.1 393.9L590.0 395.5L586.9 396.2L585.4 393.2L583.1 390.8L580.0 389.3L578.5 386.2L576.9 383.9L573.8 384.7L571.5 387.0L572.8 389.3L573.8 393.2L573.1 397.8L572.3 402.4L570.8 407.0L567.7 410.1L563.8 411.6L560.0 412.4L557.7 414.7L559.2 415.0L557.7 418.8L556.2 425.0L560.8 428.1L566.2 426.5L572.3 425.0L576.9 428.1L575.4 429.6L569.2 431.9L563.8 435.0L558.5 440.4L552.3 445.0L546.2 448.1L540.0 448.1L536.9 452.7L538.5 458.1L534.6 462.7L527.7 466.5L518.5 468.1L510.8 470.4L507.7 472.7L504.5 475.0L502.0 473.5L497.0 473.0L492.0 471.3L487.0 469.0L483.0 467.6L477.0 467.1L470.0 466.9Z" fill="#E9B39C" stroke="#E9B39C" stroke-width="0.4"/>
<path d="M503.0 505.5L504.7 508.2L505.9 511.8L507.2 515.5L509.0 518.0L511.5 519.2L513.6 521.7L514.5 516.8L513.6 513.1L513.3 509.4L514.5 507.5L517.6 506.9L516.4 503.8L514.5 500.8L515.2 496.5L513.9 492.8L512.7 492.8L511.5 495.2L510.2 499.5L509.0 503.2L506.5 505.1Z" fill="#FADFCC" stroke="#FADFCC" stroke-width="0.4"/>
<path d="M517.6 506.9L520.7 509.4L524.4 512.5L525.6 516.2L525.0 519.8L521.3 520.5L518.8 522.9L515.8 522.9L513.6 521.7L512.2 522.8L511.4 527.8L513.1 532.9L510.5 537.2L508.3 539.4L508.8 539.6L513.5 540.1L518.1 540.7L521.9 541.9L524.5 545.5L530.0 546.9L534.2 546.5L533.1 542.3L532.3 538.5L534.5 536.0L540.6 534.6L539.8 532.1L538.1 528.7L536.4 524.5L535.9 517.7L536.4 510.9L535.2 504.2L536.4 497.4L537.2 491.5L538.1 490.6L534.7 493.7L530.5 496.5L525.4 499.1L520.3 501.6Z" fill="#FADFCC" stroke="#FADFCC" stroke-width="0.4"/>
<path d="M536.4 524.5L535.9 517.7L536.4 510.9L535.2 504.2L536.4 497.4L537.2 491.5L538.1 490.6L539.3 489.3L543.2 486.4L545.7 483.8L550.8 483.0L554.3 482.4L555.6 486.0L556.3 489.5L554.2 492.2L552.8 495.7L554.2 499.2L555.6 502.6L554.9 506.8L556.3 510.5L552.5 515.2L549.1 517.7L544.0 521.1L539.8 523.6Z" fill="#FADFCC" stroke="#FADFCC" stroke-width="0.4"/>
<path d="M554.3 482.4L555.6 486.0L556.3 489.5L554.2 492.2L552.8 495.7L554.2 499.2L555.6 502.6L554.9 506.8L556.3 510.5L559.8 513.7L562.5 515.1L564.6 515.8L563.9 513.0L564.6 509.5L566.0 506.1L568.1 503.3L570.8 500.5L573.6 498.5L576.4 497.1L579.2 496.4L577.1 495.0L575.7 492.9L575.0 490.8L575.7 488.8L577.8 487.4L580.5 485.3L583.3 482.5L585.4 479.5L584.7 478.4L583.3 476.3L582.6 473.5L581.9 470.1L582.5 466.4L579.8 464.5L577.8 465.2L574.3 464.5L571.5 463.8L569.5 465.2L566.0 466.6L563.2 468.7L559.8 469.4L557.0 470.8L554.2 472.8L552.8 477.7Z" fill="#E9B39C" stroke="#E9B39C" stroke-width="0.4"/>
<path d="M585.4 479.5L588.2 477.7L590.9 475.6L593.0 473.5L595.8 472.8L597.8 474.2L598.1 477.0L597.2 479.8L595.8 482.5L594.8 484.9L597.8 483.2L601.3 481.2L604.8 479.1L608.2 476.3L611.0 474.2L611.5 474.0L613.1 472.4L615.4 470.1L617.7 467.8L620.0 465.5L622.3 463.2L625.4 460.8L623.1 460.8L620.0 461.6L616.9 463.2L614.6 461.6L613.1 458.5L610.8 455.5L607.7 453.2L603.8 452.4L600.0 453.2L596.9 455.5L594.6 457.8L591.5 460.1L588.5 462.4L586.2 464.7L582.5 466.4L581.9 470.1L582.6 473.5L583.3 476.3L584.7 478.4Z" fill="#DA907A" stroke="#DA907A" stroke-width="0.4"/>
<path d="M625.4 460.8L626.9 458.5L628.5 456.2L630.8 453.9L633.1 452.4L635.4 450.1L637.7 449.3L636.2 447.8L638.5 447.0L640.8 445.0L640.3 441.0L636.7 439.5L632.7 440.5L628.5 442.4L626.2 440.8L623.1 439.3L620.0 437.8L616.2 437.0L612.3 435.5L608.5 434.7L604.6 435.5L600.8 434.7L597.7 432.4L594.6 430.1L592.3 433.2L590.8 436.2L591.5 440.1L593.1 443.2L593.8 446.2L595.4 448.5L597.7 450.8L600.0 453.2L603.8 452.4L607.7 453.2L610.8 455.5L613.1 458.5L614.6 461.6L616.9 463.2L620.0 461.6L623.1 460.8Z" fill="#C56D54" stroke="#C56D54" stroke-width="0.4"/>
<path d="M576.9 383.9L580.8 381.6L585.4 380.8L590.0 380.8L593.8 382.4L596.9 384.7L599.2 387.8L601.5 391.6L603.8 394.7L606.2 397.8L609.2 400.1L613.1 401.6L616.9 403.2L620.8 403.9L624.6 405.5L627.7 407.8L630.8 410.1L633.8 410.8L636.2 408.5L639.2 406.2L642.3 403.9L645.4 402.4L647.2 401.6L646.9 405.5L646.2 410.1L645.7 414.7L646.2 419.3L645.7 423.9L644.2 427.0L639.3 430.7L636.9 432.7L638.7 436.7L640.3 441.0L636.7 439.5L632.7 440.5L628.5 442.4L626.2 440.8L623.1 439.3L620.0 437.8L616.2 437.0L612.3 435.5L608.5 434.7L604.6 435.5L600.8 434.7L597.7 432.4L594.6 430.1L592.3 427.8L590.3 425.5L591.5 423.2L593.8 420.8L596.2 418.5L598.5 415.5L599.2 410.8L598.9 406.2L599.2 401.6L600.0 397.0L598.5 393.9L596.2 393.2L593.1 393.9L590.0 395.5L586.9 396.2L585.4 393.2L583.1 390.8L580.0 389.3L578.5 386.2Z" fill="#AA462C" stroke="#AA462C" stroke-width="0.4"/>
<path d="M564.6 515.8L563.9 513.0L564.6 509.5L566.0 506.1L568.1 503.3L570.8 500.5L573.6 498.5L576.4 497.1L579.2 496.4L581.9 497.8L584.7 499.2L586.8 500.5L588.8 499.2L590.9 497.8L593.7 496.4L596.5 496.4L599.2 496.4L602.0 496.8L604.1 497.4L604.5 498.7L602.3 500.1L600.6 501.0L597.8 501.9L595.8 504.0L593.7 506.1L591.6 508.8L590.2 511.6L588.8 514.4L587.5 517.2L587.0 518.4L583.8 520.2L581.5 521.4L578.5 521.8L575.4 520.9L572.2 521.3L570.2 523.4L567.4 520.6L565.3 518.5Z" fill="#DA907A" stroke="#DA907A" stroke-width="0.4"/>
<path d="M534.5 536.0L540.6 534.6L539.8 532.1L538.1 528.7L536.4 524.5L539.8 523.6L544.0 521.1L549.1 517.7L552.5 515.2L556.3 510.5L559.8 513.7L562.5 515.1L564.6 515.8L565.3 518.5L567.4 520.6L570.2 523.4L568.5 529.5L566.8 532.9L566.0 536.3L566.8 540.5L569.4 543.1L567.5 546.0L561.5 543.1L557.7 540.0L553.1 539.2L548.5 540.8L543.8 539.2L539.2 536.9L536.2 534.6Z" fill="#E9B39C" stroke="#E9B39C" stroke-width="0.4"/>
<path d="M572.2 521.3L575.4 520.9L578.5 521.8L581.5 521.4L583.8 520.2L587.0 518.4L591.7 520.1L595.2 522.8L597.2 527.0L599.3 530.5L602.1 533.2L604.8 535.3L606.9 536.7L607.6 539.5L605.5 541.5L602.8 543.6L600.0 545.0L597.0 544.9L594.5 544.2L593.1 543.1L590.8 541.5L588.5 539.2L586.9 536.9L586.2 534.6L586.9 532.3L584.6 530.8L582.7 528.1L581.2 525.8L578.5 524.5L575.4 523.2Z" fill="#AA462C" stroke="#AA462C" stroke-width="0.4"/>
<path d="M570.2 523.4L572.2 521.3L575.4 523.2L578.5 524.5L581.2 525.8L582.7 528.1L584.6 530.8L586.9 532.3L586.2 534.6L586.9 536.9L588.5 539.2L590.8 541.5L593.1 543.1L594.5 544.2L594.5 549.2L592.4 551.2L590.3 554.0L586.5 557.0L584.8 557.5L579.9 556.8L575.8 556.1L573.1 555.4L572.3 551.5L570.0 547.7L567.5 546.0L569.4 543.1L566.8 540.5L566.0 536.3L566.8 532.9L568.5 529.5Z" fill="#DA907A" stroke="#DA907A" stroke-width="0.4"/>
<path d="M589.5 565.5L589.6 563.0L588.2 559.5L586.5 557.0L590.3 554.0L592.4 551.2L594.5 549.2L594.5 544.2L597.0 544.9L600.0 545.0L602.8 543.6L600.7 548.5L603.5 549.2L606.9 548.5L608.3 551.2L609.0 555.4L608.3 559.5L606.9 563.7L605.5 567.2L603.5 569.9L601.4 572.0L597.9 572.0L594.5 571.3L592.4 569.2Z" fill="#FADFCC" stroke="#FADFCC" stroke-width="0.4"/>
<path d="M579.2 594.2L582.0 597.0L584.0 599.0L586.2 595.5L588.9 592.8L591.7 589.3L594.5 585.8L596.5 582.4L598.6 578.9L600.0 575.5L601.4 572.0L597.9 572.0L594.5 571.3L592.4 569.2L589.5 565.5L587.5 567.8L584.8 568.5L582.7 571.3L580.6 574.8L579.2 578.2L577.8 581.7L576.5 585.2L577.2 588.6L578.5 591.4Z" fill="#FADFCC" stroke="#FADFCC" stroke-width="0.4"/>
<path d="M573.1 555.4L570.8 557.7L566.9 558.5L563.1 560.8L560.8 562.3L560.0 566.2L560.8 570.8L559.2 574.6L560.8 578.5L561.5 583.1L562.3 587.7L563.8 590.8L565.4 593.8L568.5 595.4L571.5 594.6L574.6 595.4L579.2 594.2L578.5 591.4L577.2 588.6L576.5 585.2L577.8 581.7L579.2 578.2L580.6 574.8L582.7 571.3L584.8 568.5L587.5 567.8L589.5 565.5L589.6 563.0L588.2 559.5L586.5 557.0L584.8 557.5L579.9 556.8L575.8 556.1Z" fill="#DA907A" stroke="#DA907A" stroke-width="0.4"/>
<path d="M534.2 546.5L536.2 550.0L533.8 553.1L530.0 554.6L526.9 556.9L527.7 560.3L530.0 561.8L532.3 560.0L535.4 558.5L538.5 556.2L542.3 556.9L546.2 557.7L550.0 558.5L554.6 559.2L558.5 560.8L560.8 562.3L563.1 560.8L566.9 558.5L570.8 557.7L573.1 555.4L572.3 551.5L570.0 547.7L567.5 546.0L561.5 543.1L557.7 540.0L553.1 539.2L548.5 540.8L543.8 539.2L539.2 536.9L536.2 534.6L534.5 536.0L532.3 538.5L533.1 542.3Z" fill="#AA462C" stroke="#AA462C" stroke-width="0.4"/>
<path d="M528.5 570.0L530.8 573.1L531.5 576.9L532.3 580.8L533.1 584.6L531.5 587.7L534.6 588.5L537.7 586.9L540.8 586.2L543.8 587.7L546.2 590.8L548.5 593.8L550.8 592.3L553.8 591.5L557.7 592.3L561.5 593.1L565.4 593.8L563.8 590.8L562.3 587.7L561.5 583.1L560.8 578.5L559.2 574.6L560.8 570.8L560.0 566.2L560.8 562.3L558.5 560.8L554.6 559.2L550.0 558.5L546.2 557.7L542.3 556.9L538.5 556.2L535.4 558.5L532.3 560.0L530.0 561.8L530.8 564.6L530.0 567.7Z" fill="#DA907A" stroke="#DA907A" stroke-width="0.4"/>
<path d="M565.4 593.8L561.5 593.1L557.7 592.3L553.8 591.5L550.8 592.3L548.5 593.8L548.9 596.2L547.7 599.2L546.2 603.1L543.8 606.9L542.3 610.8L540.0 613.8L537.7 616.9L536.2 620.0L536.0 622.0L536.4 624.5L537.3 626.8L538.2 628.6L539.0 629.8L540.4 630.0L541.5 628.8L541.8 627.0L541.4 625.0L542.2 622.8L543.3 620.8L544.6 619.2L548.5 618.5L552.3 616.9L556.2 615.7L560.0 613.8L563.8 612.3L567.7 610.8L571.5 609.2L575.4 607.7L578.5 605.4L581.5 603.1L584.0 599.0L582.0 597.0L579.2 594.2L574.6 595.4L571.5 594.6L568.5 595.4Z" fill="#DA907A" stroke="#DA907A" stroke-width="0.4"/>
<path d="M508.6 607.6L511.5 610.8L515.4 613.1L517.7 616.9L522.3 618.5L526.5 619.2L529.0 618.6L531.5 618.2L534.0 619.2L536.2 620.0L537.7 616.9L540.0 613.8L542.3 610.8L543.8 606.9L546.2 603.1L547.7 599.2L548.9 596.2L548.5 593.8L546.2 590.8L543.8 587.7L540.8 586.2L537.7 586.9L534.6 588.5L531.5 587.7L528.5 589.2L524.6 590.8L520.8 592.3L516.9 593.1L513.1 593.8L509.2 595.4L506.2 596.9L503.1 596.2L505.0 600.0L507.4 604.0Z" fill="#E9B39C" stroke="#E9B39C" stroke-width="0.4"/>
<path d="M510.0 568.6L507.3 572.7L503.5 573.5L501.2 571.2L498.8 569.6L497.3 570.4L496.5 573.5L495.8 577.3L496.5 580.4L498.8 581.9L501.2 583.5L502.7 588.1L501.9 592.7L503.1 596.2L506.2 596.9L509.2 595.4L513.1 593.8L516.9 593.1L520.8 592.3L524.6 590.8L528.5 589.2L531.5 587.7L533.1 584.6L532.3 580.8L531.5 576.9L530.8 573.1L528.5 570.0L525.4 568.5L522.3 566.2L519.2 566.9L516.2 568.5L513.8 567.7L511.5 569.2Z" fill="#C56D54" stroke="#C56D54" stroke-width="0.4"/>
<path d="M467.3 566.5L459.8 571.3L463.1 575.4L462.6 583.1L459.5 589.2L456.2 593.1L456.9 597.7L458.5 600.8L461.5 602.3L463.1 606.2L466.2 610.0L465.4 613.8L469.2 616.6L473.1 619.2L475.4 617.7L477.7 618.5L480.0 621.5L481.8 620.8L482.6 616.2L483.5 613.1L487.7 612.3L491.5 613.1L495.4 611.5L500.0 610.8L504.6 608.5L508.6 607.6L507.4 604.0L505.0 600.0L503.1 596.2L501.9 592.7L502.7 588.1L501.2 583.5L498.8 581.9L496.5 580.4L495.8 577.3L496.5 573.5L497.3 570.4L494.2 572.7L491.9 576.5L490.4 580.4L488.8 584.2L485.8 586.5L482.7 585.8L479.6 581.9L475.8 577.3L471.9 572.7L468.8 568.1Z" fill="#FADFCC" stroke="#FADFCC" stroke-width="0.4"/>
<path d="M458.9 537.9L458.6 532.9L459.8 528.7L463.2 527.8L464.8 531.2L466.5 534.6L469.9 537.2L473.3 538.0L476.7 538.8L480.1 538.0L481.8 535.5L485.2 535.1L487.7 532.9L490.2 529.5L493.6 528.7L497.0 531.2L499.5 534.6L502.9 536.3L505.5 538.0L508.3 539.4L508.8 539.6L513.5 540.1L518.1 540.7L521.9 541.9L524.5 545.5L523.1 548.5L522.3 551.5L520.0 554.6L516.9 556.2L513.1 556.9L510.0 558.5L508.5 561.5L507.7 565.4L510.0 568.6L507.3 572.7L503.5 573.5L501.2 571.2L498.8 569.6L497.3 570.4L494.2 572.7L491.9 576.5L490.4 580.4L488.8 584.2L485.8 586.5L482.7 585.8L479.6 581.9L475.8 577.3L471.9 572.7L468.8 568.1L467.3 566.5L468.1 563.5L467.3 557.3L466.5 549.6L465.0 543.5L461.9 539.6Z" fill="#DA907A" stroke="#DA907A" stroke-width="0.4"/>
<path d="M524.5 545.5L523.1 548.5L522.3 551.5L520.0 554.6L516.9 556.2L513.1 556.9L510.0 558.5L508.5 561.5L507.7 565.4L510.0 568.6L511.5 569.2L513.8 567.7L516.2 568.5L519.2 566.9L522.3 566.2L525.4 568.5L528.5 570.0L530.0 567.7L530.8 564.6L530.0 561.8L527.7 560.3L526.9 556.9L530.0 554.6L533.8 553.1L536.2 550.0L534.2 546.5L530.0 546.9Z" fill="#E9B39C" stroke="#E9B39C" stroke-width="0.4"/>
<path d="M564.3 477.4L567.4 476.6L570.4 478.0L572.1 481.2L571.3 484.6L569.0 486.8L566.0 487.1L563.6 485.2L562.8 481.3Z" fill="#ffffff" stroke="#8f8f8f" stroke-width="0.5"/>
<path d="M571.0 482.1L572.6 482.7L574.3 484.6L575.7 487.1L576.0 489.5L575.1 491.3L575.8 493.5L573.5 494.2L571.5 491.8L570.4 488.1L570.2 484.6Z" fill="#FADFCC" stroke="#8f8f8f" stroke-width="0.5"/>
<path d="M350.0 507.0L355.0 504.0L360.0 503.0L365.0 504.0L370.0 505.6L375.0 505.0L380.0 506.0L385.0 507.0L390.0 505.6L395.0 505.0L400.0 506.0L405.0 505.6L410.0 506.0L415.0 508.0L419.0 509.0L423.0 508.0M423.0 508.0L423.7 504.2L422.5 500.8L421.4 496.5L422.0 492.3L425.1 491.1L430.2 490.6L436.0 489.0M436.0 489.0L435.6 487.2L436.9 483.8L439.5 480.8L443.7 479.6L448.8 478.8L452.2 475.4L454.7 471.2L456.4 466.9L457.6 463.9M423.0 508.0L418.0 511.0L414.6 516.0L414.0 522.0L416.0 528.0L420.0 530.4L425.1 532.9L430.2 535.5L436.1 537.2L441.2 538.0L445.4 539.7L449.6 543.1L453.8 542.2L458.1 539.7L458.9 537.9M436.0 489.0L441.2 491.5L444.5 494.8L449.6 496.5L453.8 497.4L458.1 494.0L461.5 492.3L465.7 492.3L469.9 493.2L474.2 496.5L478.4 499.1L482.6 501.6L486.8 505.0L490.2 508.4L491.9 513.5L490.2 517.7L487.7 521.1L486.0 525.3L485.2 528.7L483.5 527.0L480.9 527.0L479.2 528.7L481.8 531.2L484.3 532.1L485.2 535.1M458.9 537.9L458.6 532.9L459.8 528.7L463.2 527.8L464.8 531.2L466.5 534.6L469.9 537.2L473.3 538.0L476.7 538.8L480.1 538.0L481.8 535.5L485.2 535.1M458.9 537.9L461.9 539.6L465.0 543.5L466.5 549.6L467.3 557.3L468.1 563.5L467.3 566.5M467.3 566.5L459.8 571.3M464.3 466.6L465.4 470.3L466.5 475.4L469.1 479.6L473.3 480.5L476.7 481.3L477.5 484.7L480.1 488.1L483.5 490.6L486.0 493.2L487.7 494.3L491.1 493.2L494.5 491.5L497.8 492.3L498.7 495.7L497.0 499.1L496.2 502.5L499.5 504.2L503.0 505.5M503.0 505.5L504.7 508.2L505.9 511.8L507.2 515.5L509.0 518.0L511.5 519.2L513.6 521.7M503.0 505.5L506.5 505.1L509.0 503.2L510.2 499.5L511.5 495.2L512.7 492.8L513.9 492.8L515.2 496.5L514.5 500.8L516.4 503.8L517.6 506.9M517.6 506.9L514.5 507.5L513.3 509.4L513.6 513.1L514.5 516.8L513.6 521.7M517.6 506.9L520.7 509.4L524.4 512.5L525.6 516.2L525.0 519.8L521.3 520.5L518.8 522.9L515.8 522.9L513.6 521.7M513.6 521.7L512.2 522.8L511.4 527.8L513.1 532.9L510.5 537.2L508.3 539.4M485.2 535.1L487.7 532.9L490.2 529.5L493.6 528.7L497.0 531.2L499.5 534.6L502.9 536.3L505.5 538.0L508.3 539.4M508.3 539.4L508.8 539.6L513.5 540.1L518.1 540.7L521.9 541.9L524.5 545.5M524.5 545.5L523.1 548.5L522.3 551.5L520.0 554.6L516.9 556.2L513.1 556.9L510.0 558.5L508.5 561.5L507.7 565.4L510.0 568.6M510.0 568.6L507.3 572.7L503.5 573.5L501.2 571.2L498.8 569.6L497.3 570.4M467.3 566.5L468.8 568.1L471.9 572.7L475.8 577.3L479.6 581.9L482.7 585.8L485.8 586.5L488.8 584.2L490.4 580.4L491.9 576.5L494.2 572.7L497.3 570.4M497.3 570.4L496.5 573.5L495.8 577.3L496.5 580.4L498.8 581.9L501.2 583.5L502.7 588.1L501.9 592.7L503.1 596.2M503.1 596.2L505.0 600.0L507.4 604.0L508.6 607.6M503.1 596.2L506.2 596.9L509.2 595.4L513.1 593.8L516.9 593.1L520.8 592.3L524.6 590.8L528.5 589.2L531.5 587.7M528.5 570.0L530.8 573.1L531.5 576.9L532.3 580.8L533.1 584.6L531.5 587.7M510.0 568.6L511.5 569.2L513.8 567.7L516.2 568.5L519.2 566.9L522.3 566.2L525.4 568.5L528.5 570.0M530.0 561.8L530.8 564.6L530.0 567.7L528.5 570.0M534.2 546.5L536.2 550.0L533.8 553.1L530.0 554.6L526.9 556.9L527.7 560.3L530.0 561.8M524.5 545.5L530.0 546.9L534.2 546.5M534.2 546.5L533.1 542.3L532.3 538.5L534.5 536.0M534.5 536.0L540.6 534.6L539.8 532.1L538.1 528.7L536.4 524.5M536.4 524.5L535.9 517.7L536.4 510.9L535.2 504.2L536.4 497.4L537.2 491.5L538.1 490.6M538.1 490.6L534.7 493.7L530.5 496.5L525.4 499.1L520.3 501.6L517.6 506.9M538.1 490.6L539.3 489.3L543.2 486.4L545.7 483.8L550.8 483.0L554.3 482.4M554.3 482.4L555.6 486.0L556.3 489.5L554.2 492.2L552.8 495.7L554.2 499.2L555.6 502.6L554.9 506.8L556.3 510.5M556.3 510.5L552.5 515.2L549.1 517.7L544.0 521.1L539.8 523.6L536.4 524.5M556.3 510.5L559.8 513.7L562.5 515.1L564.6 515.8M564.6 515.8L563.9 513.0L564.6 509.5L566.0 506.1L568.1 503.3L570.8 500.5L573.6 498.5L576.4 497.1L579.2 496.4M564.6 515.8L565.3 518.5L567.4 520.6L570.2 523.4M570.2 523.4L572.2 521.3M572.2 521.3L575.4 520.9L578.5 521.8L581.5 521.4L583.8 520.2L587.0 518.4M570.2 523.4L568.5 529.5L566.8 532.9L566.0 536.3L566.8 540.5L569.4 543.1L567.5 546.0M534.5 536.0L536.2 534.6L539.2 536.9L543.8 539.2L548.5 540.8L553.1 539.2L557.7 540.0L561.5 543.1L567.5 546.0M567.5 546.0L570.0 547.7L572.3 551.5L573.1 555.4M573.1 555.4L570.8 557.7L566.9 558.5L563.1 560.8L560.8 562.3M530.0 561.8L532.3 560.0L535.4 558.5L538.5 556.2L542.3 556.9L546.2 557.7L550.0 558.5L554.6 559.2L558.5 560.8L560.8 562.3M560.8 562.3L560.0 566.2L560.8 570.8L559.2 574.6L560.8 578.5L561.5 583.1L562.3 587.7L563.8 590.8L565.4 593.8M565.4 593.8L561.5 593.1L557.7 592.3L553.8 591.5L550.8 592.3L548.5 593.8M548.5 593.8L546.2 590.8L543.8 587.7L540.8 586.2L537.7 586.9L534.6 588.5L531.5 587.7M548.5 593.8L548.9 596.2L547.7 599.2L546.2 603.1L543.8 606.9L542.3 610.8L540.0 613.8L537.7 616.9L536.2 620.0M565.4 593.8L568.5 595.4L571.5 594.6L574.6 595.4L579.2 594.2M579.2 594.2L582.0 597.0L584.0 599.0M579.2 594.2L578.5 591.4L577.2 588.6L576.5 585.2L577.8 581.7L579.2 578.2L580.6 574.8L582.7 571.3L584.8 568.5L587.5 567.8L589.5 565.5M589.5 565.5L589.6 563.0L588.2 559.5L586.5 557.0M573.1 555.4L575.8 556.1L579.9 556.8L584.8 557.5L586.5 557.0M586.5 557.0L590.3 554.0L592.4 551.2L594.5 549.2L594.5 544.2M572.2 521.3L575.4 523.2L578.5 524.5L581.2 525.8L582.7 528.1L584.6 530.8L586.9 532.3L586.2 534.6L586.9 536.9L588.5 539.2L590.8 541.5L593.1 543.1L594.5 544.2M594.5 544.2L597.0 544.9L600.0 545.0L602.8 543.6M589.5 565.5L592.4 569.2L594.5 571.3L597.9 572.0L601.4 572.0M576.9 383.9L578.5 386.2L580.0 389.3L583.1 390.8L585.4 393.2L586.9 396.2L590.0 395.5L593.1 393.9L596.2 393.2L598.5 393.9L600.0 397.0L599.2 401.6L598.9 406.2L599.2 410.8L598.5 415.5L596.2 418.5L593.8 420.8L591.5 423.2L590.3 425.5L592.3 427.8L594.6 430.1M594.6 430.1L597.7 432.4L600.8 434.7L604.6 435.5L608.5 434.7L612.3 435.5L616.2 437.0L620.0 437.8L623.1 439.3L626.2 440.8L628.5 442.4L632.7 440.5L636.7 439.5L640.3 441.0M594.6 430.1L592.3 433.2L590.8 436.2L591.5 440.1L593.1 443.2L593.8 446.2L595.4 448.5L597.7 450.8L600.0 453.2M600.0 453.2L603.8 452.4L607.7 453.2L610.8 455.5L613.1 458.5L614.6 461.6L616.9 463.2L620.0 461.6L623.1 460.8L625.4 460.8M600.0 453.2L596.9 455.5L594.6 457.8L591.5 460.1L588.5 462.4L586.2 464.7L582.5 466.4M582.5 466.4L581.9 470.1L582.6 473.5L583.3 476.3L584.7 478.4L585.4 479.5M554.3 482.4L552.8 477.7L554.2 472.8L557.0 470.8L559.8 469.4L563.2 468.7L566.0 466.6L569.5 465.2L571.5 463.8L574.3 464.5L577.8 465.2L579.8 464.5L582.5 466.4" fill="none" stroke="#787270" stroke-width="0.6" stroke-linejoin="round"/>
<path d="M526.5 619.2L529.0 618.6L531.5 618.2L534.0 619.2L536.2 620.0" fill="none" stroke="#35a8c8" stroke-width="1.1" opacity="1.00" stroke-linejoin="round" stroke-linecap="round"/>
<path d="M536.2 620.0L536.0 622.0L536.4 624.5L537.3 626.8L538.2 628.6L539.0 629.8L540.4 630.0L541.5 628.8L541.8 627.0L541.4 625.0L542.2 622.8L543.3 620.8L544.6 619.2L548.5 618.5L552.3 616.9L556.2 615.7L560.0 613.8L563.8 612.3L567.7 610.8L571.5 609.2L575.4 607.7L578.5 605.4L581.5 603.1L584.0 599.0" fill="none" stroke="#35a8c8" stroke-width="1.3" opacity="1.00" stroke-linejoin="round" stroke-linecap="round"/>
<path d="M587.0 518.4L591.7 520.1L595.2 522.8L597.2 527.0L599.3 530.5L602.1 533.2L604.8 535.3L606.9 536.7L607.6 539.5L605.5 541.5L602.8 543.6" fill="none" stroke="#35a8c8" stroke-width="1.0" opacity="1.00" stroke-linejoin="round" stroke-linecap="round"/>
<path d="M602.8 543.6L600.7 548.5L603.5 549.2L606.9 548.5L608.3 551.2L609.0 555.4L608.3 559.5L606.9 563.7L605.5 567.2L603.5 569.9L601.4 572.0" fill="none" stroke="#35a8c8" stroke-width="1.4" opacity="1.00" stroke-linejoin="round" stroke-linecap="round"/>
<path d="M601.4 572.0L600.0 575.5L598.6 578.9L596.5 582.4L594.5 585.8L591.7 589.3L588.9 592.8L586.2 595.5L584.0 599.0" fill="none" stroke="#35a8c8" stroke-width="1.4" opacity="1.00" stroke-linejoin="round" stroke-linecap="round"/>
<path d="M579.2 496.4L581.9 497.8L584.7 499.2L586.8 500.5L588.8 499.2L590.9 497.8L593.7 496.4L596.5 496.4L599.2 496.4L602.0 496.8L604.1 497.4L604.5 498.7L602.3 500.1L600.6 501.0L597.8 501.9L595.8 504.0L593.7 506.1L591.6 508.8L590.2 511.6L588.8 514.4L587.5 517.2L587.0 518.4" fill="none" stroke="#35a8c8" stroke-width="0.9" opacity="0.85" stroke-linejoin="round" stroke-linecap="round"/>
<path d="M585.4 479.5L583.3 482.5L580.5 485.3L577.8 487.4L575.7 488.8L575.0 490.8L575.7 492.9L577.1 495.0L579.2 496.4" fill="none" stroke="#35a8c8" stroke-width="0.6" opacity="0.60" stroke-linejoin="round" stroke-linecap="round"/>
<path d="M585.4 479.5L588.2 477.7L590.9 475.6L593.0 473.5L595.8 472.8L597.8 474.2L598.1 477.0L597.2 479.8L595.8 482.5L594.8 484.9L597.8 483.2L601.3 481.2L604.8 479.1L608.2 476.3L611.0 474.2L611.5 474.0" fill="none" stroke="#35a8c8" stroke-width="0.8" opacity="0.80" stroke-linejoin="round" stroke-linecap="round"/>
<path d="M350.0 507.0L347.7 503.9L347.3 498.3L343.6 496.4L339.9 492.7L337.5 489.9L336.1 485.3L333.4 482.5L330.8 479.7L334.3 476.9L335.7 473.2L333.8 469.5L330.6 468.6L330.1 464.9L331.0 462.1L334.3 457.9L339.9 456.0L345.0 457.0L347.7 459.7L351.9 457.4L358.4 456.5L365.9 454.2L371.5 452.9L374.1 449.1L377.4 446.4L377.4 439.4L376.3 434.1L381.1 432.8L386.5 433.2L389.8 434.6L391.4 429.8L394.6 423.8L396.8 421.1L400.5 423.8L404.8 425.2L408.6 424.4L409.7 419.0L412.4 415.8L416.1 415.2L418.3 411.5L422.0 412.0L423.7 416.3L427.4 420.6L431.7 424.9L433.9 429.8L433.4 436.2L432.3 441.6L437.0 444.4L443.0 446.0L448.0 447.6L452.0 450.0L453.0 452.5L456.4 457.6L457.6 463.9M457.6 463.9L460.6 465.2L464.3 466.6M350.0 507.0L349.0 512.0L348.0 517.0L345.0 521.0L344.6 526.0L347.0 530.0L351.0 534.0L355.0 538.0L359.0 540.0L363.0 543.0L367.0 547.0L372.0 551.0L376.0 555.0L380.0 559.0L384.0 562.0L389.0 563.6L394.0 566.0L399.0 567.0L402.0 571.0L405.0 567.0L410.0 567.6L415.0 569.0L419.0 572.0L422.0 576.0L427.0 577.0L432.0 576.0L437.0 573.0L442.0 571.0L448.0 570.0L445.0 569.0L451.0 571.0L456.0 570.0L459.0 569.0L459.8 571.3M459.8 571.3L463.1 575.4L462.6 583.1L459.5 589.2L456.2 593.1L456.9 597.7L458.5 600.8L461.5 602.3L463.1 606.2L466.2 610.0L465.4 613.8L469.2 616.6L473.1 619.2L475.4 617.7L477.7 618.5L480.0 621.5L481.8 620.8L482.6 616.2L483.5 613.1L487.7 612.3L491.5 613.1L495.4 611.5L500.0 610.8L504.6 608.5L508.6 607.6M508.6 607.6L511.5 610.8L515.4 613.1L517.7 616.9L522.3 618.5L526.5 619.2M611.5 474.0L613.1 472.4L615.4 470.1L617.7 467.8L620.0 465.5L622.3 463.2L625.4 460.8M625.4 460.8L626.9 458.5L628.5 456.2L630.8 453.9L633.1 452.4L635.4 450.1L637.7 449.3L636.2 447.8L638.5 447.0L640.8 445.0L640.3 441.0M576.9 383.9L580.8 381.6L585.4 380.8L590.0 380.8L593.8 382.4L596.9 384.7L599.2 387.8L601.5 391.6L603.8 394.7L606.2 397.8L609.2 400.1L613.1 401.6L616.9 403.2L620.8 403.9L624.6 405.5L627.7 407.8L630.8 410.1L633.8 410.8L636.2 408.5L639.2 406.2L642.3 403.9L645.4 402.4L647.2 401.6L646.9 405.5L646.2 410.1L645.7 414.7L646.2 419.3L645.7 423.9L644.2 427.0L639.3 430.7L636.9 432.7L638.7 436.7L640.3 441.0M464.3 466.6L470.0 466.9L477.0 467.1L483.0 467.6L487.0 469.0L492.0 471.3L497.0 473.0L502.0 473.5L504.5 475.0L507.7 472.7L510.8 470.4L518.5 468.1L527.7 466.5L534.6 462.7L538.5 458.1L536.9 452.7L540.0 448.1L546.2 448.1L552.3 445.0L558.5 440.4L563.8 435.0L569.2 431.9L575.4 429.6L576.9 428.1L572.3 425.0L566.2 426.5L560.8 428.1L556.2 425.0L557.7 418.8L559.2 415.0L557.7 414.7L560.0 412.4L563.8 411.6L567.7 410.1L570.8 407.0L572.3 402.4L573.1 397.8L573.8 393.2L572.8 389.3L571.5 387.0L573.8 384.7L576.9 383.9" fill="none" stroke="#3d3a5c" stroke-width="0.8" stroke-linejoin="round" stroke-linecap="round"/>
<path d="M602.8 543.6L600.7 548.5L603.5 549.2L606.9 548.5L608.3 551.2L609.0 555.4L608.3 559.5L606.9 563.7L605.5 567.2L603.5 569.9L601.4 572.0M601.4 572.0L600.0 575.5L598.6 578.9L596.5 582.4L594.5 585.8L591.7 589.3L588.9 592.8L586.2 595.5L584.0 599.0" fill="none" stroke="#2fa9cf" stroke-width="2.0" stroke-linejoin="round" stroke-linecap="round" opacity="0.9"/>
<g fill="#2fa9cf" opacity="0.85"><circle cx="538.2" cy="620.5" r="0.38"/><circle cx="537.8" cy="621.9" r="0.37"/><circle cx="537.0" cy="622.0" r="0.54"/><circle cx="538.5" cy="624.3" r="0.78"/><circle cx="538.1" cy="626.4" r="0.74"/><circle cx="538.4" cy="626.6" r="0.49"/><circle cx="540.4" cy="628.1" r="0.52"/><circle cx="538.9" cy="631.0" r="0.66"/><circle cx="539.2" cy="631.8" r="0.55"/><circle cx="542.9" cy="630.5" r="0.46"/><circle cx="542.4" cy="624.8" r="0.54"/><circle cx="542.6" cy="624.2" r="0.65"/><circle cx="544.7" cy="622.4" r="0.61"/><circle cx="547.7" cy="620.7" r="0.80"/><circle cx="550.7" cy="619.9" r="0.36"/><circle cx="549.3" cy="619.1" r="0.70"/><circle cx="553.7" cy="618.1" r="0.74"/><circle cx="554.6" cy="618.2" r="0.75"/><circle cx="558.4" cy="616.3" r="0.75"/><circle cx="557.4" cy="616.5" r="0.46"/><circle cx="560.6" cy="615.4" r="0.52"/><circle cx="572.0" cy="611.6" r="0.74"/><circle cx="569.6" cy="611.1" r="0.64"/><circle cx="568.4" cy="611.8" r="0.42"/><circle cx="572.0" cy="609.9" r="0.42"/><circle cx="573.3" cy="609.5" r="0.74"/><circle cx="573.1" cy="610.2" r="0.51"/><circle cx="579.7" cy="608.0" r="0.56"/><circle cx="576.6" cy="608.6" r="0.47"/><circle cx="580.2" cy="607.5" r="0.59"/><circle cx="580.6" cy="604.8" r="0.59"/><circle cx="583.4" cy="602.2" r="0.70"/><circle cx="584.2" cy="603.4" r="0.79"/><circle cx="588.9" cy="520.7" r="0.36"/><circle cx="591.8" cy="521.9" r="0.66"/><circle cx="596.7" cy="523.3" r="0.44"/><circle cx="603.0" cy="530.4" r="0.70"/><circle cx="602.5" cy="531.6" r="0.71"/><circle cx="604.5" cy="536.4" r="0.76"/><circle cx="610.2" cy="538.3" r="0.65"/><circle cx="609.5" cy="541.4" r="0.64"/><circle cx="605.7" cy="543.2" r="0.46"/><circle cx="604.2" cy="545.7" r="0.41"/><circle cx="604.1" cy="546.2" r="0.61"/><circle cx="605.3" cy="547.1" r="0.58"/><circle cx="602.5" cy="546.5" r="0.55"/><circle cx="605.9" cy="545.0" r="0.43"/><circle cx="602.1" cy="551.5" r="0.50"/><circle cx="601.4" cy="552.1" r="0.40"/><circle cx="601.0" cy="550.3" r="0.70"/><circle cx="606.0" cy="551.9" r="0.76"/><circle cx="606.1" cy="551.1" r="0.58"/><circle cx="605.5" cy="551.3" r="0.57"/><circle cx="606.6" cy="552.2" r="0.77"/><circle cx="611.1" cy="548.3" r="0.73"/><circle cx="609.1" cy="547.8" r="0.38"/><circle cx="609.7" cy="547.3" r="0.70"/><circle cx="611.5" cy="551.4" r="0.65"/><circle cx="612.8" cy="554.3" r="0.45"/><circle cx="610.9" cy="552.5" r="0.80"/><circle cx="610.6" cy="551.5" r="0.58"/><circle cx="610.7" cy="556.5" r="0.67"/><circle cx="610.8" cy="558.0" r="0.36"/><circle cx="611.0" cy="558.4" r="0.38"/><circle cx="612.3" cy="559.3" r="0.40"/><circle cx="611.4" cy="560.7" r="0.47"/><circle cx="611.2" cy="562.5" r="0.72"/><circle cx="611.7" cy="561.3" r="0.61"/><circle cx="609.1" cy="560.2" r="0.66"/><circle cx="610.4" cy="565.4" r="0.64"/><circle cx="610.1" cy="565.3" r="0.38"/><circle cx="608.0" cy="566.0" r="0.60"/><circle cx="607.7" cy="565.1" r="0.59"/><circle cx="606.4" cy="568.2" r="0.37"/><circle cx="606.3" cy="569.1" r="0.69"/><circle cx="605.6" cy="569.4" r="0.51"/><circle cx="605.7" cy="568.4" r="0.68"/><circle cx="604.7" cy="572.0" r="0.77"/><circle cx="603.3" cy="573.2" r="0.57"/><circle cx="604.4" cy="572.5" r="0.66"/><circle cx="603.1" cy="576.0" r="0.64"/><circle cx="601.8" cy="573.6" r="0.41"/><circle cx="601.9" cy="575.2" r="0.42"/><circle cx="602.2" cy="579.7" r="0.65"/><circle cx="601.3" cy="576.9" r="0.56"/><circle cx="600.9" cy="577.6" r="0.78"/><circle cx="601.4" cy="581.8" r="0.49"/><circle cx="600.3" cy="580.0" r="0.56"/><circle cx="600.3" cy="580.9" r="0.35"/><circle cx="600.2" cy="580.3" r="0.37"/><circle cx="597.2" cy="584.2" r="0.61"/><circle cx="597.5" cy="586.5" r="0.67"/><circle cx="597.3" cy="584.7" r="0.79"/><circle cx="597.5" cy="586.4" r="0.37"/><circle cx="594.2" cy="590.7" r="0.68"/><circle cx="596.0" cy="587.9" r="0.58"/><circle cx="594.9" cy="590.8" r="0.61"/><circle cx="594.9" cy="590.1" r="0.45"/><circle cx="595.6" cy="587.5" r="0.40"/><circle cx="592.3" cy="593.0" r="0.63"/><circle cx="591.0" cy="591.5" r="0.71"/><circle cx="592.3" cy="592.6" r="0.65"/><circle cx="590.9" cy="592.9" r="0.38"/><circle cx="590.8" cy="592.7" r="0.68"/><circle cx="589.5" cy="595.5" r="0.66"/><circle cx="589.2" cy="596.5" r="0.38"/><circle cx="590.5" cy="595.7" r="0.49"/><circle cx="587.0" cy="596.1" r="0.47"/><circle cx="587.2" cy="599.5" r="0.48"/><circle cx="587.1" cy="598.4" r="0.40"/><circle cx="589.1" cy="598.3" r="0.77"/></g>
<path d="M529.2 636.6L530.8 634.3L533.5 632.0L536.5 630.8L539.6 630.5L542.3 630.8L544.2 630.1L545.4 632.0L544.6 634.3L543.1 636.6L541.9 639.3L540.4 641.6L538.1 642.8L535.8 643.9L533.1 643.2L530.4 642.0L529.2 639.7Z" fill="#FADFCC" stroke="#5b9db5" stroke-width="0.8"/>
<path d="M612.9 584.6L614.7 586.0L615.6 587.9L614.7 590.6L614.0 594.4L613.6 598.1L613.3 601.3L612.4 604.1L611.0 606.4L609.6 608.7L610.1 611.1L608.7 609.2L606.8 606.9L605.0 604.1L604.0 601.3L604.5 598.1L605.9 594.4L607.7 590.2L609.6 586.9L611.5 585.1Z" fill="#fff" stroke="#2f7f98" stroke-width="0.8"/>
<path d="M622.0 589.2L622.0 596.2" stroke="#5a587e" stroke-width="1.7" opacity="0.85"/>
<path d="M615.6 616.6L619.4 611.5" stroke="#5a587e" stroke-width="1.7" opacity="0.85"/>
<path d="M605.4 639.0L608.0 633.6" stroke="#5a587e" stroke-width="1.7" opacity="0.85"/>
<path d="M604.0 656.4L604.0 662.4" stroke="#5a587e" stroke-width="1.7" opacity="0.85"/>
<path d="M603.4 691.0L606.0 685.4" stroke="#5a587e" stroke-width="1.7" opacity="0.85"/>
<path d="M583.4 721.0L589.0 716.0" stroke="#5a587e" stroke-width="1.7" opacity="0.85"/>
<path d="M558.0 749.6L564.0 747.6" stroke="#5a587e" stroke-width="1.7" opacity="0.85"/>
<path d="M528.0 724.0L528.0 730.0" stroke="#5a587e" stroke-width="1.7" opacity="0.85"/>
<path d="M541.6 687.0L541.6 693.0" stroke="#5a587e" stroke-width="1.7" opacity="0.85"/>
<path d="M535.4 660.6L538.0 665.6" stroke="#5a587e" stroke-width="1.7" opacity="0.85"/>
<g fill="#9a86b8" opacity="0.7"><circle cx="579.0" cy="621.0" r="0.55"/><circle cx="585.0" cy="623.0" r="0.55"/><circle cx="550.0" cy="652.4" r="0.55"/><circle cx="552.4" cy="656.0" r="0.55"/><circle cx="555.6" cy="653.0" r="0.55"/><circle cx="551.0" cy="659.0" r="0.55"/><circle cx="558.0" cy="654.4" r="0.55"/><circle cx="548.4" cy="660.0" r="0.55"/><circle cx="567.0" cy="660.0" r="0.55"/><circle cx="570.0" cy="658.0" r="0.55"/><circle cx="573.0" cy="659.6" r="0.55"/><circle cx="572.0" cy="657.0" r="0.55"/><circle cx="594.0" cy="662.0" r="0.55"/><circle cx="595.6" cy="661.0" r="0.55"/><circle cx="571.0" cy="692.0" r="0.55"/><circle cx="574.0" cy="694.0" r="0.55"/><circle cx="572.0" cy="698.0" r="0.55"/><circle cx="576.0" cy="696.0" r="0.55"/><circle cx="579.0" cy="699.0" r="0.55"/><circle cx="573.0" cy="702.0" r="0.55"/><circle cx="582.0" cy="696.0" r="0.55"/><circle cx="587.0" cy="690.0" r="0.55"/><circle cx="589.0" cy="687.0" r="0.55"/><circle cx="585.0" cy="688.0" r="0.55"/><circle cx="590.0" cy="693.0" r="0.55"/><circle cx="592.0" cy="703.0" r="0.55"/><circle cx="595.0" cy="692.0" r="0.55"/><circle cx="596.0" cy="694.0" r="0.55"/><circle cx="563.0" cy="704.0" r="0.55"/><circle cx="558.0" cy="709.0" r="0.55"/><circle cx="555.0" cy="711.0" r="0.55"/><circle cx="561.0" cy="710.0" r="0.55"/><circle cx="568.0" cy="709.0" r="0.55"/><circle cx="571.0" cy="712.0" r="0.55"/><circle cx="574.0" cy="715.0" r="0.55"/><circle cx="579.0" cy="713.0" r="0.55"/><circle cx="587.0" cy="709.0" r="0.55"/><circle cx="589.0" cy="705.0" r="0.55"/><circle cx="570.0" cy="720.0" r="0.55"/><circle cx="567.0" cy="724.0" r="0.55"/><circle cx="564.0" cy="727.0" r="0.55"/><circle cx="546.0" cy="716.0" r="0.55"/><circle cx="542.0" cy="717.0" r="0.55"/><circle cx="540.0" cy="720.0" r="0.55"/><circle cx="553.0" cy="720.0" r="0.55"/><circle cx="562.0" cy="733.0" r="0.55"/><circle cx="561.0" cy="738.0" r="0.55"/><circle cx="560.0" cy="744.0" r="0.55"/></g>
</g>
<g transform="translate(3.4,3.2)">
<path d="M166.50 28.00L183.80 28.00L170.70 30.10Z" fill="#111"/><path d="M166.50 28.00L183.80 28.00L170.70 25.90Z" fill="#fff" stroke="#222" stroke-width="0.25"/>
<path d="M166.50 28.00L166.50 45.30L164.40 32.20Z" fill="#111"/><path d="M166.50 28.00L166.50 45.30L168.60 32.20Z" fill="#fff" stroke="#222" stroke-width="0.25"/>
<path d="M166.50 28.00L149.20 28.00L162.30 25.90Z" fill="#111"/><path d="M166.50 28.00L149.20 28.00L162.30 30.10Z" fill="#fff" stroke="#222" stroke-width="0.25"/>
<path d="M166.50 28.00L166.50 10.70L168.60 23.80Z" fill="#111"/><path d="M166.50 28.00L166.50 10.70L164.40 23.80Z" fill="#fff" stroke="#222" stroke-width="0.25"/>
<text x="166.5" y="7.5" font-size="7.6" text-anchor="middle" fill="#222">N</text>
<path d="M147.6 70V76.2H185.8V70" fill="none" stroke="#333" stroke-width="0.9"/>
<text x="148" y="65.8" font-size="11.7" text-anchor="middle" fill="#222">0</text>
<text x="176.5" y="65.8" font-size="11.7" fill="#222">600 km</text>
</g>
<text x="8.6" y="31.6" font-size="14.4" fill="#222">a.2010</text>
<text x="48.2" y="32.3" font-size="15.3" fill="#222">年</text>
<g transform="translate(-0.3,0.3)">
<text x="22.9" y="246.3" font-size="14.3" fill="#222">图例</text>
<text x="22.8" y="266" font-size="14.75" fill="#222">地理标志大米数量</text>
<text x="139" y="266" font-size="14.75" fill="#222">（</text>
<text x="156.35" y="266" font-size="14.75" fill="#222">件</text>
<text x="174.1" y="266" font-size="14.75" fill="#222">）</text>
<rect x="22.9" y="272.10" width="25.8" height="12.8" fill="#FADFCC" stroke="#7d7d7d" stroke-width="0.7"/>
<text x="53.6" y="283.00" font-size="14.8" fill="#222">0~5</text>
<rect x="22.9" y="289.75" width="25.8" height="12.8" fill="#E9B39C" stroke="#7d7d7d" stroke-width="0.7"/>
<text x="53.6" y="300.65" font-size="14.8" fill="#222">6~10</text>
<rect x="22.9" y="307.40" width="25.8" height="12.8" fill="#DA907A" stroke="#7d7d7d" stroke-width="0.7"/>
<text x="53.6" y="318.30" font-size="14.8" fill="#222">11~20</text>
<rect x="22.9" y="325.05" width="25.8" height="12.8" fill="#C56D54" stroke="#7d7d7d" stroke-width="0.7"/>
<text x="53.6" y="335.95" font-size="14.8" fill="#222">21~30</text>
<rect x="22.9" y="342.70" width="25.8" height="12.8" fill="#AA462C" stroke="#7d7d7d" stroke-width="0.7"/>
<text x="53.6" y="353.60" font-size="14.8" fill="#222">31</text>
<rect x="22.9" y="360.35" width="25.8" height="12.8" fill="#fff" stroke="#7d7d7d" stroke-width="0.7"/>
<text x="68.2" y="353.9" font-size="15.2" fill="#222">及以上</text>
<text x="53.6" y="371.55" font-size="15" fill="#222">无数据</text>
</g>
<g transform="translate(325.0,3.2)">
<path d="M166.50 28.00L183.80 28.00L170.70 30.10Z" fill="#111"/><path d="M166.50 28.00L183.80 28.00L170.70 25.90Z" fill="#fff" stroke="#222" stroke-width="0.25"/>
<path d="M166.50 28.00L166.50 45.30L164.40 32.20Z" fill="#111"/><path d="M166.50 28.00L166.50 45.30L168.60 32.20Z" fill="#fff" stroke="#222" stroke-width="0.25"/>
<path d="M166.50 28.00L149.20 28.00L162.30 25.90Z" fill="#111"/><path d="M166.50 28.00L149.20 28.00L162.30 30.10Z" fill="#fff" stroke="#222" stroke-width="0.25"/>
<path d="M166.50 28.00L166.50 10.70L168.60 23.80Z" fill="#111"/><path d="M166.50 28.00L166.50 10.70L164.40 23.80Z" fill="#fff" stroke="#222" stroke-width="0.25"/>
<text x="166.5" y="7.5" font-size="7.6" text-anchor="middle" fill="#222">N</text>
<path d="M147.6 70V76.2H185.8V70" fill="none" stroke="#333" stroke-width="0.9"/>
<text x="148" y="65.8" font-size="11.7" text-anchor="middle" fill="#222">0</text>
<text x="176.5" y="65.8" font-size="11.7" fill="#222">600 km</text>
</g>
<text x="335.2" y="32.2" font-size="14.4" fill="#222">b.2015</text>
<text x="374.8" y="32.9" font-size="15.3" fill="#222">年</text>
<g transform="translate(329.3,-1.1)">
<text x="22.9" y="246.3" font-size="14.3" fill="#222">图例</text>
<text x="22.8" y="266" font-size="14.75" fill="#222">地理标志大米数量</text>
<text x="139" y="266" font-size="14.75" fill="#222">（</text>
<text x="156.35" y="266" font-size="14.75" fill="#222">件</text>
<text x="174.1" y="266" font-size="14.75" fill="#222">）</text>
<rect x="22.9" y="272.10" width="25.8" height="12.8" fill="#FADFCC" stroke="#7d7d7d" stroke-width="0.7"/>
<text x="53.6" y="283.00" font-size="14.8" fill="#222">0~5</text>
<rect x="22.9" y="289.75" width="25.8" height="12.8" fill="#E9B39C" stroke="#7d7d7d" stroke-width="0.7"/>
<text x="53.6" y="300.65" font-size="14.8" fill="#222">6~10</text>
<rect x="22.9" y="307.40" width="25.8" height="12.8" fill="#DA907A" stroke="#7d7d7d" stroke-width="0.7"/>
<text x="53.6" y="318.30" font-size="14.8" fill="#222">11~20</text>
<rect x="22.9" y="325.05" width="25.8" height="12.8" fill="#C56D54" stroke="#7d7d7d" stroke-width="0.7"/>
<text x="53.6" y="335.95" font-size="14.8" fill="#222">21~30</text>
<rect x="22.9" y="342.70" width="25.8" height="12.8" fill="#AA462C" stroke="#7d7d7d" stroke-width="0.7"/>
<text x="53.6" y="353.60" font-size="14.8" fill="#222">31</text>
<rect x="22.9" y="360.35" width="25.8" height="12.8" fill="#fff" stroke="#7d7d7d" stroke-width="0.7"/>
<text x="68.2" y="353.9" font-size="15.2" fill="#222">及以上</text>
<text x="53.6" y="371.55" font-size="15" fill="#222">无数据</text>
</g>
<g transform="translate(3.4,377.0)">
<path d="M166.50 28.00L183.80 28.00L170.70 30.10Z" fill="#111"/><path d="M166.50 28.00L183.80 28.00L170.70 25.90Z" fill="#fff" stroke="#222" stroke-width="0.25"/>
<path d="M166.50 28.00L166.50 45.30L164.40 32.20Z" fill="#111"/><path d="M166.50 28.00L166.50 45.30L168.60 32.20Z" fill="#fff" stroke="#222" stroke-width="0.25"/>
<path d="M166.50 28.00L149.20 28.00L162.30 25.90Z" fill="#111"/><path d="M166.50 28.00L149.20 28.00L162.30 30.10Z" fill="#fff" stroke="#222" stroke-width="0.25"/>
<path d="M166.50 28.00L166.50 10.70L168.60 23.80Z" fill="#111"/><path d="M166.50 28.00L166.50 10.70L164.40 23.80Z" fill="#fff" stroke="#222" stroke-width="0.25"/>
<text x="166.5" y="7.5" font-size="7.6" text-anchor="middle" fill="#222">N</text>
<path d="M147.6 70V76.2H185.8V70" fill="none" stroke="#333" stroke-width="0.9"/>
<text x="148" y="65.8" font-size="11.7" text-anchor="middle" fill="#222">0</text>
<text x="176.5" y="65.8" font-size="11.7" fill="#222">600 km</text>
</g>
<text x="9.5" y="406.7" font-size="14.4" fill="#222">c.2020</text>
<text x="49.1" y="407.4" font-size="15.3" fill="#222">年</text>
<g transform="translate(-0.9,377.3)">
<text x="22.9" y="246.3" font-size="14.3" fill="#222">图例</text>
<text x="22.8" y="266" font-size="14.75" fill="#222">地理标志大米数量</text>
<text x="139" y="266" font-size="14.75" fill="#222">（</text>
<text x="156.35" y="266" font-size="14.75" fill="#222">件</text>
<text x="174.1" y="266" font-size="14.75" fill="#222">）</text>
<rect x="22.9" y="272.10" width="25.8" height="12.8" fill="#FADFCC" stroke="#7d7d7d" stroke-width="0.7"/>
<text x="53.6" y="283.00" font-size="14.8" fill="#222">0~5</text>
<rect x="22.9" y="289.75" width="25.8" height="12.8" fill="#E9B39C" stroke="#7d7d7d" stroke-width="0.7"/>
<text x="53.6" y="300.65" font-size="14.8" fill="#222">6~10</text>
<rect x="22.9" y="307.40" width="25.8" height="12.8" fill="#DA907A" stroke="#7d7d7d" stroke-width="0.7"/>
<text x="53.6" y="318.30" font-size="14.8" fill="#222">11~20</text>
<rect x="22.9" y="325.05" width="25.8" height="12.8" fill="#C56D54" stroke="#7d7d7d" stroke-width="0.7"/>
<text x="53.6" y="335.95" font-size="14.8" fill="#222">21~30</text>
<rect x="22.9" y="342.70" width="25.8" height="12.8" fill="#AA462C" stroke="#7d7d7d" stroke-width="0.7"/>
<text x="53.6" y="353.60" font-size="14.8" fill="#222">31</text>
<rect x="22.9" y="360.35" width="25.8" height="12.8" fill="#fff" stroke="#7d7d7d" stroke-width="0.7"/>
<text x="68.2" y="353.9" font-size="15.2" fill="#222">及以上</text>
<text x="53.6" y="371.55" font-size="15" fill="#222">无数据</text>
</g>
<g transform="translate(325.0,377.0)">
<path d="M166.50 28.00L183.80 28.00L170.70 30.10Z" fill="#111"/><path d="M166.50 28.00L183.80 28.00L170.70 25.90Z" fill="#fff" stroke="#222" stroke-width="0.25"/>
<path d="M166.50 28.00L166.50 45.30L164.40 32.20Z" fill="#111"/><path d="M166.50 28.00L166.50 45.30L168.60 32.20Z" fill="#fff" stroke="#222" stroke-width="0.25"/>
<path d="M166.50 28.00L149.20 28.00L162.30 25.90Z" fill="#111"/><path d="M166.50 28.00L149.20 28.00L162.30 30.10Z" fill="#fff" stroke="#222" stroke-width="0.25"/>
<path d="M166.50 28.00L166.50 10.70L168.60 23.80Z" fill="#111"/><path d="M166.50 28.00L166.50 10.70L164.40 23.80Z" fill="#fff" stroke="#222" stroke-width="0.25"/>
<text x="166.5" y="7.5" font-size="7.6" text-anchor="middle" fill="#222">N</text>
<path d="M147.6 70V76.2H185.8V70" fill="none" stroke="#333" stroke-width="0.9"/>
<text x="148" y="65.8" font-size="11.7" text-anchor="middle" fill="#222">0</text>
<text x="176.5" y="65.8" font-size="11.7" fill="#222">600 km</text>
</g>
<text x="334.5" y="407.0" font-size="14.4" fill="#222">d.2025</text>
<text x="374.1" y="407.7" font-size="15.3" fill="#222">年</text>
<g transform="translate(325.0,377.0)">
<text x="22.9" y="246.3" font-size="14.3" fill="#222">图例</text>
<text x="22.8" y="266" font-size="14.75" fill="#222">地理标志大米数量</text>
<text x="139" y="266" font-size="14.75" fill="#222">（</text>
<text x="156.35" y="266" font-size="14.75" fill="#222">件</text>
<text x="174.1" y="266" font-size="14.75" fill="#222">）</text>
<rect x="22.9" y="272.10" width="25.8" height="12.8" fill="#FADFCC" stroke="#7d7d7d" stroke-width="0.7"/>
<text x="53.6" y="283.00" font-size="14.8" fill="#222">0~5</text>
<rect x="22.9" y="289.75" width="25.8" height="12.8" fill="#E9B39C" stroke="#7d7d7d" stroke-width="0.7"/>
<text x="53.6" y="300.65" font-size="14.8" fill="#222">6~10</text>
<rect x="22.9" y="307.40" width="25.8" height="12.8" fill="#DA907A" stroke="#7d7d7d" stroke-width="0.7"/>
<text x="53.6" y="318.30" font-size="14.8" fill="#222">11~20</text>
<rect x="22.9" y="325.05" width="25.8" height="12.8" fill="#C56D54" stroke="#7d7d7d" stroke-width="0.7"/>
<text x="53.6" y="335.95" font-size="14.8" fill="#222">21~30</text>
<rect x="22.9" y="342.70" width="25.8" height="12.8" fill="#AA462C" stroke="#7d7d7d" stroke-width="0.7"/>
<text x="53.6" y="353.60" font-size="14.8" fill="#222">31</text>
<rect x="22.9" y="360.35" width="25.8" height="12.8" fill="#fff" stroke="#7d7d7d" stroke-width="0.7"/>
<text x="68.2" y="353.9" font-size="15.2" fill="#222">及以上</text>
<text x="53.6" y="371.55" font-size="15" fill="#222">无数据</text>
</g>
</svg></body></html>
